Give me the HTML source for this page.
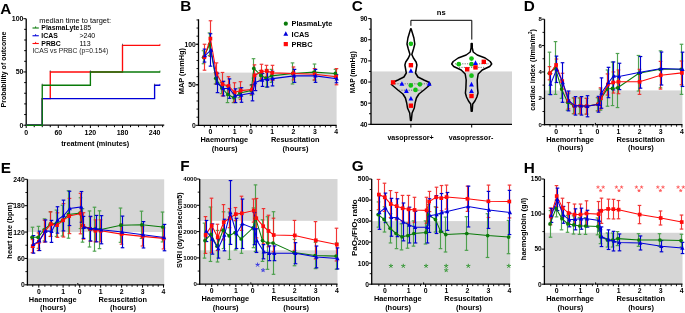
<!DOCTYPE html>
<html><head><meta charset="utf-8"><style>
html,body{margin:0;padding:0;background:#fff;width:685px;height:313px;overflow:hidden}
svg{display:block;will-change:transform}
text{font-family:"Liberation Sans", sans-serif}
</style></head><body>
<svg width="685" height="313" viewBox="0 0 685 313" font-family='"Liberation Sans", sans-serif'>
<rect x="0.00" y="0.00" width="685.00" height="313.00" fill="#fff"/>
<text x="0.20" y="13.90" font-size="15.3" font-weight="bold" text-anchor="start" fill="#000">A</text>
<line x1="26.20" y1="18.70" x2="26.20" y2="125.80" stroke="#000" stroke-width="1.3"/>
<line x1="23.40" y1="125.20" x2="26.20" y2="125.20" stroke="#000" stroke-width="1.0"/>
<text x="23.50" y="127.70" font-size="7.0" font-weight="bold" text-anchor="end" fill="#000">0</text>
<line x1="24.20" y1="114.55" x2="26.20" y2="114.55" stroke="#000" stroke-width="1.0"/>
<line x1="24.20" y1="103.90" x2="26.20" y2="103.90" stroke="#000" stroke-width="1.0"/>
<line x1="24.20" y1="93.25" x2="26.20" y2="93.25" stroke="#000" stroke-width="1.0"/>
<line x1="24.20" y1="82.60" x2="26.20" y2="82.60" stroke="#000" stroke-width="1.0"/>
<line x1="23.40" y1="71.95" x2="26.20" y2="71.95" stroke="#000" stroke-width="1.0"/>
<text x="23.50" y="74.45" font-size="7.0" font-weight="bold" text-anchor="end" fill="#000">50</text>
<line x1="24.20" y1="61.30" x2="26.20" y2="61.30" stroke="#000" stroke-width="1.0"/>
<line x1="24.20" y1="50.65" x2="26.20" y2="50.65" stroke="#000" stroke-width="1.0"/>
<line x1="24.20" y1="40.00" x2="26.20" y2="40.00" stroke="#000" stroke-width="1.0"/>
<line x1="24.20" y1="29.35" x2="26.20" y2="29.35" stroke="#000" stroke-width="1.0"/>
<line x1="23.40" y1="18.70" x2="26.20" y2="18.70" stroke="#000" stroke-width="1.0"/>
<text x="23.50" y="21.20" font-size="7.0" font-weight="bold" text-anchor="end" fill="#000">100</text>
<line x1="25.60" y1="125.20" x2="164.23" y2="125.20" stroke="#000" stroke-width="1.3"/>
<line x1="26.20" y1="125.20" x2="26.20" y2="128.00" stroke="#000" stroke-width="1.0"/>
<text x="26.20" y="134.60" font-size="7.0" font-weight="bold" text-anchor="middle" fill="#000">0</text>
<line x1="34.23" y1="125.20" x2="34.23" y2="127.20" stroke="#000" stroke-width="1.0"/>
<line x1="42.25" y1="125.20" x2="42.25" y2="127.20" stroke="#000" stroke-width="1.0"/>
<line x1="50.27" y1="125.20" x2="50.27" y2="127.20" stroke="#000" stroke-width="1.0"/>
<line x1="58.30" y1="125.20" x2="58.30" y2="128.00" stroke="#000" stroke-width="1.0"/>
<text x="58.30" y="134.60" font-size="7.0" font-weight="bold" text-anchor="middle" fill="#000">60</text>
<line x1="66.33" y1="125.20" x2="66.33" y2="127.20" stroke="#000" stroke-width="1.0"/>
<line x1="74.35" y1="125.20" x2="74.35" y2="127.20" stroke="#000" stroke-width="1.0"/>
<line x1="82.38" y1="125.20" x2="82.38" y2="127.20" stroke="#000" stroke-width="1.0"/>
<line x1="90.40" y1="125.20" x2="90.40" y2="128.00" stroke="#000" stroke-width="1.0"/>
<text x="90.40" y="134.60" font-size="7.0" font-weight="bold" text-anchor="middle" fill="#000">120</text>
<line x1="98.42" y1="125.20" x2="98.42" y2="127.20" stroke="#000" stroke-width="1.0"/>
<line x1="106.45" y1="125.20" x2="106.45" y2="127.20" stroke="#000" stroke-width="1.0"/>
<line x1="114.48" y1="125.20" x2="114.48" y2="127.20" stroke="#000" stroke-width="1.0"/>
<line x1="122.50" y1="125.20" x2="122.50" y2="128.00" stroke="#000" stroke-width="1.0"/>
<text x="122.50" y="134.60" font-size="7.0" font-weight="bold" text-anchor="middle" fill="#000">180</text>
<line x1="130.53" y1="125.20" x2="130.53" y2="127.20" stroke="#000" stroke-width="1.0"/>
<line x1="138.55" y1="125.20" x2="138.55" y2="127.20" stroke="#000" stroke-width="1.0"/>
<line x1="146.57" y1="125.20" x2="146.57" y2="127.20" stroke="#000" stroke-width="1.0"/>
<line x1="154.60" y1="125.20" x2="154.60" y2="128.00" stroke="#000" stroke-width="1.0"/>
<text x="154.60" y="134.60" font-size="7.0" font-weight="bold" text-anchor="middle" fill="#000">240</text>
<line x1="162.62" y1="125.20" x2="162.62" y2="127.20" stroke="#000" stroke-width="1.0"/>
<text x="95.20" y="145.60" font-size="7.3" font-weight="bold" text-anchor="middle" fill="#000">treatment (minutes)</text>
<text x="6.3" y="69.6" font-size="7.0" font-weight="bold" text-anchor="middle" transform="rotate(-90 6.3 69.6)">Probability of outcome</text>
<polyline points="26.20,125.20 42.25,125.20 42.25,98.58 50.27,98.58 50.27,71.95 122.50,71.95 122.50,45.33 159.95,45.33" fill="none" stroke="#ff0a0a" stroke-width="1.35"/>
<polyline points="26.20,125.20 42.25,125.20 42.25,98.58 154.60,98.58 154.60,85.26 159.95,85.26" fill="none" stroke="#0000d8" stroke-width="1.35"/>
<polyline points="26.20,125.20 42.25,125.20 42.25,85.26 90.40,85.26 90.40,71.95 159.95,71.95" fill="none" stroke="#0a7a0a" stroke-width="1.35"/>
<line x1="159.95" y1="43.93" x2="159.95" y2="45.93" stroke="#ff0a0a" stroke-width="0.8"/>
<line x1="159.95" y1="83.86" x2="159.95" y2="85.86" stroke="#0000d8" stroke-width="0.8"/>
<line x1="159.95" y1="70.55" x2="159.95" y2="72.55" stroke="#0a7a0a" stroke-width="0.8"/>
<line x1="42.25" y1="83.66" x2="42.25" y2="85.26" stroke="#333" stroke-width="0.7"/>
<line x1="50.27" y1="70.35" x2="50.27" y2="71.95" stroke="#333" stroke-width="0.7"/>
<line x1="90.40" y1="70.35" x2="90.40" y2="71.95" stroke="#333" stroke-width="0.7"/>
<line x1="122.50" y1="43.73" x2="122.50" y2="45.33" stroke="#333" stroke-width="0.7"/>
<line x1="154.60" y1="83.66" x2="154.60" y2="85.26" stroke="#333" stroke-width="0.7"/>
<text x="39.20" y="22.60" font-size="7.45" font-weight="normal" text-anchor="start" fill="#000">median time to target:</text>
<line x1="32.50" y1="28.00" x2="38.80" y2="28.00" stroke="#0a7a0a" stroke-width="1.1"/>
<line x1="35.60" y1="26.40" x2="35.60" y2="28.00" stroke="#0a7a0a" stroke-width="0.9"/>
<text x="41.30" y="30.30" font-size="6.9" font-weight="bold" text-anchor="start" fill="#000">PlasmaLyte</text>
<text x="79.50" y="30.30" font-size="7.0" font-weight="normal" text-anchor="start" fill="#000">185</text>
<line x1="32.50" y1="35.75" x2="38.80" y2="35.75" stroke="#0000d8" stroke-width="1.1"/>
<line x1="35.60" y1="34.15" x2="35.60" y2="35.75" stroke="#0000d8" stroke-width="0.9"/>
<text x="41.30" y="38.05" font-size="6.9" font-weight="bold" text-anchor="start" fill="#000">ICAS</text>
<text x="79.50" y="38.05" font-size="7.0" font-weight="normal" text-anchor="start" fill="#000">&gt;240</text>
<line x1="32.50" y1="43.50" x2="38.80" y2="43.50" stroke="#ff0a0a" stroke-width="1.1"/>
<line x1="35.60" y1="41.90" x2="35.60" y2="43.50" stroke="#ff0a0a" stroke-width="0.9"/>
<text x="41.30" y="45.80" font-size="6.9" font-weight="bold" text-anchor="start" fill="#000">PRBC</text>
<text x="79.50" y="45.80" font-size="7.0" font-weight="normal" text-anchor="start" fill="#000">113</text>
<text x="32.40" y="53.20" font-size="6.75" font-weight="normal" text-anchor="start" fill="#222">ICAS vs PRBC (p=0.154)</text>
<text x="180.30" y="11.00" font-size="15.3" font-weight="bold" text-anchor="start" fill="#000">B</text>
<rect x="198.50" y="72.62" width="138.10" height="52.68" fill="#d6d6d6"/>
<g stroke="#3f9a3f" stroke-width="1.15" opacity="0.9">
<line x1="203.50" y1="50.74" x2="203.50" y2="63.71" stroke="#3f9a3f" stroke-width="1.15"/>
<line x1="201.70" y1="50.74" x2="205.30" y2="50.74" stroke="#3f9a3f" stroke-width="1.2"/>
<line x1="201.70" y1="63.71" x2="205.30" y2="63.71" stroke="#3f9a3f" stroke-width="1.2"/>
</g>
<g stroke="#3f9a3f" stroke-width="1.15" opacity="0.9">
<line x1="209.50" y1="32.91" x2="209.50" y2="55.61" stroke="#3f9a3f" stroke-width="1.15"/>
<line x1="207.70" y1="32.91" x2="211.30" y2="32.91" stroke="#3f9a3f" stroke-width="1.2"/>
<line x1="207.70" y1="55.61" x2="211.30" y2="55.61" stroke="#3f9a3f" stroke-width="1.2"/>
</g>
<g stroke="#3f9a3f" stroke-width="1.15" opacity="0.9">
<line x1="215.50" y1="72.62" x2="215.50" y2="83.97" stroke="#3f9a3f" stroke-width="1.15"/>
<line x1="213.70" y1="72.62" x2="217.30" y2="72.62" stroke="#3f9a3f" stroke-width="1.2"/>
<line x1="213.70" y1="83.97" x2="217.30" y2="83.97" stroke="#3f9a3f" stroke-width="1.2"/>
</g>
<g stroke="#3f9a3f" stroke-width="1.15" opacity="0.9">
<line x1="221.50" y1="82.35" x2="221.50" y2="93.69" stroke="#3f9a3f" stroke-width="1.15"/>
<line x1="219.70" y1="82.35" x2="223.30" y2="82.35" stroke="#3f9a3f" stroke-width="1.2"/>
<line x1="219.70" y1="93.69" x2="223.30" y2="93.69" stroke="#3f9a3f" stroke-width="1.2"/>
</g>
<g stroke="#3f9a3f" stroke-width="1.15" opacity="0.9">
<line x1="227.50" y1="86.40" x2="227.50" y2="102.61" stroke="#3f9a3f" stroke-width="1.15"/>
<line x1="225.70" y1="86.40" x2="229.30" y2="86.40" stroke="#3f9a3f" stroke-width="1.2"/>
<line x1="225.70" y1="102.61" x2="229.30" y2="102.61" stroke="#3f9a3f" stroke-width="1.2"/>
</g>
<g stroke="#3f9a3f" stroke-width="1.15" opacity="0.9">
<line x1="233.50" y1="92.88" x2="233.50" y2="102.61" stroke="#3f9a3f" stroke-width="1.15"/>
<line x1="231.70" y1="92.88" x2="235.30" y2="92.88" stroke="#3f9a3f" stroke-width="1.2"/>
<line x1="231.70" y1="102.61" x2="235.30" y2="102.61" stroke="#3f9a3f" stroke-width="1.2"/>
</g>
<g stroke="#3f9a3f" stroke-width="1.15" opacity="0.9">
<line x1="239.50" y1="88.02" x2="239.50" y2="97.75" stroke="#3f9a3f" stroke-width="1.15"/>
<line x1="237.70" y1="88.02" x2="241.30" y2="88.02" stroke="#3f9a3f" stroke-width="1.2"/>
<line x1="237.70" y1="97.75" x2="241.30" y2="97.75" stroke="#3f9a3f" stroke-width="1.2"/>
</g>
<g stroke="#3f9a3f" stroke-width="1.15" opacity="0.9">
<line x1="251.50" y1="85.59" x2="251.50" y2="95.32" stroke="#3f9a3f" stroke-width="1.15"/>
<line x1="249.70" y1="85.59" x2="253.30" y2="85.59" stroke="#3f9a3f" stroke-width="1.2"/>
<line x1="249.70" y1="95.32" x2="253.30" y2="95.32" stroke="#3f9a3f" stroke-width="1.2"/>
</g>
<g stroke="#3f9a3f" stroke-width="1.15" opacity="0.9">
<line x1="253.50" y1="58.69" x2="253.50" y2="78.13" stroke="#3f9a3f" stroke-width="1.15"/>
<line x1="251.70" y1="58.69" x2="255.30" y2="58.69" stroke="#3f9a3f" stroke-width="1.2"/>
<line x1="251.70" y1="78.13" x2="255.30" y2="78.13" stroke="#3f9a3f" stroke-width="1.2"/>
</g>
<g stroke="#3f9a3f" stroke-width="1.15" opacity="0.9">
<line x1="260.50" y1="70.52" x2="260.50" y2="80.24" stroke="#3f9a3f" stroke-width="1.15"/>
<line x1="258.70" y1="70.52" x2="262.30" y2="70.52" stroke="#3f9a3f" stroke-width="1.2"/>
<line x1="258.70" y1="80.24" x2="262.30" y2="80.24" stroke="#3f9a3f" stroke-width="1.2"/>
</g>
<g stroke="#3f9a3f" stroke-width="1.15" opacity="0.9">
<line x1="266.50" y1="69.38" x2="266.50" y2="87.21" stroke="#3f9a3f" stroke-width="1.15"/>
<line x1="264.70" y1="69.38" x2="268.30" y2="69.38" stroke="#3f9a3f" stroke-width="1.2"/>
<line x1="264.70" y1="87.21" x2="268.30" y2="87.21" stroke="#3f9a3f" stroke-width="1.2"/>
</g>
<g stroke="#3f9a3f" stroke-width="1.15" opacity="0.9">
<line x1="271.50" y1="69.38" x2="271.50" y2="82.35" stroke="#3f9a3f" stroke-width="1.15"/>
<line x1="269.70" y1="69.38" x2="273.30" y2="69.38" stroke="#3f9a3f" stroke-width="1.2"/>
<line x1="269.70" y1="82.35" x2="273.30" y2="82.35" stroke="#3f9a3f" stroke-width="1.2"/>
</g>
<g stroke="#3f9a3f" stroke-width="1.15" opacity="0.9">
<line x1="292.50" y1="62.90" x2="292.50" y2="83.97" stroke="#3f9a3f" stroke-width="1.15"/>
<line x1="290.70" y1="62.90" x2="294.30" y2="62.90" stroke="#3f9a3f" stroke-width="1.2"/>
<line x1="290.70" y1="83.97" x2="294.30" y2="83.97" stroke="#3f9a3f" stroke-width="1.2"/>
</g>
<g stroke="#3f9a3f" stroke-width="1.15" opacity="0.9">
<line x1="314.50" y1="64.03" x2="314.50" y2="80.24" stroke="#3f9a3f" stroke-width="1.15"/>
<line x1="312.70" y1="64.03" x2="316.30" y2="64.03" stroke="#3f9a3f" stroke-width="1.2"/>
<line x1="312.70" y1="80.24" x2="316.30" y2="80.24" stroke="#3f9a3f" stroke-width="1.2"/>
</g>
<g stroke="#3f9a3f" stroke-width="1.15" opacity="0.9">
<line x1="335.50" y1="69.38" x2="335.50" y2="77.49" stroke="#3f9a3f" stroke-width="1.15"/>
<line x1="333.70" y1="69.38" x2="337.30" y2="69.38" stroke="#3f9a3f" stroke-width="1.2"/>
<line x1="333.70" y1="77.49" x2="337.30" y2="77.49" stroke="#3f9a3f" stroke-width="1.2"/>
</g>
<g stroke="#f02020" stroke-width="1.15" opacity="0.9">
<line x1="204.50" y1="44.26" x2="204.50" y2="70.19" stroke="#f02020" stroke-width="1.15"/>
<line x1="202.70" y1="44.26" x2="206.30" y2="44.26" stroke="#f02020" stroke-width="1.2"/>
<line x1="202.70" y1="70.19" x2="206.30" y2="70.19" stroke="#f02020" stroke-width="1.2"/>
</g>
<g stroke="#f02020" stroke-width="1.15" opacity="0.9">
<line x1="210.50" y1="20.76" x2="210.50" y2="56.42" stroke="#f02020" stroke-width="1.15"/>
<line x1="208.70" y1="20.76" x2="212.30" y2="20.76" stroke="#f02020" stroke-width="1.2"/>
<line x1="208.70" y1="56.42" x2="212.30" y2="56.42" stroke="#f02020" stroke-width="1.2"/>
</g>
<g stroke="#f02020" stroke-width="1.15" opacity="0.9">
<line x1="216.50" y1="62.90" x2="216.50" y2="83.97" stroke="#f02020" stroke-width="1.15"/>
<line x1="214.70" y1="62.90" x2="218.30" y2="62.90" stroke="#f02020" stroke-width="1.2"/>
<line x1="214.70" y1="83.97" x2="218.30" y2="83.97" stroke="#f02020" stroke-width="1.2"/>
</g>
<g stroke="#f02020" stroke-width="1.15" opacity="0.9">
<line x1="222.50" y1="72.46" x2="222.50" y2="95.96" stroke="#f02020" stroke-width="1.15"/>
<line x1="220.70" y1="72.46" x2="224.30" y2="72.46" stroke="#f02020" stroke-width="1.2"/>
<line x1="220.70" y1="95.96" x2="224.30" y2="95.96" stroke="#f02020" stroke-width="1.2"/>
</g>
<g stroke="#f02020" stroke-width="1.15" opacity="0.9">
<line x1="228.50" y1="76.68" x2="228.50" y2="95.32" stroke="#f02020" stroke-width="1.15"/>
<line x1="226.70" y1="76.68" x2="230.30" y2="76.68" stroke="#f02020" stroke-width="1.2"/>
<line x1="226.70" y1="95.32" x2="230.30" y2="95.32" stroke="#f02020" stroke-width="1.2"/>
</g>
<g stroke="#f02020" stroke-width="1.15" opacity="0.9">
<line x1="234.50" y1="82.75" x2="234.50" y2="102.20" stroke="#f02020" stroke-width="1.15"/>
<line x1="232.70" y1="82.75" x2="236.30" y2="82.75" stroke="#f02020" stroke-width="1.2"/>
<line x1="232.70" y1="102.20" x2="236.30" y2="102.20" stroke="#f02020" stroke-width="1.2"/>
</g>
<g stroke="#f02020" stroke-width="1.15" opacity="0.9">
<line x1="240.50" y1="81.70" x2="240.50" y2="99.53" stroke="#f02020" stroke-width="1.15"/>
<line x1="238.70" y1="81.70" x2="242.30" y2="81.70" stroke="#f02020" stroke-width="1.2"/>
<line x1="238.70" y1="99.53" x2="242.30" y2="99.53" stroke="#f02020" stroke-width="1.2"/>
</g>
<g stroke="#f02020" stroke-width="1.15" opacity="0.9">
<line x1="251.50" y1="84.62" x2="251.50" y2="94.34" stroke="#f02020" stroke-width="1.15"/>
<line x1="249.70" y1="84.62" x2="253.30" y2="84.62" stroke="#f02020" stroke-width="1.2"/>
<line x1="249.70" y1="94.34" x2="253.30" y2="94.34" stroke="#f02020" stroke-width="1.2"/>
</g>
<g stroke="#f02020" stroke-width="1.15" opacity="0.9">
<line x1="254.50" y1="64.84" x2="254.50" y2="85.91" stroke="#f02020" stroke-width="1.15"/>
<line x1="252.70" y1="64.84" x2="256.30" y2="64.84" stroke="#f02020" stroke-width="1.2"/>
<line x1="252.70" y1="85.91" x2="256.30" y2="85.91" stroke="#f02020" stroke-width="1.2"/>
</g>
<g stroke="#f02020" stroke-width="1.15" opacity="0.9">
<line x1="261.50" y1="64.28" x2="261.50" y2="78.86" stroke="#f02020" stroke-width="1.15"/>
<line x1="259.70" y1="64.28" x2="263.30" y2="64.28" stroke="#f02020" stroke-width="1.2"/>
<line x1="259.70" y1="78.86" x2="263.30" y2="78.86" stroke="#f02020" stroke-width="1.2"/>
</g>
<g stroke="#f02020" stroke-width="1.15" opacity="0.9">
<line x1="266.50" y1="65.33" x2="266.50" y2="76.68" stroke="#f02020" stroke-width="1.15"/>
<line x1="264.70" y1="65.33" x2="268.30" y2="65.33" stroke="#f02020" stroke-width="1.2"/>
<line x1="264.70" y1="76.68" x2="268.30" y2="76.68" stroke="#f02020" stroke-width="1.2"/>
</g>
<g stroke="#f02020" stroke-width="1.15" opacity="0.9">
<line x1="272.50" y1="65.33" x2="272.50" y2="80.40" stroke="#f02020" stroke-width="1.15"/>
<line x1="270.70" y1="65.33" x2="274.30" y2="65.33" stroke="#f02020" stroke-width="1.2"/>
<line x1="270.70" y1="80.40" x2="274.30" y2="80.40" stroke="#f02020" stroke-width="1.2"/>
</g>
<g stroke="#f02020" stroke-width="1.15" opacity="0.9">
<line x1="293.50" y1="66.95" x2="293.50" y2="79.92" stroke="#f02020" stroke-width="1.15"/>
<line x1="291.70" y1="66.95" x2="295.30" y2="66.95" stroke="#f02020" stroke-width="1.2"/>
<line x1="291.70" y1="79.92" x2="295.30" y2="79.92" stroke="#f02020" stroke-width="1.2"/>
</g>
<g stroke="#f02020" stroke-width="1.15" opacity="0.9">
<line x1="314.50" y1="68.57" x2="314.50" y2="79.92" stroke="#f02020" stroke-width="1.15"/>
<line x1="312.70" y1="68.57" x2="316.30" y2="68.57" stroke="#f02020" stroke-width="1.2"/>
<line x1="312.70" y1="79.92" x2="316.30" y2="79.92" stroke="#f02020" stroke-width="1.2"/>
</g>
<g stroke="#f02020" stroke-width="1.15" opacity="0.9">
<line x1="336.50" y1="68.57" x2="336.50" y2="84.78" stroke="#f02020" stroke-width="1.15"/>
<line x1="334.70" y1="68.57" x2="338.30" y2="68.57" stroke="#f02020" stroke-width="1.2"/>
<line x1="334.70" y1="84.78" x2="338.30" y2="84.78" stroke="#f02020" stroke-width="1.2"/>
</g>
<g stroke="#0000d0" stroke-width="1.15" opacity="1.0">
<line x1="204.50" y1="49.12" x2="204.50" y2="62.09" stroke="#0000d0" stroke-width="1.15"/>
<line x1="202.70" y1="49.12" x2="206.30" y2="49.12" stroke="#0000d0" stroke-width="1.2"/>
<line x1="202.70" y1="62.09" x2="206.30" y2="62.09" stroke="#0000d0" stroke-width="1.2"/>
</g>
<g stroke="#0000d0" stroke-width="1.15" opacity="1.0">
<line x1="210.50" y1="33.73" x2="210.50" y2="66.14" stroke="#0000d0" stroke-width="1.15"/>
<line x1="208.70" y1="33.73" x2="212.30" y2="33.73" stroke="#0000d0" stroke-width="1.2"/>
<line x1="208.70" y1="66.14" x2="212.30" y2="66.14" stroke="#0000d0" stroke-width="1.2"/>
</g>
<g stroke="#0000d0" stroke-width="1.15" opacity="1.0">
<line x1="217.50" y1="73.19" x2="217.50" y2="92.64" stroke="#0000d0" stroke-width="1.15"/>
<line x1="215.70" y1="73.19" x2="219.30" y2="73.19" stroke="#0000d0" stroke-width="1.2"/>
<line x1="215.70" y1="92.64" x2="219.30" y2="92.64" stroke="#0000d0" stroke-width="1.2"/>
</g>
<g stroke="#0000d0" stroke-width="1.15" opacity="1.0">
<line x1="223.50" y1="81.30" x2="223.50" y2="95.88" stroke="#0000d0" stroke-width="1.15"/>
<line x1="221.70" y1="81.30" x2="225.30" y2="81.30" stroke="#0000d0" stroke-width="1.2"/>
<line x1="221.70" y1="95.88" x2="225.30" y2="95.88" stroke="#0000d0" stroke-width="1.2"/>
</g>
<g stroke="#0000d0" stroke-width="1.15" opacity="1.0">
<line x1="229.50" y1="78.86" x2="229.50" y2="98.31" stroke="#0000d0" stroke-width="1.15"/>
<line x1="227.70" y1="78.86" x2="231.30" y2="78.86" stroke="#0000d0" stroke-width="1.2"/>
<line x1="227.70" y1="98.31" x2="231.30" y2="98.31" stroke="#0000d0" stroke-width="1.2"/>
</g>
<g stroke="#0000d0" stroke-width="1.15" opacity="1.0">
<line x1="235.50" y1="88.83" x2="235.50" y2="102.61" stroke="#0000d0" stroke-width="1.15"/>
<line x1="233.70" y1="88.83" x2="237.30" y2="88.83" stroke="#0000d0" stroke-width="1.2"/>
<line x1="233.70" y1="102.61" x2="237.30" y2="102.61" stroke="#0000d0" stroke-width="1.2"/>
</g>
<g stroke="#0000d0" stroke-width="1.15" opacity="1.0">
<line x1="241.50" y1="87.70" x2="241.50" y2="102.28" stroke="#0000d0" stroke-width="1.15"/>
<line x1="239.70" y1="87.70" x2="243.30" y2="87.70" stroke="#0000d0" stroke-width="1.2"/>
<line x1="239.70" y1="102.28" x2="243.30" y2="102.28" stroke="#0000d0" stroke-width="1.2"/>
</g>
<g stroke="#0000d0" stroke-width="1.15" opacity="1.0">
<line x1="252.50" y1="84.62" x2="252.50" y2="100.83" stroke="#0000d0" stroke-width="1.15"/>
<line x1="250.70" y1="84.62" x2="254.30" y2="84.62" stroke="#0000d0" stroke-width="1.2"/>
<line x1="250.70" y1="100.83" x2="254.30" y2="100.83" stroke="#0000d0" stroke-width="1.2"/>
</g>
<g stroke="#0000d0" stroke-width="1.15" opacity="1.0">
<line x1="255.50" y1="74.41" x2="255.50" y2="90.61" stroke="#0000d0" stroke-width="1.15"/>
<line x1="253.70" y1="74.41" x2="257.30" y2="74.41" stroke="#0000d0" stroke-width="1.2"/>
<line x1="253.70" y1="90.61" x2="257.30" y2="90.61" stroke="#0000d0" stroke-width="1.2"/>
</g>
<g stroke="#0000d0" stroke-width="1.15" opacity="1.0">
<line x1="262.50" y1="73.43" x2="262.50" y2="86.40" stroke="#0000d0" stroke-width="1.15"/>
<line x1="260.70" y1="73.43" x2="264.30" y2="73.43" stroke="#0000d0" stroke-width="1.2"/>
<line x1="260.70" y1="86.40" x2="264.30" y2="86.40" stroke="#0000d0" stroke-width="1.2"/>
</g>
<g stroke="#0000d0" stroke-width="1.15" opacity="1.0">
<line x1="267.50" y1="71.57" x2="267.50" y2="86.97" stroke="#0000d0" stroke-width="1.15"/>
<line x1="265.70" y1="71.57" x2="269.30" y2="71.57" stroke="#0000d0" stroke-width="1.2"/>
<line x1="265.70" y1="86.97" x2="269.30" y2="86.97" stroke="#0000d0" stroke-width="1.2"/>
</g>
<g stroke="#0000d0" stroke-width="1.15" opacity="1.0">
<line x1="272.50" y1="71.33" x2="272.50" y2="85.91" stroke="#0000d0" stroke-width="1.15"/>
<line x1="270.70" y1="71.33" x2="274.30" y2="71.33" stroke="#0000d0" stroke-width="1.2"/>
<line x1="270.70" y1="85.91" x2="274.30" y2="85.91" stroke="#0000d0" stroke-width="1.2"/>
</g>
<g stroke="#0000d0" stroke-width="1.15" opacity="1.0">
<line x1="294.50" y1="69.38" x2="294.50" y2="82.35" stroke="#0000d0" stroke-width="1.15"/>
<line x1="292.70" y1="69.38" x2="296.30" y2="69.38" stroke="#0000d0" stroke-width="1.2"/>
<line x1="292.70" y1="82.35" x2="296.30" y2="82.35" stroke="#0000d0" stroke-width="1.2"/>
</g>
<g stroke="#0000d0" stroke-width="1.15" opacity="1.0">
<line x1="315.50" y1="69.38" x2="315.50" y2="82.35" stroke="#0000d0" stroke-width="1.15"/>
<line x1="313.70" y1="69.38" x2="317.30" y2="69.38" stroke="#0000d0" stroke-width="1.2"/>
<line x1="313.70" y1="82.35" x2="317.30" y2="82.35" stroke="#0000d0" stroke-width="1.2"/>
</g>
<g stroke="#0000d0" stroke-width="1.15" opacity="1.0">
<line x1="336.50" y1="74.65" x2="336.50" y2="82.75" stroke="#0000d0" stroke-width="1.15"/>
<line x1="334.70" y1="74.65" x2="338.30" y2="74.65" stroke="#0000d0" stroke-width="1.2"/>
<line x1="334.70" y1="82.75" x2="338.30" y2="82.75" stroke="#0000d0" stroke-width="1.2"/>
</g>
<polyline points="203.65,57.23 209.70,44.26 215.75,78.30 221.80,88.02 227.85,94.50 233.90,97.75 239.95,92.88 251.27,90.45 253.82,68.41 260.85,75.38 266.18,78.30 271.50,75.87 292.80,73.43 314.10,72.14 335.40,73.43" fill="none" stroke="#0a7a0a" stroke-width="1.05"/>
<circle cx="203.65" cy="57.23" r="1.85" fill="#0a7a0a"/>
<circle cx="209.70" cy="44.26" r="1.85" fill="#0a7a0a"/>
<circle cx="215.75" cy="78.30" r="1.85" fill="#0a7a0a"/>
<circle cx="221.80" cy="88.02" r="1.85" fill="#0a7a0a"/>
<circle cx="227.85" cy="94.50" r="1.85" fill="#0a7a0a"/>
<circle cx="233.90" cy="97.75" r="1.85" fill="#0a7a0a"/>
<circle cx="239.95" cy="92.88" r="1.85" fill="#0a7a0a"/>
<circle cx="251.27" cy="90.45" r="1.85" fill="#0a7a0a"/>
<circle cx="253.82" cy="68.41" r="1.85" fill="#0a7a0a"/>
<circle cx="260.85" cy="75.38" r="1.85" fill="#0a7a0a"/>
<circle cx="266.18" cy="78.30" r="1.85" fill="#0a7a0a"/>
<circle cx="271.50" cy="75.87" r="1.85" fill="#0a7a0a"/>
<circle cx="292.80" cy="73.43" r="1.85" fill="#0a7a0a"/>
<circle cx="314.10" cy="72.14" r="1.85" fill="#0a7a0a"/>
<circle cx="335.40" cy="73.43" r="1.85" fill="#0a7a0a"/>
<polyline points="204.35,57.23 210.40,38.59 216.45,73.43 222.50,84.21 228.55,86.00 234.60,92.48 240.65,90.61 251.97,89.48 254.52,75.38 261.55,71.57 266.88,71.00 272.20,72.87 293.50,73.43 314.80,74.24 336.10,76.68" fill="none" stroke="#ff0a0a" stroke-width="1.05"/>
<rect x="202.50" y="55.38" width="3.70" height="3.70" fill="#ff0a0a"/>
<rect x="208.55" y="36.74" width="3.70" height="3.70" fill="#ff0a0a"/>
<rect x="214.60" y="71.58" width="3.70" height="3.70" fill="#ff0a0a"/>
<rect x="220.65" y="82.36" width="3.70" height="3.70" fill="#ff0a0a"/>
<rect x="226.70" y="84.15" width="3.70" height="3.70" fill="#ff0a0a"/>
<rect x="232.75" y="90.63" width="3.70" height="3.70" fill="#ff0a0a"/>
<rect x="238.80" y="88.76" width="3.70" height="3.70" fill="#ff0a0a"/>
<rect x="250.12" y="87.63" width="3.70" height="3.70" fill="#ff0a0a"/>
<rect x="252.67" y="73.53" width="3.70" height="3.70" fill="#ff0a0a"/>
<rect x="259.70" y="69.72" width="3.70" height="3.70" fill="#ff0a0a"/>
<rect x="265.02" y="69.15" width="3.70" height="3.70" fill="#ff0a0a"/>
<rect x="270.35" y="71.02" width="3.70" height="3.70" fill="#ff0a0a"/>
<rect x="291.65" y="71.58" width="3.70" height="3.70" fill="#ff0a0a"/>
<rect x="312.95" y="72.39" width="3.70" height="3.70" fill="#ff0a0a"/>
<rect x="334.25" y="74.83" width="3.70" height="3.70" fill="#ff0a0a"/>
<polyline points="204.95,55.61 211.00,49.93 217.05,82.92 223.10,88.59 229.15,88.59 235.20,95.72 241.25,94.99 252.56,92.72 255.12,82.51 262.15,79.92 267.48,79.27 272.80,78.62 294.10,75.87 315.40,75.87 336.70,78.70" fill="none" stroke="#0000d8" stroke-width="1.05"/>
<polygon points="204.95,53.27 202.82,57.34 207.08,57.34" fill="#0000d8"/>
<polygon points="211.00,47.59 208.87,51.66 213.13,51.66" fill="#0000d8"/>
<polygon points="217.05,80.58 214.92,84.65 219.18,84.65" fill="#0000d8"/>
<polygon points="223.10,86.25 220.97,90.32 225.23,90.32" fill="#0000d8"/>
<polygon points="229.15,86.25 227.02,90.32 231.28,90.32" fill="#0000d8"/>
<polygon points="235.20,93.38 233.07,97.45 237.33,97.45" fill="#0000d8"/>
<polygon points="241.25,92.65 239.12,96.72 243.38,96.72" fill="#0000d8"/>
<polygon points="252.56,90.38 250.44,94.45 254.69,94.45" fill="#0000d8"/>
<polygon points="255.12,80.17 252.99,84.24 257.25,84.24" fill="#0000d8"/>
<polygon points="262.15,77.58 260.02,81.65 264.28,81.65" fill="#0000d8"/>
<polygon points="267.48,76.93 265.35,81.00 269.60,81.00" fill="#0000d8"/>
<polygon points="272.80,76.28 270.67,80.35 274.93,80.35" fill="#0000d8"/>
<polygon points="294.10,73.53 291.97,77.60 296.23,77.60" fill="#0000d8"/>
<polygon points="315.40,73.53 313.27,77.60 317.53,77.60" fill="#0000d8"/>
<polygon points="336.70,76.36 334.57,80.43 338.83,80.43" fill="#0000d8"/>
<line x1="198.50" y1="19.30" x2="198.50" y2="125.90" stroke="#000" stroke-width="1.3"/>
<line x1="196.50" y1="117.20" x2="198.50" y2="117.20" stroke="#000" stroke-width="0.9"/>
<line x1="196.50" y1="109.09" x2="198.50" y2="109.09" stroke="#000" stroke-width="0.9"/>
<line x1="196.50" y1="100.99" x2="198.50" y2="100.99" stroke="#000" stroke-width="0.9"/>
<line x1="196.50" y1="92.88" x2="198.50" y2="92.88" stroke="#000" stroke-width="0.9"/>
<line x1="196.50" y1="84.78" x2="198.50" y2="84.78" stroke="#000" stroke-width="0.9"/>
<line x1="196.50" y1="76.68" x2="198.50" y2="76.68" stroke="#000" stroke-width="0.9"/>
<line x1="196.50" y1="68.57" x2="198.50" y2="68.57" stroke="#000" stroke-width="0.9"/>
<line x1="196.50" y1="60.47" x2="198.50" y2="60.47" stroke="#000" stroke-width="0.9"/>
<line x1="196.50" y1="52.36" x2="198.50" y2="52.36" stroke="#000" stroke-width="0.9"/>
<line x1="196.50" y1="44.26" x2="198.50" y2="44.26" stroke="#000" stroke-width="0.9"/>
<line x1="196.50" y1="36.16" x2="198.50" y2="36.16" stroke="#000" stroke-width="0.9"/>
<line x1="196.50" y1="28.05" x2="198.50" y2="28.05" stroke="#000" stroke-width="0.9"/>
<line x1="196.50" y1="19.95" x2="198.50" y2="19.95" stroke="#000" stroke-width="0.9"/>
<line x1="195.70" y1="125.30" x2="198.50" y2="125.30" stroke="#000" stroke-width="1.0"/>
<text x="195.80" y="127.75" font-size="6.8" font-weight="bold" text-anchor="end" fill="#000">0</text>
<line x1="195.70" y1="84.78" x2="198.50" y2="84.78" stroke="#000" stroke-width="1.0"/>
<text x="195.80" y="87.23" font-size="6.8" font-weight="bold" text-anchor="end" fill="#000">50</text>
<line x1="195.70" y1="44.26" x2="198.50" y2="44.26" stroke="#000" stroke-width="1.0"/>
<text x="195.80" y="46.71" font-size="6.8" font-weight="bold" text-anchor="end" fill="#000">100</text>
<line x1="197.90" y1="125.30" x2="249.00" y2="125.30" stroke="#000" stroke-width="1.3"/>
<line x1="250.40" y1="125.30" x2="336.60" y2="125.30" stroke="#000" stroke-width="1.3"/>
<line x1="250.40" y1="123.50" x2="250.40" y2="125.90" stroke="#000" stroke-width="1.0"/>
<line x1="204.35" y1="125.30" x2="204.35" y2="127.30" stroke="#000" stroke-width="0.9"/>
<line x1="210.40" y1="125.30" x2="210.40" y2="128.10" stroke="#000" stroke-width="1.0"/>
<text x="210.40" y="134.10" font-size="6.9" font-weight="bold" text-anchor="middle" fill="#000">0</text>
<line x1="216.45" y1="125.30" x2="216.45" y2="127.30" stroke="#000" stroke-width="0.9"/>
<line x1="222.50" y1="125.30" x2="222.50" y2="127.30" stroke="#000" stroke-width="0.9"/>
<line x1="228.55" y1="125.30" x2="228.55" y2="127.30" stroke="#000" stroke-width="0.9"/>
<line x1="234.60" y1="125.30" x2="234.60" y2="128.10" stroke="#000" stroke-width="1.0"/>
<text x="234.60" y="134.10" font-size="6.9" font-weight="bold" text-anchor="middle" fill="#000">1</text>
<line x1="240.65" y1="125.30" x2="240.65" y2="127.30" stroke="#000" stroke-width="0.9"/>
<line x1="246.70" y1="125.30" x2="246.70" y2="127.30" stroke="#000" stroke-width="0.9"/>
<line x1="250.90" y1="125.30" x2="250.90" y2="128.10" stroke="#000" stroke-width="1.0"/>
<text x="250.90" y="134.10" font-size="6.9" font-weight="bold" text-anchor="middle" fill="#000">0</text>
<line x1="256.23" y1="125.30" x2="256.23" y2="127.30" stroke="#000" stroke-width="0.9"/>
<line x1="261.55" y1="125.30" x2="261.55" y2="127.30" stroke="#000" stroke-width="0.9"/>
<line x1="266.88" y1="125.30" x2="266.88" y2="127.30" stroke="#000" stroke-width="0.9"/>
<line x1="272.20" y1="125.30" x2="272.20" y2="128.10" stroke="#000" stroke-width="1.0"/>
<text x="272.20" y="134.10" font-size="6.9" font-weight="bold" text-anchor="middle" fill="#000">1</text>
<line x1="277.52" y1="125.30" x2="277.52" y2="127.30" stroke="#000" stroke-width="0.9"/>
<line x1="282.85" y1="125.30" x2="282.85" y2="127.30" stroke="#000" stroke-width="0.9"/>
<line x1="288.18" y1="125.30" x2="288.18" y2="127.30" stroke="#000" stroke-width="0.9"/>
<line x1="293.50" y1="125.30" x2="293.50" y2="128.10" stroke="#000" stroke-width="1.0"/>
<text x="293.50" y="134.10" font-size="6.9" font-weight="bold" text-anchor="middle" fill="#000">2</text>
<line x1="298.82" y1="125.30" x2="298.82" y2="127.30" stroke="#000" stroke-width="0.9"/>
<line x1="304.15" y1="125.30" x2="304.15" y2="127.30" stroke="#000" stroke-width="0.9"/>
<line x1="309.48" y1="125.30" x2="309.48" y2="127.30" stroke="#000" stroke-width="0.9"/>
<line x1="314.80" y1="125.30" x2="314.80" y2="128.10" stroke="#000" stroke-width="1.0"/>
<text x="314.80" y="134.10" font-size="6.9" font-weight="bold" text-anchor="middle" fill="#000">3</text>
<line x1="320.12" y1="125.30" x2="320.12" y2="127.30" stroke="#000" stroke-width="0.9"/>
<line x1="325.45" y1="125.30" x2="325.45" y2="127.30" stroke="#000" stroke-width="0.9"/>
<line x1="330.77" y1="125.30" x2="330.77" y2="127.30" stroke="#000" stroke-width="0.9"/>
<line x1="336.10" y1="125.30" x2="336.10" y2="128.10" stroke="#000" stroke-width="1.0"/>
<text x="336.10" y="134.10" font-size="6.9" font-weight="bold" text-anchor="middle" fill="#000">4</text>
<text x="224.35" y="142.20" font-size="7.4" font-weight="bold" text-anchor="middle" fill="#000">Haemorrhage</text>
<text x="224.65" y="150.70" font-size="7.5" font-weight="bold" text-anchor="middle" fill="#000">(hours)</text>
<text x="295.20" y="142.20" font-size="7.4" font-weight="bold" text-anchor="middle" fill="#000">Resuscitation</text>
<text x="295.50" y="150.70" font-size="7.5" font-weight="bold" text-anchor="middle" fill="#000">(hours)</text>
<text x="184.30" y="71.10" font-size="7.4" font-weight="bold" text-anchor="middle" transform="rotate(-90 184.30 71.10)">MAP (mmHg)</text>
<circle cx="285.80" cy="23.70" r="2.10" fill="#0a7a0a"/>
<text x="291.60" y="26.40" font-size="7.4" font-weight="bold" text-anchor="start" fill="#000">PlasmaLyte</text>
<polygon points="285.80,31.24 283.38,35.86 288.22,35.86" fill="#0000d8"/>
<text x="291.60" y="36.60" font-size="7.4" font-weight="bold" text-anchor="start" fill="#000">ICAS</text>
<rect x="283.70" y="42.00" width="4.20" height="4.20" fill="#ff0a0a"/>
<text x="291.60" y="46.80" font-size="7.4" font-weight="bold" text-anchor="start" fill="#000">PRBC</text>
<text x="351.80" y="11.00" font-size="15.3" font-weight="bold" text-anchor="start" fill="#000">C</text>
<rect x="371.00" y="71.45" width="141.00" height="52.85" fill="#d6d6d6"/>
<path d="M 410.70,28.70 L 409.40,33.00 L 407.90,38.00 L 407.00,44.00 L 408.30,49.00 L 410.00,54.40 L 408.40,58.00 L 405.70,62.00 L 404.90,65.00 L 405.60,69.00 L 406.30,73.00 L 403.90,77.00 L 397.90,80.00 L 392.40,82.50 L 391.40,84.50 L 394.40,87.00 L 397.90,90.00 L 402.90,94.00 L 405.40,98.00 L 406.70,103.00 L 407.50,108.00 L 409.70,113.00 L 410.50,120.50 L 411.30,120.50 L 412.10,113.00 L 414.30,108.00 L 415.10,103.00 L 416.40,98.00 L 418.90,94.00 L 423.90,90.00 L 427.40,87.00 L 430.40,84.50 L 429.40,82.50 L 423.90,80.00 L 417.90,77.00 L 415.50,73.00 L 416.20,69.00 L 416.90,65.00 L 416.10,62.00 L 413.40,58.00 L 411.80,54.40 L 413.50,49.00 L 414.80,44.00 L 413.90,38.00 L 412.40,33.00 L 411.10,28.70 Z" fill="none" stroke="#000" stroke-width="1.5" stroke-linejoin="round"/>
<path d="M 471.20,43.50 L 471.10,48.00 L 470.20,52.00 L 466.20,55.00 L 458.20,58.00 L 453.20,61.50 L 451.70,64.00 L 453.70,66.50 L 461.20,70.00 L 465.20,74.00 L 466.20,80.00 L 465.90,88.00 L 465.40,93.00 L 466.50,97.00 L 468.50,101.00 L 470.70,104.00 L 471.20,111.20 L 472.20,111.20 L 472.70,104.00 L 474.90,101.00 L 476.90,97.00 L 478.00,93.00 L 477.50,88.00 L 477.20,80.00 L 478.20,74.00 L 482.20,70.00 L 489.70,66.50 L 491.70,64.00 L 490.20,61.50 L 485.20,58.00 L 477.20,55.00 L 473.20,52.00 L 472.30,48.00 L 472.20,43.50 Z" fill="none" stroke="#000" stroke-width="1.5" stroke-linejoin="round"/>
<line x1="395.00" y1="83.80" x2="428.00" y2="83.80" stroke="#555" stroke-width="0.8" stroke-dasharray="1.2,1.2"/>
<line x1="399.00" y1="90.20" x2="423.00" y2="90.20" stroke="#555" stroke-width="0.8" stroke-dasharray="1.2,1.2"/>
<line x1="455.00" y1="63.80" x2="489.00" y2="63.80" stroke="#555" stroke-width="0.8" stroke-dasharray="1.2,1.2"/>
<line x1="459.00" y1="67.40" x2="485.00" y2="67.40" stroke="#555" stroke-width="0.8" stroke-dasharray="1.2,1.2"/>
<circle cx="410.90" cy="43.80" r="2.35" fill="#16c016"/>
<rect x="408.70" y="63.00" width="4.40" height="4.40" fill="#ff0000"/>
<polygon points="410.90,68.14 408.48,72.76 413.31,72.76" fill="#0000ff"/>
<rect x="390.90" y="80.20" width="4.40" height="4.40" fill="#ff0000"/>
<polygon points="401.90,81.14 399.48,85.76 404.31,85.76" fill="#0000ff"/>
<circle cx="410.80" cy="85.40" r="2.35" fill="#16c016"/>
<circle cx="419.90" cy="84.30" r="2.35" fill="#16c016"/>
<polygon points="429.20,81.14 426.78,85.76 431.62,85.76" fill="#0000ff"/>
<polygon points="406.40,88.34 403.98,92.96 408.81,92.96" fill="#0000ff"/>
<circle cx="415.50" cy="89.90" r="2.35" fill="#16c016"/>
<polygon points="410.90,95.94 408.48,100.56 413.31,100.56" fill="#0000ff"/>
<rect x="408.70" y="103.50" width="4.40" height="4.40" fill="#ff0000"/>
<circle cx="471.50" cy="58.60" r="2.35" fill="#16c016"/>
<circle cx="458.80" cy="64.20" r="2.35" fill="#16c016"/>
<circle cx="471.50" cy="64.20" r="2.35" fill="#16c016"/>
<polygon points="475.50,60.34 473.08,64.96 477.92,64.96" fill="#0000ff"/>
<rect x="481.60" y="59.60" width="4.40" height="4.40" fill="#ff0000"/>
<rect x="473.30" y="65.20" width="4.40" height="4.40" fill="#ff0000"/>
<rect x="465.00" y="67.10" width="4.40" height="4.40" fill="#ff0000"/>
<circle cx="471.50" cy="75.70" r="2.35" fill="#16c016"/>
<polygon points="471.50,81.84 469.08,86.46 473.92,86.46" fill="#0000ff"/>
<polygon points="471.50,88.44 469.08,93.06 473.92,93.06" fill="#0000ff"/>
<rect x="469.30" y="93.80" width="4.40" height="4.40" fill="#ff0000"/>
<line x1="371.00" y1="18.60" x2="371.00" y2="124.90" stroke="#000" stroke-width="1.3"/>
<line x1="368.20" y1="124.30" x2="371.00" y2="124.30" stroke="#000" stroke-width="1.0"/>
<text x="367.50" y="126.65" font-size="6.6" font-weight="bold" text-anchor="end" fill="#000">40</text>
<line x1="369.00" y1="113.73" x2="371.00" y2="113.73" stroke="#000" stroke-width="1.0"/>
<line x1="368.20" y1="103.16" x2="371.00" y2="103.16" stroke="#000" stroke-width="1.0"/>
<text x="367.50" y="105.51" font-size="6.6" font-weight="bold" text-anchor="end" fill="#000">50</text>
<line x1="369.00" y1="92.59" x2="371.00" y2="92.59" stroke="#000" stroke-width="1.0"/>
<line x1="368.20" y1="82.02" x2="371.00" y2="82.02" stroke="#000" stroke-width="1.0"/>
<text x="367.50" y="84.37" font-size="6.6" font-weight="bold" text-anchor="end" fill="#000">60</text>
<line x1="369.00" y1="71.45" x2="371.00" y2="71.45" stroke="#000" stroke-width="1.0"/>
<line x1="368.20" y1="60.88" x2="371.00" y2="60.88" stroke="#000" stroke-width="1.0"/>
<text x="367.50" y="63.23" font-size="6.6" font-weight="bold" text-anchor="end" fill="#000">70</text>
<line x1="369.00" y1="50.31" x2="371.00" y2="50.31" stroke="#000" stroke-width="1.0"/>
<line x1="368.20" y1="39.74" x2="371.00" y2="39.74" stroke="#000" stroke-width="1.0"/>
<text x="367.50" y="42.09" font-size="6.6" font-weight="bold" text-anchor="end" fill="#000">80</text>
<line x1="369.00" y1="29.17" x2="371.00" y2="29.17" stroke="#000" stroke-width="1.0"/>
<line x1="368.20" y1="18.60" x2="371.00" y2="18.60" stroke="#000" stroke-width="1.0"/>
<text x="367.50" y="20.95" font-size="6.6" font-weight="bold" text-anchor="end" fill="#000">90</text>
<line x1="370.40" y1="124.30" x2="512.00" y2="124.30" stroke="#000" stroke-width="1.3"/>
<line x1="410.90" y1="124.30" x2="410.90" y2="127.50" stroke="#000" stroke-width="1.0"/>
<line x1="471.70" y1="124.30" x2="471.70" y2="127.50" stroke="#000" stroke-width="1.0"/>
<text x="410.60" y="140.00" font-size="7.1" font-weight="bold" text-anchor="middle" fill="#000">vasopressor+</text>
<text x="471.00" y="140.00" font-size="7.1" font-weight="bold" text-anchor="middle" fill="#000">vasopressor-</text>
<text x="355.2" y="72.3" font-size="6.7" font-weight="bold" text-anchor="middle" transform="rotate(-90 355.2 72.3)">MAP (mmHg)</text>
<polyline points="410.90,25.80 410.90,20.30 471.80,20.30 471.80,39.60" fill="none" stroke="#000" stroke-width="1.0"/>
<text x="441.30" y="14.90" font-size="7.6" font-weight="bold" text-anchor="middle" fill="#000">ns</text>
<text x="523.80" y="11.00" font-size="15.3" font-weight="bold" text-anchor="start" fill="#000">D</text>
<rect x="544.50" y="90.41" width="137.90" height="34.29" fill="#d6d6d6"/>
<g stroke="#3f9a3f" stroke-width="1.15" opacity="0.9">
<line x1="549.50" y1="52.17" x2="549.50" y2="94.37" stroke="#3f9a3f" stroke-width="1.15"/>
<line x1="547.70" y1="52.17" x2="551.30" y2="52.17" stroke="#3f9a3f" stroke-width="1.2"/>
<line x1="547.70" y1="94.37" x2="551.30" y2="94.37" stroke="#3f9a3f" stroke-width="1.2"/>
</g>
<g stroke="#3f9a3f" stroke-width="1.15" opacity="0.9">
<line x1="555.50" y1="41.62" x2="555.50" y2="94.37" stroke="#3f9a3f" stroke-width="1.15"/>
<line x1="553.70" y1="41.62" x2="557.30" y2="41.62" stroke="#3f9a3f" stroke-width="1.2"/>
<line x1="553.70" y1="94.37" x2="557.30" y2="94.37" stroke="#3f9a3f" stroke-width="1.2"/>
</g>
<g stroke="#3f9a3f" stroke-width="1.15" opacity="0.9">
<line x1="561.50" y1="79.86" x2="561.50" y2="98.33" stroke="#3f9a3f" stroke-width="1.15"/>
<line x1="559.70" y1="79.86" x2="563.30" y2="79.86" stroke="#3f9a3f" stroke-width="1.2"/>
<line x1="559.70" y1="98.33" x2="563.30" y2="98.33" stroke="#3f9a3f" stroke-width="1.2"/>
</g>
<g stroke="#3f9a3f" stroke-width="1.15" opacity="0.9">
<line x1="567.50" y1="94.37" x2="567.50" y2="110.19" stroke="#3f9a3f" stroke-width="1.15"/>
<line x1="565.70" y1="94.37" x2="569.30" y2="94.37" stroke="#3f9a3f" stroke-width="1.2"/>
<line x1="565.70" y1="110.19" x2="569.30" y2="110.19" stroke="#3f9a3f" stroke-width="1.2"/>
</g>
<g stroke="#3f9a3f" stroke-width="1.15" opacity="0.9">
<line x1="573.50" y1="97.93" x2="573.50" y2="113.75" stroke="#3f9a3f" stroke-width="1.15"/>
<line x1="571.70" y1="97.93" x2="575.30" y2="97.93" stroke="#3f9a3f" stroke-width="1.2"/>
<line x1="571.70" y1="113.75" x2="575.30" y2="113.75" stroke="#3f9a3f" stroke-width="1.2"/>
</g>
<g stroke="#3f9a3f" stroke-width="1.15" opacity="0.9">
<line x1="579.50" y1="97.93" x2="579.50" y2="113.75" stroke="#3f9a3f" stroke-width="1.15"/>
<line x1="577.70" y1="97.93" x2="581.30" y2="97.93" stroke="#3f9a3f" stroke-width="1.2"/>
<line x1="577.70" y1="113.75" x2="581.30" y2="113.75" stroke="#3f9a3f" stroke-width="1.2"/>
</g>
<g stroke="#3f9a3f" stroke-width="1.15" opacity="0.9">
<line x1="586.50" y1="98.33" x2="586.50" y2="114.15" stroke="#3f9a3f" stroke-width="1.15"/>
<line x1="584.70" y1="98.33" x2="588.30" y2="98.33" stroke="#3f9a3f" stroke-width="1.2"/>
<line x1="584.70" y1="114.15" x2="588.30" y2="114.15" stroke="#3f9a3f" stroke-width="1.2"/>
</g>
<g stroke="#3f9a3f" stroke-width="1.15" opacity="0.9">
<line x1="597.50" y1="97.67" x2="597.50" y2="110.85" stroke="#3f9a3f" stroke-width="1.15"/>
<line x1="595.70" y1="97.67" x2="599.30" y2="97.67" stroke="#3f9a3f" stroke-width="1.2"/>
<line x1="595.70" y1="110.85" x2="599.30" y2="110.85" stroke="#3f9a3f" stroke-width="1.2"/>
</g>
<g stroke="#3f9a3f" stroke-width="1.15" opacity="0.9">
<line x1="600.50" y1="89.09" x2="600.50" y2="110.19" stroke="#3f9a3f" stroke-width="1.15"/>
<line x1="598.70" y1="89.09" x2="602.30" y2="89.09" stroke="#3f9a3f" stroke-width="1.2"/>
<line x1="598.70" y1="110.19" x2="602.30" y2="110.19" stroke="#3f9a3f" stroke-width="1.2"/>
</g>
<g stroke="#3f9a3f" stroke-width="1.15" opacity="0.9">
<line x1="607.50" y1="69.97" x2="607.50" y2="106.24" stroke="#3f9a3f" stroke-width="1.15"/>
<line x1="605.70" y1="69.97" x2="609.30" y2="69.97" stroke="#3f9a3f" stroke-width="1.2"/>
<line x1="605.70" y1="106.24" x2="609.30" y2="106.24" stroke="#3f9a3f" stroke-width="1.2"/>
</g>
<g stroke="#3f9a3f" stroke-width="1.15" opacity="0.9">
<line x1="612.50" y1="62.06" x2="612.50" y2="105.58" stroke="#3f9a3f" stroke-width="1.15"/>
<line x1="610.70" y1="62.06" x2="614.30" y2="62.06" stroke="#3f9a3f" stroke-width="1.2"/>
<line x1="610.70" y1="105.58" x2="614.30" y2="105.58" stroke="#3f9a3f" stroke-width="1.2"/>
</g>
<g stroke="#3f9a3f" stroke-width="1.15" opacity="0.9">
<line x1="617.50" y1="53.49" x2="617.50" y2="107.56" stroke="#3f9a3f" stroke-width="1.15"/>
<line x1="615.70" y1="53.49" x2="619.30" y2="53.49" stroke="#3f9a3f" stroke-width="1.2"/>
<line x1="615.70" y1="107.56" x2="619.30" y2="107.56" stroke="#3f9a3f" stroke-width="1.2"/>
</g>
<g stroke="#3f9a3f" stroke-width="1.15" opacity="0.9">
<line x1="638.50" y1="55.47" x2="638.50" y2="91.07" stroke="#3f9a3f" stroke-width="1.15"/>
<line x1="636.70" y1="55.47" x2="640.30" y2="55.47" stroke="#3f9a3f" stroke-width="1.2"/>
<line x1="636.70" y1="91.07" x2="640.30" y2="91.07" stroke="#3f9a3f" stroke-width="1.2"/>
</g>
<g stroke="#3f9a3f" stroke-width="1.15" opacity="0.9">
<line x1="660.50" y1="50.85" x2="660.50" y2="87.78" stroke="#3f9a3f" stroke-width="1.15"/>
<line x1="658.70" y1="50.85" x2="662.30" y2="50.85" stroke="#3f9a3f" stroke-width="1.2"/>
<line x1="658.70" y1="87.78" x2="662.30" y2="87.78" stroke="#3f9a3f" stroke-width="1.2"/>
</g>
<g stroke="#3f9a3f" stroke-width="1.15" opacity="0.9">
<line x1="681.50" y1="44.26" x2="681.50" y2="94.37" stroke="#3f9a3f" stroke-width="1.15"/>
<line x1="679.70" y1="44.26" x2="683.30" y2="44.26" stroke="#3f9a3f" stroke-width="1.2"/>
<line x1="679.70" y1="94.37" x2="683.30" y2="94.37" stroke="#3f9a3f" stroke-width="1.2"/>
</g>
<g stroke="#f02020" stroke-width="1.15" opacity="0.9">
<line x1="549.50" y1="66.67" x2="549.50" y2="79.86" stroke="#f02020" stroke-width="1.15"/>
<line x1="547.70" y1="66.67" x2="551.30" y2="66.67" stroke="#f02020" stroke-width="1.2"/>
<line x1="547.70" y1="79.86" x2="551.30" y2="79.86" stroke="#f02020" stroke-width="1.2"/>
</g>
<g stroke="#f02020" stroke-width="1.15" opacity="0.9">
<line x1="556.50" y1="59.03" x2="556.50" y2="70.90" stroke="#f02020" stroke-width="1.15"/>
<line x1="554.70" y1="59.03" x2="558.30" y2="59.03" stroke="#f02020" stroke-width="1.2"/>
<line x1="554.70" y1="70.90" x2="558.30" y2="70.90" stroke="#f02020" stroke-width="1.2"/>
</g>
<g stroke="#f02020" stroke-width="1.15" opacity="0.9">
<line x1="562.50" y1="73.27" x2="562.50" y2="89.09" stroke="#f02020" stroke-width="1.15"/>
<line x1="560.70" y1="73.27" x2="564.30" y2="73.27" stroke="#f02020" stroke-width="1.2"/>
<line x1="560.70" y1="89.09" x2="564.30" y2="89.09" stroke="#f02020" stroke-width="1.2"/>
</g>
<g stroke="#f02020" stroke-width="1.15" opacity="0.9">
<line x1="568.50" y1="93.05" x2="568.50" y2="108.88" stroke="#f02020" stroke-width="1.15"/>
<line x1="566.70" y1="93.05" x2="570.30" y2="93.05" stroke="#f02020" stroke-width="1.2"/>
<line x1="566.70" y1="108.88" x2="570.30" y2="108.88" stroke="#f02020" stroke-width="1.2"/>
</g>
<g stroke="#f02020" stroke-width="1.15" opacity="0.9">
<line x1="574.50" y1="97.93" x2="574.50" y2="113.75" stroke="#f02020" stroke-width="1.15"/>
<line x1="572.70" y1="97.93" x2="576.30" y2="97.93" stroke="#f02020" stroke-width="1.2"/>
<line x1="572.70" y1="113.75" x2="576.30" y2="113.75" stroke="#f02020" stroke-width="1.2"/>
</g>
<g stroke="#f02020" stroke-width="1.15" opacity="0.9">
<line x1="580.50" y1="97.93" x2="580.50" y2="113.75" stroke="#f02020" stroke-width="1.15"/>
<line x1="578.70" y1="97.93" x2="582.30" y2="97.93" stroke="#f02020" stroke-width="1.2"/>
<line x1="578.70" y1="113.75" x2="582.30" y2="113.75" stroke="#f02020" stroke-width="1.2"/>
</g>
<g stroke="#f02020" stroke-width="1.15" opacity="0.9">
<line x1="586.50" y1="98.33" x2="586.50" y2="114.15" stroke="#f02020" stroke-width="1.15"/>
<line x1="584.70" y1="98.33" x2="588.30" y2="98.33" stroke="#f02020" stroke-width="1.2"/>
<line x1="584.70" y1="114.15" x2="588.30" y2="114.15" stroke="#f02020" stroke-width="1.2"/>
</g>
<g stroke="#f02020" stroke-width="1.15" opacity="0.9">
<line x1="598.50" y1="97.67" x2="598.50" y2="110.85" stroke="#f02020" stroke-width="1.15"/>
<line x1="596.70" y1="97.67" x2="600.30" y2="97.67" stroke="#f02020" stroke-width="1.2"/>
<line x1="596.70" y1="110.85" x2="600.30" y2="110.85" stroke="#f02020" stroke-width="1.2"/>
</g>
<g stroke="#f02020" stroke-width="1.15" opacity="0.9">
<line x1="600.50" y1="87.78" x2="600.50" y2="108.88" stroke="#f02020" stroke-width="1.15"/>
<line x1="598.70" y1="87.78" x2="602.30" y2="87.78" stroke="#f02020" stroke-width="1.2"/>
<line x1="598.70" y1="108.88" x2="602.30" y2="108.88" stroke="#f02020" stroke-width="1.2"/>
</g>
<g stroke="#f02020" stroke-width="1.15" opacity="0.9">
<line x1="607.50" y1="73.93" x2="607.50" y2="95.03" stroke="#f02020" stroke-width="1.15"/>
<line x1="605.70" y1="73.93" x2="609.30" y2="73.93" stroke="#f02020" stroke-width="1.2"/>
<line x1="605.70" y1="95.03" x2="609.30" y2="95.03" stroke="#f02020" stroke-width="1.2"/>
</g>
<g stroke="#f02020" stroke-width="1.15" opacity="0.9">
<line x1="613.50" y1="71.95" x2="613.50" y2="93.05" stroke="#f02020" stroke-width="1.15"/>
<line x1="611.70" y1="71.95" x2="615.30" y2="71.95" stroke="#f02020" stroke-width="1.2"/>
<line x1="611.70" y1="93.05" x2="615.30" y2="93.05" stroke="#f02020" stroke-width="1.2"/>
</g>
<g stroke="#f02020" stroke-width="1.15" opacity="0.9">
<line x1="618.50" y1="69.97" x2="618.50" y2="93.71" stroke="#f02020" stroke-width="1.15"/>
<line x1="616.70" y1="69.97" x2="620.30" y2="69.97" stroke="#f02020" stroke-width="1.2"/>
<line x1="616.70" y1="93.71" x2="620.30" y2="93.71" stroke="#f02020" stroke-width="1.2"/>
</g>
<g stroke="#f02020" stroke-width="1.15" opacity="0.9">
<line x1="639.50" y1="69.31" x2="639.50" y2="94.37" stroke="#f02020" stroke-width="1.15"/>
<line x1="637.70" y1="69.31" x2="641.30" y2="69.31" stroke="#f02020" stroke-width="1.2"/>
<line x1="637.70" y1="94.37" x2="641.30" y2="94.37" stroke="#f02020" stroke-width="1.2"/>
</g>
<g stroke="#f02020" stroke-width="1.15" opacity="0.9">
<line x1="660.50" y1="61.40" x2="660.50" y2="89.09" stroke="#f02020" stroke-width="1.15"/>
<line x1="658.70" y1="61.40" x2="662.30" y2="61.40" stroke="#f02020" stroke-width="1.2"/>
<line x1="658.70" y1="89.09" x2="662.30" y2="89.09" stroke="#f02020" stroke-width="1.2"/>
</g>
<g stroke="#f02020" stroke-width="1.15" opacity="0.9">
<line x1="681.50" y1="61.00" x2="681.50" y2="84.74" stroke="#f02020" stroke-width="1.15"/>
<line x1="679.70" y1="61.00" x2="683.30" y2="61.00" stroke="#f02020" stroke-width="1.2"/>
<line x1="679.70" y1="84.74" x2="683.30" y2="84.74" stroke="#f02020" stroke-width="1.2"/>
</g>
<g stroke="#0000d0" stroke-width="1.15" opacity="1.0">
<line x1="550.50" y1="73.53" x2="550.50" y2="94.63" stroke="#0000d0" stroke-width="1.15"/>
<line x1="548.70" y1="73.53" x2="552.30" y2="73.53" stroke="#0000d0" stroke-width="1.2"/>
<line x1="548.70" y1="94.63" x2="552.30" y2="94.63" stroke="#0000d0" stroke-width="1.2"/>
</g>
<g stroke="#0000d0" stroke-width="1.15" opacity="1.0">
<line x1="556.50" y1="56.12" x2="556.50" y2="82.50" stroke="#0000d0" stroke-width="1.15"/>
<line x1="554.70" y1="56.12" x2="558.30" y2="56.12" stroke="#0000d0" stroke-width="1.2"/>
<line x1="554.70" y1="82.50" x2="558.30" y2="82.50" stroke="#0000d0" stroke-width="1.2"/>
</g>
<g stroke="#0000d0" stroke-width="1.15" opacity="1.0">
<line x1="562.50" y1="62.72" x2="562.50" y2="102.28" stroke="#0000d0" stroke-width="1.15"/>
<line x1="560.70" y1="62.72" x2="564.30" y2="62.72" stroke="#0000d0" stroke-width="1.2"/>
<line x1="560.70" y1="102.28" x2="564.30" y2="102.28" stroke="#0000d0" stroke-width="1.2"/>
</g>
<g stroke="#0000d0" stroke-width="1.15" opacity="1.0">
<line x1="568.50" y1="91.07" x2="568.50" y2="110.85" stroke="#0000d0" stroke-width="1.15"/>
<line x1="566.70" y1="91.07" x2="570.30" y2="91.07" stroke="#0000d0" stroke-width="1.2"/>
<line x1="566.70" y1="110.85" x2="570.30" y2="110.85" stroke="#0000d0" stroke-width="1.2"/>
</g>
<g stroke="#0000d0" stroke-width="1.15" opacity="1.0">
<line x1="575.50" y1="96.61" x2="575.50" y2="115.07" stroke="#0000d0" stroke-width="1.15"/>
<line x1="573.70" y1="96.61" x2="577.30" y2="96.61" stroke="#0000d0" stroke-width="1.2"/>
<line x1="573.70" y1="115.07" x2="577.30" y2="115.07" stroke="#0000d0" stroke-width="1.2"/>
</g>
<g stroke="#0000d0" stroke-width="1.15" opacity="1.0">
<line x1="581.50" y1="96.61" x2="581.50" y2="115.07" stroke="#0000d0" stroke-width="1.15"/>
<line x1="579.70" y1="96.61" x2="583.30" y2="96.61" stroke="#0000d0" stroke-width="1.2"/>
<line x1="579.70" y1="115.07" x2="583.30" y2="115.07" stroke="#0000d0" stroke-width="1.2"/>
</g>
<g stroke="#0000d0" stroke-width="1.15" opacity="1.0">
<line x1="587.50" y1="95.69" x2="587.50" y2="116.79" stroke="#0000d0" stroke-width="1.15"/>
<line x1="585.70" y1="95.69" x2="589.30" y2="95.69" stroke="#0000d0" stroke-width="1.2"/>
<line x1="585.70" y1="116.79" x2="589.30" y2="116.79" stroke="#0000d0" stroke-width="1.2"/>
</g>
<g stroke="#0000d0" stroke-width="1.15" opacity="1.0">
<line x1="598.50" y1="96.35" x2="598.50" y2="112.17" stroke="#0000d0" stroke-width="1.15"/>
<line x1="596.70" y1="96.35" x2="600.30" y2="96.35" stroke="#0000d0" stroke-width="1.2"/>
<line x1="596.70" y1="112.17" x2="600.30" y2="112.17" stroke="#0000d0" stroke-width="1.2"/>
</g>
<g stroke="#0000d0" stroke-width="1.15" opacity="1.0">
<line x1="601.50" y1="77.88" x2="601.50" y2="108.22" stroke="#0000d0" stroke-width="1.15"/>
<line x1="599.70" y1="77.88" x2="603.30" y2="77.88" stroke="#0000d0" stroke-width="1.2"/>
<line x1="599.70" y1="108.22" x2="603.30" y2="108.22" stroke="#0000d0" stroke-width="1.2"/>
</g>
<g stroke="#0000d0" stroke-width="1.15" opacity="1.0">
<line x1="608.50" y1="67.33" x2="608.50" y2="97.67" stroke="#0000d0" stroke-width="1.15"/>
<line x1="606.70" y1="67.33" x2="610.30" y2="67.33" stroke="#0000d0" stroke-width="1.2"/>
<line x1="606.70" y1="97.67" x2="610.30" y2="97.67" stroke="#0000d0" stroke-width="1.2"/>
</g>
<g stroke="#0000d0" stroke-width="1.15" opacity="1.0">
<line x1="613.50" y1="61.93" x2="613.50" y2="89.88" stroke="#0000d0" stroke-width="1.15"/>
<line x1="611.70" y1="61.93" x2="615.30" y2="61.93" stroke="#0000d0" stroke-width="1.2"/>
<line x1="611.70" y1="89.88" x2="615.30" y2="89.88" stroke="#0000d0" stroke-width="1.2"/>
</g>
<g stroke="#0000d0" stroke-width="1.15" opacity="1.0">
<line x1="619.50" y1="63.25" x2="619.50" y2="89.62" stroke="#0000d0" stroke-width="1.15"/>
<line x1="617.70" y1="63.25" x2="621.30" y2="63.25" stroke="#0000d0" stroke-width="1.2"/>
<line x1="617.70" y1="89.62" x2="621.30" y2="89.62" stroke="#0000d0" stroke-width="1.2"/>
</g>
<g stroke="#0000d0" stroke-width="1.15" opacity="1.0">
<line x1="640.50" y1="56.52" x2="640.50" y2="88.17" stroke="#0000d0" stroke-width="1.15"/>
<line x1="638.70" y1="56.52" x2="642.30" y2="56.52" stroke="#0000d0" stroke-width="1.2"/>
<line x1="638.70" y1="88.17" x2="642.30" y2="88.17" stroke="#0000d0" stroke-width="1.2"/>
</g>
<g stroke="#0000d0" stroke-width="1.15" opacity="1.0">
<line x1="661.50" y1="52.04" x2="661.50" y2="85.01" stroke="#0000d0" stroke-width="1.15"/>
<line x1="659.70" y1="52.04" x2="663.30" y2="52.04" stroke="#0000d0" stroke-width="1.2"/>
<line x1="659.70" y1="85.01" x2="663.30" y2="85.01" stroke="#0000d0" stroke-width="1.2"/>
</g>
<g stroke="#0000d0" stroke-width="1.15" opacity="1.0">
<line x1="682.50" y1="52.17" x2="682.50" y2="86.46" stroke="#0000d0" stroke-width="1.15"/>
<line x1="680.70" y1="52.17" x2="684.30" y2="52.17" stroke="#0000d0" stroke-width="1.2"/>
<line x1="680.70" y1="86.46" x2="684.30" y2="86.46" stroke="#0000d0" stroke-width="1.2"/>
</g>
<polyline points="549.27,73.27 555.40,67.99 561.52,89.09 567.65,102.28 573.77,105.84 579.90,105.84 586.02,106.24 597.66,104.26 600.20,99.64 607.17,89.09 612.46,88.43 617.75,87.78 638.90,73.27 660.05,69.31 681.20,69.31" fill="none" stroke="#0a7a0a" stroke-width="1.05"/>
<circle cx="549.27" cy="73.27" r="1.85" fill="#0a7a0a"/>
<circle cx="555.40" cy="67.99" r="1.85" fill="#0a7a0a"/>
<circle cx="561.52" cy="89.09" r="1.85" fill="#0a7a0a"/>
<circle cx="567.65" cy="102.28" r="1.85" fill="#0a7a0a"/>
<circle cx="573.77" cy="105.84" r="1.85" fill="#0a7a0a"/>
<circle cx="579.90" cy="105.84" r="1.85" fill="#0a7a0a"/>
<circle cx="586.02" cy="106.24" r="1.85" fill="#0a7a0a"/>
<circle cx="597.66" cy="104.26" r="1.85" fill="#0a7a0a"/>
<circle cx="600.20" cy="99.64" r="1.85" fill="#0a7a0a"/>
<circle cx="607.17" cy="89.09" r="1.85" fill="#0a7a0a"/>
<circle cx="612.46" cy="88.43" r="1.85" fill="#0a7a0a"/>
<circle cx="617.75" cy="87.78" r="1.85" fill="#0a7a0a"/>
<circle cx="638.90" cy="73.27" r="1.85" fill="#0a7a0a"/>
<circle cx="660.05" cy="69.31" r="1.85" fill="#0a7a0a"/>
<circle cx="681.20" cy="69.31" r="1.85" fill="#0a7a0a"/>
<polyline points="549.98,73.27 556.10,64.96 562.23,81.18 568.35,100.96 574.48,105.84 580.60,105.84 586.73,106.24 598.36,104.26 600.90,98.33 607.88,84.48 613.16,82.50 618.45,81.84 639.60,81.84 660.75,75.25 681.90,72.87" fill="none" stroke="#ff0a0a" stroke-width="1.05"/>
<rect x="548.12" y="71.42" width="3.70" height="3.70" fill="#ff0a0a"/>
<rect x="554.25" y="63.11" width="3.70" height="3.70" fill="#ff0a0a"/>
<rect x="560.38" y="79.33" width="3.70" height="3.70" fill="#ff0a0a"/>
<rect x="566.50" y="99.11" width="3.70" height="3.70" fill="#ff0a0a"/>
<rect x="572.62" y="103.99" width="3.70" height="3.70" fill="#ff0a0a"/>
<rect x="578.75" y="103.99" width="3.70" height="3.70" fill="#ff0a0a"/>
<rect x="584.88" y="104.39" width="3.70" height="3.70" fill="#ff0a0a"/>
<rect x="596.51" y="102.41" width="3.70" height="3.70" fill="#ff0a0a"/>
<rect x="599.05" y="96.48" width="3.70" height="3.70" fill="#ff0a0a"/>
<rect x="606.02" y="82.63" width="3.70" height="3.70" fill="#ff0a0a"/>
<rect x="611.31" y="80.65" width="3.70" height="3.70" fill="#ff0a0a"/>
<rect x="616.60" y="79.99" width="3.70" height="3.70" fill="#ff0a0a"/>
<rect x="637.75" y="79.99" width="3.70" height="3.70" fill="#ff0a0a"/>
<rect x="658.90" y="73.40" width="3.70" height="3.70" fill="#ff0a0a"/>
<rect x="680.05" y="71.02" width="3.70" height="3.70" fill="#ff0a0a"/>
<polyline points="550.58,84.08 556.70,69.31 562.83,82.50 568.95,100.96 575.08,105.84 581.20,105.84 587.33,106.24 598.96,104.26 601.50,93.05 608.48,82.50 613.76,75.91 619.05,76.43 640.20,72.35 661.35,68.52 682.50,69.31" fill="none" stroke="#0000d8" stroke-width="1.05"/>
<polygon points="550.58,81.74 548.45,85.81 552.70,85.81" fill="#0000d8"/>
<polygon points="556.70,66.97 554.57,71.04 558.83,71.04" fill="#0000d8"/>
<polygon points="562.83,80.16 560.70,84.23 564.95,84.23" fill="#0000d8"/>
<polygon points="568.95,98.62 566.82,102.69 571.08,102.69" fill="#0000d8"/>
<polygon points="575.08,103.50 572.95,107.57 577.20,107.57" fill="#0000d8"/>
<polygon points="581.20,103.50 579.07,107.57 583.33,107.57" fill="#0000d8"/>
<polygon points="587.33,103.90 585.20,107.97 589.45,107.97" fill="#0000d8"/>
<polygon points="598.96,101.92 596.83,105.99 601.09,105.99" fill="#0000d8"/>
<polygon points="601.50,90.71 599.37,94.78 603.62,94.78" fill="#0000d8"/>
<polygon points="608.48,80.16 606.35,84.23 610.60,84.23" fill="#0000d8"/>
<polygon points="613.76,73.57 611.63,77.64 615.89,77.64" fill="#0000d8"/>
<polygon points="619.05,74.09 616.92,78.16 621.18,78.16" fill="#0000d8"/>
<polygon points="640.20,70.01 638.07,74.08 642.33,74.08" fill="#0000d8"/>
<polygon points="661.35,66.18 659.22,70.25 663.48,70.25" fill="#0000d8"/>
<polygon points="682.50,66.97 680.37,71.04 684.63,71.04" fill="#0000d8"/>
<line x1="544.50" y1="19.20" x2="544.50" y2="125.30" stroke="#000" stroke-width="1.3"/>
<line x1="542.50" y1="111.51" x2="544.50" y2="111.51" stroke="#000" stroke-width="0.9"/>
<line x1="542.50" y1="85.14" x2="544.50" y2="85.14" stroke="#000" stroke-width="0.9"/>
<line x1="542.50" y1="58.76" x2="544.50" y2="58.76" stroke="#000" stroke-width="0.9"/>
<line x1="542.50" y1="32.39" x2="544.50" y2="32.39" stroke="#000" stroke-width="0.9"/>
<line x1="541.70" y1="124.70" x2="544.50" y2="124.70" stroke="#000" stroke-width="1.0"/>
<text x="541.80" y="126.86" font-size="6.0" font-weight="bold" text-anchor="end" fill="#000">0</text>
<line x1="541.70" y1="98.33" x2="544.50" y2="98.33" stroke="#000" stroke-width="1.0"/>
<text x="541.80" y="100.48" font-size="6.0" font-weight="bold" text-anchor="end" fill="#000">2</text>
<line x1="541.70" y1="71.95" x2="544.50" y2="71.95" stroke="#000" stroke-width="1.0"/>
<text x="541.80" y="74.11" font-size="6.0" font-weight="bold" text-anchor="end" fill="#000">4</text>
<line x1="541.70" y1="45.58" x2="544.50" y2="45.58" stroke="#000" stroke-width="1.0"/>
<text x="541.80" y="47.73" font-size="6.0" font-weight="bold" text-anchor="end" fill="#000">6</text>
<line x1="541.70" y1="19.20" x2="544.50" y2="19.20" stroke="#000" stroke-width="1.0"/>
<text x="541.80" y="21.36" font-size="6.0" font-weight="bold" text-anchor="end" fill="#000">8</text>
<line x1="543.90" y1="124.70" x2="594.40" y2="124.70" stroke="#000" stroke-width="1.3"/>
<line x1="595.40" y1="124.70" x2="682.50" y2="124.70" stroke="#000" stroke-width="1.3"/>
<line x1="595.40" y1="122.90" x2="595.40" y2="125.30" stroke="#000" stroke-width="1.0"/>
<line x1="549.98" y1="124.70" x2="549.98" y2="126.70" stroke="#000" stroke-width="0.9"/>
<line x1="556.10" y1="124.70" x2="556.10" y2="127.50" stroke="#000" stroke-width="1.0"/>
<text x="556.10" y="133.50" font-size="6.9" font-weight="bold" text-anchor="middle" fill="#000">0</text>
<line x1="562.23" y1="124.70" x2="562.23" y2="126.70" stroke="#000" stroke-width="0.9"/>
<line x1="568.35" y1="124.70" x2="568.35" y2="126.70" stroke="#000" stroke-width="0.9"/>
<line x1="574.48" y1="124.70" x2="574.48" y2="126.70" stroke="#000" stroke-width="0.9"/>
<line x1="580.60" y1="124.70" x2="580.60" y2="127.50" stroke="#000" stroke-width="1.0"/>
<text x="580.60" y="133.50" font-size="6.9" font-weight="bold" text-anchor="middle" fill="#000">1</text>
<line x1="586.73" y1="124.70" x2="586.73" y2="126.70" stroke="#000" stroke-width="0.9"/>
<line x1="592.85" y1="124.70" x2="592.85" y2="126.70" stroke="#000" stroke-width="0.9"/>
<line x1="597.30" y1="124.70" x2="597.30" y2="127.50" stroke="#000" stroke-width="1.0"/>
<text x="597.30" y="133.50" font-size="6.9" font-weight="bold" text-anchor="middle" fill="#000">0</text>
<line x1="602.59" y1="124.70" x2="602.59" y2="126.70" stroke="#000" stroke-width="0.9"/>
<line x1="607.88" y1="124.70" x2="607.88" y2="126.70" stroke="#000" stroke-width="0.9"/>
<line x1="613.16" y1="124.70" x2="613.16" y2="126.70" stroke="#000" stroke-width="0.9"/>
<line x1="618.45" y1="124.70" x2="618.45" y2="127.50" stroke="#000" stroke-width="1.0"/>
<text x="618.45" y="133.50" font-size="6.9" font-weight="bold" text-anchor="middle" fill="#000">1</text>
<line x1="623.74" y1="124.70" x2="623.74" y2="126.70" stroke="#000" stroke-width="0.9"/>
<line x1="629.02" y1="124.70" x2="629.02" y2="126.70" stroke="#000" stroke-width="0.9"/>
<line x1="634.31" y1="124.70" x2="634.31" y2="126.70" stroke="#000" stroke-width="0.9"/>
<line x1="639.60" y1="124.70" x2="639.60" y2="127.50" stroke="#000" stroke-width="1.0"/>
<text x="639.60" y="133.50" font-size="6.9" font-weight="bold" text-anchor="middle" fill="#000">2</text>
<line x1="644.89" y1="124.70" x2="644.89" y2="126.70" stroke="#000" stroke-width="0.9"/>
<line x1="650.17" y1="124.70" x2="650.17" y2="126.70" stroke="#000" stroke-width="0.9"/>
<line x1="655.46" y1="124.70" x2="655.46" y2="126.70" stroke="#000" stroke-width="0.9"/>
<line x1="660.75" y1="124.70" x2="660.75" y2="127.50" stroke="#000" stroke-width="1.0"/>
<text x="660.75" y="133.50" font-size="6.9" font-weight="bold" text-anchor="middle" fill="#000">3</text>
<line x1="666.04" y1="124.70" x2="666.04" y2="126.70" stroke="#000" stroke-width="0.9"/>
<line x1="671.32" y1="124.70" x2="671.32" y2="126.70" stroke="#000" stroke-width="0.9"/>
<line x1="676.61" y1="124.70" x2="676.61" y2="126.70" stroke="#000" stroke-width="0.9"/>
<line x1="681.90" y1="124.70" x2="681.90" y2="127.50" stroke="#000" stroke-width="1.0"/>
<text x="681.90" y="133.50" font-size="6.9" font-weight="bold" text-anchor="middle" fill="#000">4</text>
<text x="570.05" y="141.60" font-size="7.4" font-weight="bold" text-anchor="middle" fill="#000">Haemorrhage</text>
<text x="570.35" y="150.10" font-size="7.5" font-weight="bold" text-anchor="middle" fill="#000">(hours)</text>
<text x="640.65" y="141.60" font-size="7.4" font-weight="bold" text-anchor="middle" fill="#000">Resuscitation</text>
<text x="640.95" y="150.10" font-size="7.5" font-weight="bold" text-anchor="middle" fill="#000">(hours)</text>
<text x="534.60" y="69.90" font-size="7.3" font-weight="bold" text-anchor="middle" transform="rotate(-90 534.60 69.90)">cardiac index (l/min/m<tspan font-size="4.5" dy="-2.5">2</tspan><tspan dy="2.5">)</tspan></text>
<text x="0.80" y="173.10" font-size="15.3" font-weight="bold" text-anchor="start" fill="#000">E</text>
<rect x="27.40" y="258.43" width="136.80" height="26.38" fill="#d6d6d6"/>
<rect x="27.40" y="179.30" width="136.80" height="52.75" fill="#d6d6d6"/>
<g stroke="#3f9a3f" stroke-width="1.15" opacity="0.9">
<line x1="32.50" y1="227.21" x2="32.50" y2="247.44" stroke="#3f9a3f" stroke-width="1.15"/>
<line x1="30.70" y1="227.21" x2="34.30" y2="227.21" stroke="#3f9a3f" stroke-width="1.2"/>
<line x1="30.70" y1="247.44" x2="34.30" y2="247.44" stroke="#3f9a3f" stroke-width="1.2"/>
</g>
<g stroke="#3f9a3f" stroke-width="1.15" opacity="0.9">
<line x1="38.50" y1="226.34" x2="38.50" y2="248.31" stroke="#3f9a3f" stroke-width="1.15"/>
<line x1="36.70" y1="226.34" x2="40.30" y2="226.34" stroke="#3f9a3f" stroke-width="1.2"/>
<line x1="36.70" y1="248.31" x2="40.30" y2="248.31" stroke="#3f9a3f" stroke-width="1.2"/>
</g>
<g stroke="#3f9a3f" stroke-width="1.15" opacity="0.9">
<line x1="44.50" y1="218.86" x2="44.50" y2="240.84" stroke="#3f9a3f" stroke-width="1.15"/>
<line x1="42.70" y1="218.86" x2="46.30" y2="218.86" stroke="#3f9a3f" stroke-width="1.2"/>
<line x1="42.70" y1="240.84" x2="46.30" y2="240.84" stroke="#3f9a3f" stroke-width="1.2"/>
</g>
<g stroke="#3f9a3f" stroke-width="1.15" opacity="0.9">
<line x1="50.50" y1="211.83" x2="50.50" y2="236.45" stroke="#3f9a3f" stroke-width="1.15"/>
<line x1="48.70" y1="211.83" x2="52.30" y2="211.83" stroke="#3f9a3f" stroke-width="1.2"/>
<line x1="48.70" y1="236.45" x2="52.30" y2="236.45" stroke="#3f9a3f" stroke-width="1.2"/>
</g>
<g stroke="#3f9a3f" stroke-width="1.15" opacity="0.9">
<line x1="56.50" y1="210.07" x2="56.50" y2="236.45" stroke="#3f9a3f" stroke-width="1.15"/>
<line x1="54.70" y1="210.07" x2="58.30" y2="210.07" stroke="#3f9a3f" stroke-width="1.2"/>
<line x1="54.70" y1="236.45" x2="58.30" y2="236.45" stroke="#3f9a3f" stroke-width="1.2"/>
</g>
<g stroke="#3f9a3f" stroke-width="1.15" opacity="0.9">
<line x1="62.50" y1="205.24" x2="62.50" y2="236.01" stroke="#3f9a3f" stroke-width="1.15"/>
<line x1="60.70" y1="205.24" x2="64.30" y2="205.24" stroke="#3f9a3f" stroke-width="1.2"/>
<line x1="60.70" y1="236.01" x2="64.30" y2="236.01" stroke="#3f9a3f" stroke-width="1.2"/>
</g>
<g stroke="#3f9a3f" stroke-width="1.15" opacity="0.9">
<line x1="68.50" y1="190.73" x2="68.50" y2="238.20" stroke="#3f9a3f" stroke-width="1.15"/>
<line x1="66.70" y1="190.73" x2="70.30" y2="190.73" stroke="#3f9a3f" stroke-width="1.2"/>
<line x1="66.70" y1="238.20" x2="70.30" y2="238.20" stroke="#3f9a3f" stroke-width="1.2"/>
</g>
<g stroke="#3f9a3f" stroke-width="1.15" opacity="0.9">
<line x1="80.50" y1="197.76" x2="80.50" y2="228.53" stroke="#3f9a3f" stroke-width="1.15"/>
<line x1="78.70" y1="197.76" x2="82.30" y2="197.76" stroke="#3f9a3f" stroke-width="1.2"/>
<line x1="78.70" y1="228.53" x2="82.30" y2="228.53" stroke="#3f9a3f" stroke-width="1.2"/>
</g>
<g stroke="#3f9a3f" stroke-width="1.15" opacity="0.9">
<line x1="82.50" y1="208.75" x2="82.50" y2="242.16" stroke="#3f9a3f" stroke-width="1.15"/>
<line x1="80.70" y1="208.75" x2="84.30" y2="208.75" stroke="#3f9a3f" stroke-width="1.2"/>
<line x1="80.70" y1="242.16" x2="84.30" y2="242.16" stroke="#3f9a3f" stroke-width="1.2"/>
</g>
<g stroke="#3f9a3f" stroke-width="1.15" opacity="0.9">
<line x1="89.50" y1="210.95" x2="89.50" y2="247.00" stroke="#3f9a3f" stroke-width="1.15"/>
<line x1="87.70" y1="210.95" x2="91.30" y2="210.95" stroke="#3f9a3f" stroke-width="1.2"/>
<line x1="87.70" y1="247.00" x2="91.30" y2="247.00" stroke="#3f9a3f" stroke-width="1.2"/>
</g>
<g stroke="#3f9a3f" stroke-width="1.15" opacity="0.9">
<line x1="94.50" y1="207.21" x2="94.50" y2="251.17" stroke="#3f9a3f" stroke-width="1.15"/>
<line x1="92.70" y1="207.21" x2="96.30" y2="207.21" stroke="#3f9a3f" stroke-width="1.2"/>
<line x1="92.70" y1="251.17" x2="96.30" y2="251.17" stroke="#3f9a3f" stroke-width="1.2"/>
</g>
<g stroke="#3f9a3f" stroke-width="1.15" opacity="0.9">
<line x1="99.50" y1="210.82" x2="99.50" y2="248.62" stroke="#3f9a3f" stroke-width="1.15"/>
<line x1="97.70" y1="210.82" x2="101.30" y2="210.82" stroke="#3f9a3f" stroke-width="1.2"/>
<line x1="97.70" y1="248.62" x2="101.30" y2="248.62" stroke="#3f9a3f" stroke-width="1.2"/>
</g>
<g stroke="#3f9a3f" stroke-width="1.15" opacity="0.9">
<line x1="120.50" y1="208.05" x2="120.50" y2="242.34" stroke="#3f9a3f" stroke-width="1.15"/>
<line x1="118.70" y1="208.05" x2="122.30" y2="208.05" stroke="#3f9a3f" stroke-width="1.2"/>
<line x1="118.70" y1="242.34" x2="122.30" y2="242.34" stroke="#3f9a3f" stroke-width="1.2"/>
</g>
<g stroke="#3f9a3f" stroke-width="1.15" opacity="0.9">
<line x1="141.50" y1="211.17" x2="141.50" y2="238.42" stroke="#3f9a3f" stroke-width="1.15"/>
<line x1="139.70" y1="211.17" x2="143.30" y2="211.17" stroke="#3f9a3f" stroke-width="1.2"/>
<line x1="139.70" y1="238.42" x2="143.30" y2="238.42" stroke="#3f9a3f" stroke-width="1.2"/>
</g>
<g stroke="#3f9a3f" stroke-width="1.15" opacity="0.9">
<line x1="162.50" y1="212.05" x2="162.50" y2="241.94" stroke="#3f9a3f" stroke-width="1.15"/>
<line x1="160.70" y1="212.05" x2="164.30" y2="212.05" stroke="#3f9a3f" stroke-width="1.2"/>
<line x1="160.70" y1="241.94" x2="164.30" y2="241.94" stroke="#3f9a3f" stroke-width="1.2"/>
</g>
<g stroke="#f02020" stroke-width="1.15" opacity="0.9">
<line x1="32.50" y1="239.52" x2="32.50" y2="252.71" stroke="#f02020" stroke-width="1.15"/>
<line x1="30.70" y1="239.52" x2="34.30" y2="239.52" stroke="#f02020" stroke-width="1.2"/>
<line x1="30.70" y1="252.71" x2="34.30" y2="252.71" stroke="#f02020" stroke-width="1.2"/>
</g>
<g stroke="#f02020" stroke-width="1.15" opacity="0.9">
<line x1="38.50" y1="232.93" x2="38.50" y2="250.51" stroke="#f02020" stroke-width="1.15"/>
<line x1="36.70" y1="232.93" x2="40.30" y2="232.93" stroke="#f02020" stroke-width="1.2"/>
<line x1="36.70" y1="250.51" x2="40.30" y2="250.51" stroke="#f02020" stroke-width="1.2"/>
</g>
<g stroke="#f02020" stroke-width="1.15" opacity="0.9">
<line x1="44.50" y1="220.18" x2="44.50" y2="242.16" stroke="#f02020" stroke-width="1.15"/>
<line x1="42.70" y1="220.18" x2="46.30" y2="220.18" stroke="#f02020" stroke-width="1.2"/>
<line x1="42.70" y1="242.16" x2="46.30" y2="242.16" stroke="#f02020" stroke-width="1.2"/>
</g>
<g stroke="#f02020" stroke-width="1.15" opacity="0.9">
<line x1="50.50" y1="211.83" x2="50.50" y2="236.45" stroke="#f02020" stroke-width="1.15"/>
<line x1="48.70" y1="211.83" x2="52.30" y2="211.83" stroke="#f02020" stroke-width="1.2"/>
<line x1="48.70" y1="236.45" x2="52.30" y2="236.45" stroke="#f02020" stroke-width="1.2"/>
</g>
<g stroke="#f02020" stroke-width="1.15" opacity="0.9">
<line x1="57.50" y1="212.80" x2="57.50" y2="237.41" stroke="#f02020" stroke-width="1.15"/>
<line x1="55.70" y1="212.80" x2="59.30" y2="212.80" stroke="#f02020" stroke-width="1.2"/>
<line x1="55.70" y1="237.41" x2="59.30" y2="237.41" stroke="#f02020" stroke-width="1.2"/>
</g>
<g stroke="#f02020" stroke-width="1.15" opacity="0.9">
<line x1="63.50" y1="203.61" x2="63.50" y2="237.02" stroke="#f02020" stroke-width="1.15"/>
<line x1="61.70" y1="203.61" x2="65.30" y2="203.61" stroke="#f02020" stroke-width="1.2"/>
<line x1="61.70" y1="237.02" x2="65.30" y2="237.02" stroke="#f02020" stroke-width="1.2"/>
</g>
<g stroke="#f02020" stroke-width="1.15" opacity="0.9">
<line x1="69.50" y1="198.42" x2="69.50" y2="233.59" stroke="#f02020" stroke-width="1.15"/>
<line x1="67.70" y1="198.42" x2="71.30" y2="198.42" stroke="#f02020" stroke-width="1.2"/>
<line x1="67.70" y1="233.59" x2="71.30" y2="233.59" stroke="#f02020" stroke-width="1.2"/>
</g>
<g stroke="#f02020" stroke-width="1.15" opacity="0.9">
<line x1="80.50" y1="193.37" x2="80.50" y2="233.81" stroke="#f02020" stroke-width="1.15"/>
<line x1="78.70" y1="193.37" x2="82.30" y2="193.37" stroke="#f02020" stroke-width="1.2"/>
<line x1="78.70" y1="233.81" x2="82.30" y2="233.81" stroke="#f02020" stroke-width="1.2"/>
</g>
<g stroke="#f02020" stroke-width="1.15" opacity="0.9">
<line x1="83.50" y1="212.71" x2="83.50" y2="239.08" stroke="#f02020" stroke-width="1.15"/>
<line x1="81.70" y1="212.71" x2="85.30" y2="212.71" stroke="#f02020" stroke-width="1.2"/>
<line x1="81.70" y1="239.08" x2="85.30" y2="239.08" stroke="#f02020" stroke-width="1.2"/>
</g>
<g stroke="#f02020" stroke-width="1.15" opacity="0.9">
<line x1="90.50" y1="216.66" x2="90.50" y2="241.28" stroke="#f02020" stroke-width="1.15"/>
<line x1="88.70" y1="216.66" x2="92.30" y2="216.66" stroke="#f02020" stroke-width="1.2"/>
<line x1="88.70" y1="241.28" x2="92.30" y2="241.28" stroke="#f02020" stroke-width="1.2"/>
</g>
<g stroke="#f02020" stroke-width="1.15" opacity="0.9">
<line x1="95.50" y1="219.83" x2="95.50" y2="241.81" stroke="#f02020" stroke-width="1.15"/>
<line x1="93.70" y1="219.83" x2="97.30" y2="219.83" stroke="#f02020" stroke-width="1.2"/>
<line x1="93.70" y1="241.81" x2="97.30" y2="241.81" stroke="#f02020" stroke-width="1.2"/>
</g>
<g stroke="#f02020" stroke-width="1.15" opacity="0.9">
<line x1="100.50" y1="219.83" x2="100.50" y2="241.81" stroke="#f02020" stroke-width="1.15"/>
<line x1="98.70" y1="219.83" x2="102.30" y2="219.83" stroke="#f02020" stroke-width="1.2"/>
<line x1="98.70" y1="241.81" x2="102.30" y2="241.81" stroke="#f02020" stroke-width="1.2"/>
</g>
<g stroke="#f02020" stroke-width="1.15" opacity="0.9">
<line x1="121.50" y1="224.01" x2="121.50" y2="244.23" stroke="#f02020" stroke-width="1.15"/>
<line x1="119.70" y1="224.01" x2="123.30" y2="224.01" stroke="#f02020" stroke-width="1.2"/>
<line x1="119.70" y1="244.23" x2="123.30" y2="244.23" stroke="#f02020" stroke-width="1.2"/>
</g>
<g stroke="#f02020" stroke-width="1.15" opacity="0.9">
<line x1="142.50" y1="226.69" x2="142.50" y2="246.03" stroke="#f02020" stroke-width="1.15"/>
<line x1="140.70" y1="226.69" x2="144.30" y2="226.69" stroke="#f02020" stroke-width="1.2"/>
<line x1="140.70" y1="246.03" x2="144.30" y2="246.03" stroke="#f02020" stroke-width="1.2"/>
</g>
<g stroke="#f02020" stroke-width="1.15" opacity="0.9">
<line x1="163.50" y1="227.83" x2="163.50" y2="248.93" stroke="#f02020" stroke-width="1.15"/>
<line x1="161.70" y1="227.83" x2="165.30" y2="227.83" stroke="#f02020" stroke-width="1.2"/>
<line x1="161.70" y1="248.93" x2="165.30" y2="248.93" stroke="#f02020" stroke-width="1.2"/>
</g>
<g stroke="#0000d0" stroke-width="1.15" opacity="1.0">
<line x1="33.50" y1="235.57" x2="33.50" y2="253.15" stroke="#0000d0" stroke-width="1.15"/>
<line x1="31.70" y1="235.57" x2="35.30" y2="235.57" stroke="#0000d0" stroke-width="1.2"/>
<line x1="31.70" y1="253.15" x2="35.30" y2="253.15" stroke="#0000d0" stroke-width="1.2"/>
</g>
<g stroke="#0000d0" stroke-width="1.15" opacity="1.0">
<line x1="39.50" y1="231.17" x2="39.50" y2="250.51" stroke="#0000d0" stroke-width="1.15"/>
<line x1="37.70" y1="231.17" x2="41.30" y2="231.17" stroke="#0000d0" stroke-width="1.2"/>
<line x1="37.70" y1="250.51" x2="41.30" y2="250.51" stroke="#0000d0" stroke-width="1.2"/>
</g>
<g stroke="#0000d0" stroke-width="1.15" opacity="1.0">
<line x1="45.50" y1="219.92" x2="45.50" y2="241.90" stroke="#0000d0" stroke-width="1.15"/>
<line x1="43.70" y1="219.92" x2="47.30" y2="219.92" stroke="#0000d0" stroke-width="1.2"/>
<line x1="43.70" y1="241.90" x2="47.30" y2="241.90" stroke="#0000d0" stroke-width="1.2"/>
</g>
<g stroke="#0000d0" stroke-width="1.15" opacity="1.0">
<line x1="51.50" y1="220.40" x2="51.50" y2="242.38" stroke="#0000d0" stroke-width="1.15"/>
<line x1="49.70" y1="220.40" x2="53.30" y2="220.40" stroke="#0000d0" stroke-width="1.2"/>
<line x1="49.70" y1="242.38" x2="53.30" y2="242.38" stroke="#0000d0" stroke-width="1.2"/>
</g>
<g stroke="#0000d0" stroke-width="1.15" opacity="1.0">
<line x1="57.50" y1="206.73" x2="57.50" y2="233.11" stroke="#0000d0" stroke-width="1.15"/>
<line x1="55.70" y1="206.73" x2="59.30" y2="206.73" stroke="#0000d0" stroke-width="1.2"/>
<line x1="55.70" y1="233.11" x2="59.30" y2="233.11" stroke="#0000d0" stroke-width="1.2"/>
</g>
<g stroke="#0000d0" stroke-width="1.15" opacity="1.0">
<line x1="63.50" y1="200.14" x2="63.50" y2="230.91" stroke="#0000d0" stroke-width="1.15"/>
<line x1="61.70" y1="200.14" x2="65.30" y2="200.14" stroke="#0000d0" stroke-width="1.2"/>
<line x1="61.70" y1="230.91" x2="65.30" y2="230.91" stroke="#0000d0" stroke-width="1.2"/>
</g>
<g stroke="#0000d0" stroke-width="1.15" opacity="1.0">
<line x1="69.50" y1="191.26" x2="69.50" y2="225.54" stroke="#0000d0" stroke-width="1.15"/>
<line x1="67.70" y1="191.26" x2="71.30" y2="191.26" stroke="#0000d0" stroke-width="1.2"/>
<line x1="67.70" y1="225.54" x2="71.30" y2="225.54" stroke="#0000d0" stroke-width="1.2"/>
</g>
<g stroke="#0000d0" stroke-width="1.15" opacity="1.0">
<line x1="81.50" y1="191.52" x2="81.50" y2="222.29" stroke="#0000d0" stroke-width="1.15"/>
<line x1="79.70" y1="191.52" x2="83.30" y2="191.52" stroke="#0000d0" stroke-width="1.2"/>
<line x1="79.70" y1="222.29" x2="83.30" y2="222.29" stroke="#0000d0" stroke-width="1.2"/>
</g>
<g stroke="#0000d0" stroke-width="1.15" opacity="1.0">
<line x1="83.50" y1="216.40" x2="83.50" y2="238.38" stroke="#0000d0" stroke-width="1.15"/>
<line x1="81.70" y1="216.40" x2="85.30" y2="216.40" stroke="#0000d0" stroke-width="1.2"/>
<line x1="81.70" y1="238.38" x2="85.30" y2="238.38" stroke="#0000d0" stroke-width="1.2"/>
</g>
<g stroke="#0000d0" stroke-width="1.15" opacity="1.0">
<line x1="90.50" y1="216.31" x2="90.50" y2="240.93" stroke="#0000d0" stroke-width="1.15"/>
<line x1="88.70" y1="216.31" x2="92.30" y2="216.31" stroke="#0000d0" stroke-width="1.2"/>
<line x1="88.70" y1="240.93" x2="92.30" y2="240.93" stroke="#0000d0" stroke-width="1.2"/>
</g>
<g stroke="#0000d0" stroke-width="1.15" opacity="1.0">
<line x1="96.50" y1="215.43" x2="96.50" y2="241.81" stroke="#0000d0" stroke-width="1.15"/>
<line x1="94.70" y1="215.43" x2="98.30" y2="215.43" stroke="#0000d0" stroke-width="1.2"/>
<line x1="94.70" y1="241.81" x2="98.30" y2="241.81" stroke="#0000d0" stroke-width="1.2"/>
</g>
<g stroke="#0000d0" stroke-width="1.15" opacity="1.0">
<line x1="101.50" y1="215.65" x2="101.50" y2="243.79" stroke="#0000d0" stroke-width="1.15"/>
<line x1="99.70" y1="215.65" x2="103.30" y2="215.65" stroke="#0000d0" stroke-width="1.2"/>
<line x1="99.70" y1="243.79" x2="103.30" y2="243.79" stroke="#0000d0" stroke-width="1.2"/>
</g>
<g stroke="#0000d0" stroke-width="1.15" opacity="1.0">
<line x1="122.50" y1="216.09" x2="122.50" y2="247.74" stroke="#0000d0" stroke-width="1.15"/>
<line x1="120.70" y1="216.09" x2="124.30" y2="216.09" stroke="#0000d0" stroke-width="1.2"/>
<line x1="120.70" y1="247.74" x2="124.30" y2="247.74" stroke="#0000d0" stroke-width="1.2"/>
</g>
<g stroke="#0000d0" stroke-width="1.15" opacity="1.0">
<line x1="143.50" y1="221.59" x2="143.50" y2="247.96" stroke="#0000d0" stroke-width="1.15"/>
<line x1="141.70" y1="221.59" x2="145.30" y2="221.59" stroke="#0000d0" stroke-width="1.2"/>
<line x1="141.70" y1="247.96" x2="145.30" y2="247.96" stroke="#0000d0" stroke-width="1.2"/>
</g>
<g stroke="#0000d0" stroke-width="1.15" opacity="1.0">
<line x1="164.50" y1="224.40" x2="164.50" y2="250.78" stroke="#0000d0" stroke-width="1.15"/>
<line x1="162.70" y1="224.40" x2="166.30" y2="224.40" stroke="#0000d0" stroke-width="1.2"/>
<line x1="162.70" y1="250.78" x2="166.30" y2="250.78" stroke="#0000d0" stroke-width="1.2"/>
</g>
<polyline points="32.02,237.33 38.10,237.33 44.17,229.85 50.25,224.14 56.32,223.26 62.40,220.62 68.47,214.47 80.05,213.15 82.56,225.46 89.47,228.97 94.71,229.19 99.95,229.72 120.90,225.19 141.85,224.80 162.80,226.99" fill="none" stroke="#0a7a0a" stroke-width="1.05"/>
<circle cx="32.02" cy="237.33" r="1.85" fill="#0a7a0a"/>
<circle cx="38.10" cy="237.33" r="1.85" fill="#0a7a0a"/>
<circle cx="44.17" cy="229.85" r="1.85" fill="#0a7a0a"/>
<circle cx="50.25" cy="224.14" r="1.85" fill="#0a7a0a"/>
<circle cx="56.32" cy="223.26" r="1.85" fill="#0a7a0a"/>
<circle cx="62.40" cy="220.62" r="1.85" fill="#0a7a0a"/>
<circle cx="68.47" cy="214.47" r="1.85" fill="#0a7a0a"/>
<circle cx="80.05" cy="213.15" r="1.85" fill="#0a7a0a"/>
<circle cx="82.56" cy="225.46" r="1.85" fill="#0a7a0a"/>
<circle cx="89.47" cy="228.97" r="1.85" fill="#0a7a0a"/>
<circle cx="94.71" cy="229.19" r="1.85" fill="#0a7a0a"/>
<circle cx="99.95" cy="229.72" r="1.85" fill="#0a7a0a"/>
<circle cx="120.90" cy="225.19" r="1.85" fill="#0a7a0a"/>
<circle cx="141.85" cy="224.80" r="1.85" fill="#0a7a0a"/>
<circle cx="162.80" cy="226.99" r="1.85" fill="#0a7a0a"/>
<polyline points="32.72,246.12 38.80,241.72 44.88,231.17 50.95,224.14 57.02,225.10 63.10,220.31 69.17,216.01 80.75,213.59 83.26,225.90 90.17,228.97 95.41,230.82 100.65,230.82 121.60,234.12 142.55,236.36 163.50,238.38" fill="none" stroke="#ff0a0a" stroke-width="1.05"/>
<rect x="30.87" y="244.27" width="3.70" height="3.70" fill="#ff0a0a"/>
<rect x="36.95" y="239.87" width="3.70" height="3.70" fill="#ff0a0a"/>
<rect x="43.02" y="229.32" width="3.70" height="3.70" fill="#ff0a0a"/>
<rect x="49.10" y="222.29" width="3.70" height="3.70" fill="#ff0a0a"/>
<rect x="55.17" y="223.25" width="3.70" height="3.70" fill="#ff0a0a"/>
<rect x="61.25" y="218.46" width="3.70" height="3.70" fill="#ff0a0a"/>
<rect x="67.33" y="214.16" width="3.70" height="3.70" fill="#ff0a0a"/>
<rect x="78.90" y="211.74" width="3.70" height="3.70" fill="#ff0a0a"/>
<rect x="81.41" y="224.05" width="3.70" height="3.70" fill="#ff0a0a"/>
<rect x="88.33" y="227.12" width="3.70" height="3.70" fill="#ff0a0a"/>
<rect x="93.56" y="228.97" width="3.70" height="3.70" fill="#ff0a0a"/>
<rect x="98.80" y="228.97" width="3.70" height="3.70" fill="#ff0a0a"/>
<rect x="119.75" y="232.27" width="3.70" height="3.70" fill="#ff0a0a"/>
<rect x="140.70" y="234.51" width="3.70" height="3.70" fill="#ff0a0a"/>
<rect x="161.65" y="236.53" width="3.70" height="3.70" fill="#ff0a0a"/>
<polyline points="33.32,244.36 39.40,240.84 45.48,230.91 51.55,231.39 57.62,219.92 63.70,215.52 69.77,208.40 81.35,206.91 83.86,227.39 90.77,228.62 96.01,228.62 101.25,229.72 122.20,231.92 143.15,234.78 164.10,237.59" fill="none" stroke="#0000d8" stroke-width="1.05"/>
<polygon points="33.32,242.02 31.20,246.09 35.45,246.09" fill="#0000d8"/>
<polygon points="39.40,238.50 37.27,242.57 41.53,242.57" fill="#0000d8"/>
<polygon points="45.48,228.57 43.35,232.64 47.60,232.64" fill="#0000d8"/>
<polygon points="51.55,229.05 49.42,233.12 53.68,233.12" fill="#0000d8"/>
<polygon points="57.62,217.58 55.50,221.65 59.75,221.65" fill="#0000d8"/>
<polygon points="63.70,213.18 61.57,217.25 65.83,217.25" fill="#0000d8"/>
<polygon points="69.77,206.06 67.65,210.13 71.90,210.13" fill="#0000d8"/>
<polygon points="81.35,204.57 79.22,208.64 83.47,208.64" fill="#0000d8"/>
<polygon points="83.86,225.05 81.73,229.12 85.99,229.12" fill="#0000d8"/>
<polygon points="90.77,226.28 88.65,230.35 92.90,230.35" fill="#0000d8"/>
<polygon points="96.01,226.28 93.88,230.35 98.14,230.35" fill="#0000d8"/>
<polygon points="101.25,227.38 99.12,231.45 103.38,231.45" fill="#0000d8"/>
<polygon points="122.20,229.58 120.07,233.65 124.33,233.65" fill="#0000d8"/>
<polygon points="143.15,232.44 141.02,236.51 145.28,236.51" fill="#0000d8"/>
<polygon points="164.10,235.25 161.97,239.32 166.23,239.32" fill="#0000d8"/>
<line x1="27.40" y1="179.30" x2="27.40" y2="285.40" stroke="#000" stroke-width="1.3"/>
<line x1="25.40" y1="271.61" x2="27.40" y2="271.61" stroke="#000" stroke-width="0.9"/>
<line x1="25.40" y1="245.24" x2="27.40" y2="245.24" stroke="#000" stroke-width="0.9"/>
<line x1="25.40" y1="218.86" x2="27.40" y2="218.86" stroke="#000" stroke-width="0.9"/>
<line x1="25.40" y1="192.49" x2="27.40" y2="192.49" stroke="#000" stroke-width="0.9"/>
<line x1="24.60" y1="284.80" x2="27.40" y2="284.80" stroke="#000" stroke-width="1.0"/>
<text x="24.70" y="287.25" font-size="6.8" font-weight="bold" text-anchor="end" fill="#000">0</text>
<line x1="24.60" y1="258.43" x2="27.40" y2="258.43" stroke="#000" stroke-width="1.0"/>
<text x="24.70" y="260.87" font-size="6.8" font-weight="bold" text-anchor="end" fill="#000">60</text>
<line x1="24.60" y1="232.05" x2="27.40" y2="232.05" stroke="#000" stroke-width="1.0"/>
<text x="24.70" y="234.50" font-size="6.8" font-weight="bold" text-anchor="end" fill="#000">120</text>
<line x1="24.60" y1="205.68" x2="27.40" y2="205.68" stroke="#000" stroke-width="1.0"/>
<text x="24.70" y="208.12" font-size="6.8" font-weight="bold" text-anchor="end" fill="#000">180</text>
<line x1="24.60" y1="179.30" x2="27.40" y2="179.30" stroke="#000" stroke-width="1.0"/>
<text x="24.70" y="181.75" font-size="6.8" font-weight="bold" text-anchor="end" fill="#000">240</text>
<line x1="26.80" y1="284.80" x2="76.80" y2="284.80" stroke="#000" stroke-width="1.3"/>
<line x1="77.80" y1="284.80" x2="164.20" y2="284.80" stroke="#000" stroke-width="1.3"/>
<line x1="77.80" y1="283.00" x2="77.80" y2="285.40" stroke="#000" stroke-width="1.0"/>
<line x1="32.72" y1="284.80" x2="32.72" y2="286.80" stroke="#000" stroke-width="0.9"/>
<line x1="38.80" y1="284.80" x2="38.80" y2="287.60" stroke="#000" stroke-width="1.0"/>
<text x="38.80" y="293.60" font-size="6.9" font-weight="bold" text-anchor="middle" fill="#000">0</text>
<line x1="44.88" y1="284.80" x2="44.88" y2="286.80" stroke="#000" stroke-width="0.9"/>
<line x1="50.95" y1="284.80" x2="50.95" y2="286.80" stroke="#000" stroke-width="0.9"/>
<line x1="57.02" y1="284.80" x2="57.02" y2="286.80" stroke="#000" stroke-width="0.9"/>
<line x1="63.10" y1="284.80" x2="63.10" y2="287.60" stroke="#000" stroke-width="1.0"/>
<text x="63.10" y="293.60" font-size="6.9" font-weight="bold" text-anchor="middle" fill="#000">1</text>
<line x1="69.17" y1="284.80" x2="69.17" y2="286.80" stroke="#000" stroke-width="0.9"/>
<line x1="75.25" y1="284.80" x2="75.25" y2="286.80" stroke="#000" stroke-width="0.9"/>
<line x1="79.70" y1="284.80" x2="79.70" y2="287.60" stroke="#000" stroke-width="1.0"/>
<text x="79.70" y="293.60" font-size="6.9" font-weight="bold" text-anchor="middle" fill="#000">0</text>
<line x1="84.94" y1="284.80" x2="84.94" y2="286.80" stroke="#000" stroke-width="0.9"/>
<line x1="90.17" y1="284.80" x2="90.17" y2="286.80" stroke="#000" stroke-width="0.9"/>
<line x1="95.41" y1="284.80" x2="95.41" y2="286.80" stroke="#000" stroke-width="0.9"/>
<line x1="100.65" y1="284.80" x2="100.65" y2="287.60" stroke="#000" stroke-width="1.0"/>
<text x="100.65" y="293.60" font-size="6.9" font-weight="bold" text-anchor="middle" fill="#000">1</text>
<line x1="105.89" y1="284.80" x2="105.89" y2="286.80" stroke="#000" stroke-width="0.9"/>
<line x1="111.12" y1="284.80" x2="111.12" y2="286.80" stroke="#000" stroke-width="0.9"/>
<line x1="116.36" y1="284.80" x2="116.36" y2="286.80" stroke="#000" stroke-width="0.9"/>
<line x1="121.60" y1="284.80" x2="121.60" y2="287.60" stroke="#000" stroke-width="1.0"/>
<text x="121.60" y="293.60" font-size="6.9" font-weight="bold" text-anchor="middle" fill="#000">2</text>
<line x1="126.84" y1="284.80" x2="126.84" y2="286.80" stroke="#000" stroke-width="0.9"/>
<line x1="132.07" y1="284.80" x2="132.07" y2="286.80" stroke="#000" stroke-width="0.9"/>
<line x1="137.31" y1="284.80" x2="137.31" y2="286.80" stroke="#000" stroke-width="0.9"/>
<line x1="142.55" y1="284.80" x2="142.55" y2="287.60" stroke="#000" stroke-width="1.0"/>
<text x="142.55" y="293.60" font-size="6.9" font-weight="bold" text-anchor="middle" fill="#000">3</text>
<line x1="147.79" y1="284.80" x2="147.79" y2="286.80" stroke="#000" stroke-width="0.9"/>
<line x1="153.03" y1="284.80" x2="153.03" y2="286.80" stroke="#000" stroke-width="0.9"/>
<line x1="158.26" y1="284.80" x2="158.26" y2="286.80" stroke="#000" stroke-width="0.9"/>
<line x1="163.50" y1="284.80" x2="163.50" y2="287.60" stroke="#000" stroke-width="1.0"/>
<text x="163.50" y="293.60" font-size="6.9" font-weight="bold" text-anchor="middle" fill="#000">4</text>
<text x="52.70" y="301.70" font-size="7.4" font-weight="bold" text-anchor="middle" fill="#000">Haemorrhage</text>
<text x="53.00" y="310.20" font-size="7.5" font-weight="bold" text-anchor="middle" fill="#000">(hours)</text>
<text x="122.70" y="301.70" font-size="7.4" font-weight="bold" text-anchor="middle" fill="#000">Resuscitation</text>
<text x="123.00" y="310.20" font-size="7.5" font-weight="bold" text-anchor="middle" fill="#000">(hours)</text>
<text x="11.80" y="230.50" font-size="7.4" font-weight="bold" text-anchor="middle" transform="rotate(-90 11.80 230.50)">heart rate (bpm)</text>
<text x="180.20" y="171.20" font-size="15.3" font-weight="bold" text-anchor="start" fill="#000">F</text>
<rect x="199.70" y="250.27" width="137.80" height="33.93" fill="#d6d6d6"/>
<rect x="199.70" y="179.00" width="137.80" height="41.82" fill="#d6d6d6"/>
<g stroke="#3f9a3f" stroke-width="1.15" opacity="0.9">
<line x1="204.50" y1="223.13" x2="204.50" y2="258.11" stroke="#3f9a3f" stroke-width="1.15"/>
<line x1="202.70" y1="223.13" x2="206.30" y2="223.13" stroke="#3f9a3f" stroke-width="1.2"/>
<line x1="202.70" y1="258.11" x2="206.30" y2="258.11" stroke="#3f9a3f" stroke-width="1.2"/>
</g>
<g stroke="#3f9a3f" stroke-width="1.15" opacity="0.9">
<line x1="210.50" y1="207.01" x2="210.50" y2="261.45" stroke="#3f9a3f" stroke-width="1.15"/>
<line x1="208.70" y1="207.01" x2="212.30" y2="207.01" stroke="#3f9a3f" stroke-width="1.2"/>
<line x1="208.70" y1="261.45" x2="212.30" y2="261.45" stroke="#3f9a3f" stroke-width="1.2"/>
</g>
<g stroke="#3f9a3f" stroke-width="1.15" opacity="0.9">
<line x1="217.50" y1="230.42" x2="217.50" y2="261.98" stroke="#3f9a3f" stroke-width="1.15"/>
<line x1="215.70" y1="230.42" x2="219.30" y2="230.42" stroke="#3f9a3f" stroke-width="1.2"/>
<line x1="215.70" y1="261.98" x2="219.30" y2="261.98" stroke="#3f9a3f" stroke-width="1.2"/>
</g>
<g stroke="#3f9a3f" stroke-width="1.15" opacity="0.9">
<line x1="223.50" y1="211.80" x2="223.50" y2="248.62" stroke="#3f9a3f" stroke-width="1.15"/>
<line x1="221.70" y1="211.80" x2="225.30" y2="211.80" stroke="#3f9a3f" stroke-width="1.2"/>
<line x1="221.70" y1="248.62" x2="225.30" y2="248.62" stroke="#3f9a3f" stroke-width="1.2"/>
</g>
<g stroke="#3f9a3f" stroke-width="1.15" opacity="0.9">
<line x1="229.50" y1="212.14" x2="229.50" y2="259.48" stroke="#3f9a3f" stroke-width="1.15"/>
<line x1="227.70" y1="212.14" x2="231.30" y2="212.14" stroke="#3f9a3f" stroke-width="1.2"/>
<line x1="227.70" y1="259.48" x2="231.30" y2="259.48" stroke="#3f9a3f" stroke-width="1.2"/>
</g>
<g stroke="#3f9a3f" stroke-width="1.15" opacity="0.9">
<line x1="235.50" y1="215.24" x2="235.50" y2="249.96" stroke="#3f9a3f" stroke-width="1.15"/>
<line x1="233.70" y1="215.24" x2="237.30" y2="215.24" stroke="#3f9a3f" stroke-width="1.2"/>
<line x1="233.70" y1="249.96" x2="237.30" y2="249.96" stroke="#3f9a3f" stroke-width="1.2"/>
</g>
<g stroke="#3f9a3f" stroke-width="1.15" opacity="0.9">
<line x1="241.50" y1="224.74" x2="241.50" y2="253.30" stroke="#3f9a3f" stroke-width="1.15"/>
<line x1="239.70" y1="224.74" x2="243.30" y2="224.74" stroke="#3f9a3f" stroke-width="1.2"/>
<line x1="239.70" y1="253.30" x2="243.30" y2="253.30" stroke="#3f9a3f" stroke-width="1.2"/>
</g>
<g stroke="#3f9a3f" stroke-width="1.15" opacity="0.9">
<line x1="253.50" y1="207.93" x2="253.50" y2="247.70" stroke="#3f9a3f" stroke-width="1.15"/>
<line x1="251.70" y1="207.93" x2="255.30" y2="207.93" stroke="#3f9a3f" stroke-width="1.2"/>
<line x1="251.70" y1="247.70" x2="255.30" y2="247.70" stroke="#3f9a3f" stroke-width="1.2"/>
</g>
<g stroke="#3f9a3f" stroke-width="1.15" opacity="0.9">
<line x1="255.50" y1="184.89" x2="255.50" y2="251.48" stroke="#3f9a3f" stroke-width="1.15"/>
<line x1="253.70" y1="184.89" x2="257.30" y2="184.89" stroke="#3f9a3f" stroke-width="1.2"/>
<line x1="253.70" y1="251.48" x2="257.30" y2="251.48" stroke="#3f9a3f" stroke-width="1.2"/>
</g>
<g stroke="#3f9a3f" stroke-width="1.15" opacity="0.9">
<line x1="262.50" y1="219.84" x2="262.50" y2="261.40" stroke="#3f9a3f" stroke-width="1.15"/>
<line x1="260.70" y1="219.84" x2="264.30" y2="219.84" stroke="#3f9a3f" stroke-width="1.2"/>
<line x1="260.70" y1="261.40" x2="264.30" y2="261.40" stroke="#3f9a3f" stroke-width="1.2"/>
</g>
<g stroke="#3f9a3f" stroke-width="1.15" opacity="0.9">
<line x1="267.50" y1="216.71" x2="267.50" y2="269.31" stroke="#3f9a3f" stroke-width="1.15"/>
<line x1="265.70" y1="216.71" x2="269.30" y2="216.71" stroke="#3f9a3f" stroke-width="1.2"/>
<line x1="265.70" y1="269.31" x2="269.30" y2="269.31" stroke="#3f9a3f" stroke-width="1.2"/>
</g>
<g stroke="#3f9a3f" stroke-width="1.15" opacity="0.9">
<line x1="273.50" y1="211.72" x2="273.50" y2="274.31" stroke="#3f9a3f" stroke-width="1.15"/>
<line x1="271.70" y1="211.72" x2="275.30" y2="211.72" stroke="#3f9a3f" stroke-width="1.2"/>
<line x1="271.70" y1="274.31" x2="275.30" y2="274.31" stroke="#3f9a3f" stroke-width="1.2"/>
</g>
<g stroke="#3f9a3f" stroke-width="1.15" opacity="0.9">
<line x1="294.50" y1="239.46" x2="294.50" y2="265.76" stroke="#3f9a3f" stroke-width="1.15"/>
<line x1="292.70" y1="239.46" x2="296.30" y2="239.46" stroke="#3f9a3f" stroke-width="1.2"/>
<line x1="292.70" y1="265.76" x2="296.30" y2="265.76" stroke="#3f9a3f" stroke-width="1.2"/>
</g>
<g stroke="#3f9a3f" stroke-width="1.15" opacity="0.9">
<line x1="315.50" y1="242.36" x2="315.50" y2="268.66" stroke="#3f9a3f" stroke-width="1.15"/>
<line x1="313.70" y1="242.36" x2="317.30" y2="242.36" stroke="#3f9a3f" stroke-width="1.2"/>
<line x1="313.70" y1="268.66" x2="317.30" y2="268.66" stroke="#3f9a3f" stroke-width="1.2"/>
</g>
<g stroke="#3f9a3f" stroke-width="1.15" opacity="0.9">
<line x1="336.50" y1="242.96" x2="336.50" y2="269.26" stroke="#3f9a3f" stroke-width="1.15"/>
<line x1="334.70" y1="242.96" x2="338.30" y2="242.96" stroke="#3f9a3f" stroke-width="1.2"/>
<line x1="334.70" y1="269.26" x2="338.30" y2="269.26" stroke="#3f9a3f" stroke-width="1.2"/>
</g>
<g stroke="#f02020" stroke-width="1.15" opacity="0.9">
<line x1="205.50" y1="216.61" x2="205.50" y2="253.43" stroke="#f02020" stroke-width="1.15"/>
<line x1="203.70" y1="216.61" x2="207.30" y2="216.61" stroke="#f02020" stroke-width="1.2"/>
<line x1="203.70" y1="253.43" x2="207.30" y2="253.43" stroke="#f02020" stroke-width="1.2"/>
</g>
<g stroke="#f02020" stroke-width="1.15" opacity="0.9">
<line x1="211.50" y1="198.20" x2="211.50" y2="252.64" stroke="#f02020" stroke-width="1.15"/>
<line x1="209.70" y1="198.20" x2="213.30" y2="198.20" stroke="#f02020" stroke-width="1.2"/>
<line x1="209.70" y1="252.64" x2="213.30" y2="252.64" stroke="#f02020" stroke-width="1.2"/>
</g>
<g stroke="#f02020" stroke-width="1.15" opacity="0.9">
<line x1="217.50" y1="224.24" x2="217.50" y2="250.54" stroke="#f02020" stroke-width="1.15"/>
<line x1="215.70" y1="224.24" x2="219.30" y2="224.24" stroke="#f02020" stroke-width="1.2"/>
<line x1="215.70" y1="250.54" x2="219.30" y2="250.54" stroke="#f02020" stroke-width="1.2"/>
</g>
<g stroke="#f02020" stroke-width="1.15" opacity="0.9">
<line x1="223.50" y1="204.59" x2="223.50" y2="239.83" stroke="#f02020" stroke-width="1.15"/>
<line x1="221.70" y1="204.59" x2="225.30" y2="204.59" stroke="#f02020" stroke-width="1.2"/>
<line x1="221.70" y1="239.83" x2="225.30" y2="239.83" stroke="#f02020" stroke-width="1.2"/>
</g>
<g stroke="#f02020" stroke-width="1.15" opacity="0.9">
<line x1="229.50" y1="208.51" x2="229.50" y2="227.71" stroke="#f02020" stroke-width="1.15"/>
<line x1="227.70" y1="208.51" x2="231.30" y2="208.51" stroke="#f02020" stroke-width="1.2"/>
<line x1="227.70" y1="227.71" x2="231.30" y2="227.71" stroke="#f02020" stroke-width="1.2"/>
</g>
<g stroke="#f02020" stroke-width="1.15" opacity="0.9">
<line x1="235.50" y1="207.54" x2="235.50" y2="220.69" stroke="#f02020" stroke-width="1.15"/>
<line x1="233.70" y1="207.54" x2="237.30" y2="207.54" stroke="#f02020" stroke-width="1.2"/>
<line x1="233.70" y1="220.69" x2="237.30" y2="220.69" stroke="#f02020" stroke-width="1.2"/>
</g>
<g stroke="#f02020" stroke-width="1.15" opacity="0.9">
<line x1="241.50" y1="196.23" x2="241.50" y2="230.42" stroke="#f02020" stroke-width="1.15"/>
<line x1="239.70" y1="196.23" x2="243.30" y2="196.23" stroke="#f02020" stroke-width="1.2"/>
<line x1="239.70" y1="230.42" x2="243.30" y2="230.42" stroke="#f02020" stroke-width="1.2"/>
</g>
<g stroke="#f02020" stroke-width="1.15" opacity="0.9">
<line x1="253.50" y1="198.99" x2="253.50" y2="222.13" stroke="#f02020" stroke-width="1.15"/>
<line x1="251.70" y1="198.99" x2="255.30" y2="198.99" stroke="#f02020" stroke-width="1.2"/>
<line x1="251.70" y1="222.13" x2="255.30" y2="222.13" stroke="#f02020" stroke-width="1.2"/>
</g>
<g stroke="#f02020" stroke-width="1.15" opacity="0.9">
<line x1="256.50" y1="198.46" x2="256.50" y2="237.91" stroke="#f02020" stroke-width="1.15"/>
<line x1="254.70" y1="198.46" x2="258.30" y2="198.46" stroke="#f02020" stroke-width="1.2"/>
<line x1="254.70" y1="237.91" x2="258.30" y2="237.91" stroke="#f02020" stroke-width="1.2"/>
</g>
<g stroke="#f02020" stroke-width="1.15" opacity="0.9">
<line x1="263.50" y1="208.59" x2="263.50" y2="243.83" stroke="#f02020" stroke-width="1.15"/>
<line x1="261.70" y1="208.59" x2="265.30" y2="208.59" stroke="#f02020" stroke-width="1.2"/>
<line x1="261.70" y1="243.83" x2="265.30" y2="243.83" stroke="#f02020" stroke-width="1.2"/>
</g>
<g stroke="#f02020" stroke-width="1.15" opacity="0.9">
<line x1="268.50" y1="215.22" x2="268.50" y2="246.78" stroke="#f02020" stroke-width="1.15"/>
<line x1="266.70" y1="215.22" x2="270.30" y2="215.22" stroke="#f02020" stroke-width="1.2"/>
<line x1="266.70" y1="246.78" x2="270.30" y2="246.78" stroke="#f02020" stroke-width="1.2"/>
</g>
<g stroke="#f02020" stroke-width="1.15" opacity="0.9">
<line x1="273.50" y1="218.19" x2="273.50" y2="251.85" stroke="#f02020" stroke-width="1.15"/>
<line x1="271.70" y1="218.19" x2="275.30" y2="218.19" stroke="#f02020" stroke-width="1.2"/>
<line x1="271.70" y1="251.85" x2="275.30" y2="251.85" stroke="#f02020" stroke-width="1.2"/>
</g>
<g stroke="#f02020" stroke-width="1.15" opacity="0.9">
<line x1="294.50" y1="220.42" x2="294.50" y2="250.40" stroke="#f02020" stroke-width="1.15"/>
<line x1="292.70" y1="220.42" x2="296.30" y2="220.42" stroke="#f02020" stroke-width="1.2"/>
<line x1="292.70" y1="250.40" x2="296.30" y2="250.40" stroke="#f02020" stroke-width="1.2"/>
</g>
<g stroke="#f02020" stroke-width="1.15" opacity="0.9">
<line x1="315.50" y1="221.61" x2="315.50" y2="258.95" stroke="#f02020" stroke-width="1.15"/>
<line x1="313.70" y1="221.61" x2="317.30" y2="221.61" stroke="#f02020" stroke-width="1.2"/>
<line x1="313.70" y1="258.95" x2="317.30" y2="258.95" stroke="#f02020" stroke-width="1.2"/>
</g>
<g stroke="#f02020" stroke-width="1.15" opacity="0.9">
<line x1="336.50" y1="228.21" x2="336.50" y2="260.98" stroke="#f02020" stroke-width="1.15"/>
<line x1="334.70" y1="228.21" x2="338.30" y2="228.21" stroke="#f02020" stroke-width="1.2"/>
<line x1="334.70" y1="260.98" x2="338.30" y2="260.98" stroke="#f02020" stroke-width="1.2"/>
</g>
<g stroke="#0000d0" stroke-width="1.15" opacity="1.0">
<line x1="206.50" y1="220.48" x2="206.50" y2="241.52" stroke="#0000d0" stroke-width="1.15"/>
<line x1="204.70" y1="220.48" x2="208.30" y2="220.48" stroke="#0000d0" stroke-width="1.2"/>
<line x1="204.70" y1="241.52" x2="208.30" y2="241.52" stroke="#0000d0" stroke-width="1.2"/>
</g>
<g stroke="#0000d0" stroke-width="1.15" opacity="1.0">
<line x1="212.50" y1="223.92" x2="212.50" y2="254.11" stroke="#0000d0" stroke-width="1.15"/>
<line x1="210.70" y1="223.92" x2="214.30" y2="223.92" stroke="#0000d0" stroke-width="1.2"/>
<line x1="210.70" y1="254.11" x2="214.30" y2="254.11" stroke="#0000d0" stroke-width="1.2"/>
</g>
<g stroke="#0000d0" stroke-width="1.15" opacity="1.0">
<line x1="218.50" y1="238.91" x2="218.50" y2="258.11" stroke="#0000d0" stroke-width="1.15"/>
<line x1="216.70" y1="238.91" x2="220.30" y2="238.91" stroke="#0000d0" stroke-width="1.2"/>
<line x1="216.70" y1="258.11" x2="220.30" y2="258.11" stroke="#0000d0" stroke-width="1.2"/>
</g>
<g stroke="#0000d0" stroke-width="1.15" opacity="1.0">
<line x1="224.50" y1="219.24" x2="224.50" y2="250.80" stroke="#0000d0" stroke-width="1.15"/>
<line x1="222.70" y1="219.24" x2="226.30" y2="219.24" stroke="#0000d0" stroke-width="1.2"/>
<line x1="222.70" y1="250.80" x2="226.30" y2="250.80" stroke="#0000d0" stroke-width="1.2"/>
</g>
<g stroke="#0000d0" stroke-width="1.15" opacity="1.0">
<line x1="230.50" y1="180.58" x2="230.50" y2="244.43" stroke="#0000d0" stroke-width="1.15"/>
<line x1="228.70" y1="180.58" x2="232.30" y2="180.58" stroke="#0000d0" stroke-width="1.2"/>
<line x1="228.70" y1="244.43" x2="232.30" y2="244.43" stroke="#0000d0" stroke-width="1.2"/>
</g>
<g stroke="#0000d0" stroke-width="1.15" opacity="1.0">
<line x1="236.50" y1="218.32" x2="236.50" y2="248.51" stroke="#0000d0" stroke-width="1.15"/>
<line x1="234.70" y1="218.32" x2="238.30" y2="218.32" stroke="#0000d0" stroke-width="1.2"/>
<line x1="234.70" y1="248.51" x2="238.30" y2="248.51" stroke="#0000d0" stroke-width="1.2"/>
</g>
<g stroke="#0000d0" stroke-width="1.15" opacity="1.0">
<line x1="242.50" y1="199.07" x2="242.50" y2="248.51" stroke="#0000d0" stroke-width="1.15"/>
<line x1="240.70" y1="199.07" x2="244.30" y2="199.07" stroke="#0000d0" stroke-width="1.2"/>
<line x1="240.70" y1="248.51" x2="244.30" y2="248.51" stroke="#0000d0" stroke-width="1.2"/>
</g>
<g stroke="#0000d0" stroke-width="1.15" opacity="1.0">
<line x1="254.50" y1="212.56" x2="254.50" y2="244.64" stroke="#0000d0" stroke-width="1.15"/>
<line x1="252.70" y1="212.56" x2="256.30" y2="212.56" stroke="#0000d0" stroke-width="1.2"/>
<line x1="252.70" y1="244.64" x2="256.30" y2="244.64" stroke="#0000d0" stroke-width="1.2"/>
</g>
<g stroke="#0000d0" stroke-width="1.15" opacity="1.0">
<line x1="256.50" y1="228.79" x2="256.50" y2="252.46" stroke="#0000d0" stroke-width="1.15"/>
<line x1="254.70" y1="228.79" x2="258.30" y2="228.79" stroke="#0000d0" stroke-width="1.2"/>
<line x1="254.70" y1="252.46" x2="258.30" y2="252.46" stroke="#0000d0" stroke-width="1.2"/>
</g>
<g stroke="#0000d0" stroke-width="1.15" opacity="1.0">
<line x1="263.50" y1="244.59" x2="263.50" y2="258.79" stroke="#0000d0" stroke-width="1.15"/>
<line x1="261.70" y1="244.59" x2="265.30" y2="244.59" stroke="#0000d0" stroke-width="1.2"/>
<line x1="261.70" y1="258.79" x2="265.30" y2="258.79" stroke="#0000d0" stroke-width="1.2"/>
</g>
<g stroke="#0000d0" stroke-width="1.15" opacity="1.0">
<line x1="269.50" y1="245.93" x2="269.50" y2="260.66" stroke="#0000d0" stroke-width="1.15"/>
<line x1="267.70" y1="245.93" x2="271.30" y2="245.93" stroke="#0000d0" stroke-width="1.2"/>
<line x1="267.70" y1="260.66" x2="271.30" y2="260.66" stroke="#0000d0" stroke-width="1.2"/>
</g>
<g stroke="#0000d0" stroke-width="1.15" opacity="1.0">
<line x1="274.50" y1="245.93" x2="274.50" y2="260.66" stroke="#0000d0" stroke-width="1.15"/>
<line x1="272.70" y1="245.93" x2="276.30" y2="245.93" stroke="#0000d0" stroke-width="1.2"/>
<line x1="272.70" y1="260.66" x2="276.30" y2="260.66" stroke="#0000d0" stroke-width="1.2"/>
</g>
<g stroke="#0000d0" stroke-width="1.15" opacity="1.0">
<line x1="295.50" y1="242.67" x2="295.50" y2="263.71" stroke="#0000d0" stroke-width="1.15"/>
<line x1="293.70" y1="242.67" x2="297.30" y2="242.67" stroke="#0000d0" stroke-width="1.2"/>
<line x1="293.70" y1="263.71" x2="297.30" y2="263.71" stroke="#0000d0" stroke-width="1.2"/>
</g>
<g stroke="#0000d0" stroke-width="1.15" opacity="1.0">
<line x1="316.50" y1="246.01" x2="316.50" y2="267.79" stroke="#0000d0" stroke-width="1.15"/>
<line x1="314.70" y1="246.01" x2="318.30" y2="246.01" stroke="#0000d0" stroke-width="1.2"/>
<line x1="314.70" y1="267.79" x2="318.30" y2="267.79" stroke="#0000d0" stroke-width="1.2"/>
</g>
<g stroke="#0000d0" stroke-width="1.15" opacity="1.0">
<line x1="337.50" y1="247.88" x2="337.50" y2="268.92" stroke="#0000d0" stroke-width="1.15"/>
<line x1="335.70" y1="247.88" x2="339.30" y2="247.88" stroke="#0000d0" stroke-width="1.2"/>
<line x1="335.70" y1="268.92" x2="339.30" y2="268.92" stroke="#0000d0" stroke-width="1.2"/>
</g>
<polyline points="204.97,240.62 211.00,234.23 217.03,246.20 223.05,230.21 229.07,235.81 235.10,232.60 241.12,239.02 253.05,227.81 255.58,218.19 262.51,240.62 267.77,243.01 273.03,243.01 294.06,252.61 315.09,255.51 336.12,256.11" fill="none" stroke="#0a7a0a" stroke-width="1.05"/>
<circle cx="204.97" cy="240.62" r="1.85" fill="#0a7a0a"/>
<circle cx="211.00" cy="234.23" r="1.85" fill="#0a7a0a"/>
<circle cx="217.03" cy="246.20" r="1.85" fill="#0a7a0a"/>
<circle cx="223.05" cy="230.21" r="1.85" fill="#0a7a0a"/>
<circle cx="229.07" cy="235.81" r="1.85" fill="#0a7a0a"/>
<circle cx="235.10" cy="232.60" r="1.85" fill="#0a7a0a"/>
<circle cx="241.12" cy="239.02" r="1.85" fill="#0a7a0a"/>
<circle cx="253.05" cy="227.81" r="1.85" fill="#0a7a0a"/>
<circle cx="255.58" cy="218.19" r="1.85" fill="#0a7a0a"/>
<circle cx="262.51" cy="240.62" r="1.85" fill="#0a7a0a"/>
<circle cx="267.77" cy="243.01" r="1.85" fill="#0a7a0a"/>
<circle cx="273.03" cy="243.01" r="1.85" fill="#0a7a0a"/>
<circle cx="294.06" cy="252.61" r="1.85" fill="#0a7a0a"/>
<circle cx="315.09" cy="255.51" r="1.85" fill="#0a7a0a"/>
<circle cx="336.12" cy="256.11" r="1.85" fill="#0a7a0a"/>
<polyline points="205.67,235.02 211.70,225.42 217.72,237.39 223.75,222.21 229.77,218.11 235.80,214.11 241.82,213.32 253.75,210.56 256.28,218.19 263.21,226.21 268.47,231.00 273.73,235.02 294.76,235.41 315.79,240.28 336.82,244.59" fill="none" stroke="#ff0a0a" stroke-width="1.05"/>
<rect x="203.82" y="233.17" width="3.70" height="3.70" fill="#ff0a0a"/>
<rect x="209.85" y="223.57" width="3.70" height="3.70" fill="#ff0a0a"/>
<rect x="215.88" y="235.54" width="3.70" height="3.70" fill="#ff0a0a"/>
<rect x="221.90" y="220.36" width="3.70" height="3.70" fill="#ff0a0a"/>
<rect x="227.92" y="216.26" width="3.70" height="3.70" fill="#ff0a0a"/>
<rect x="233.95" y="212.26" width="3.70" height="3.70" fill="#ff0a0a"/>
<rect x="239.97" y="211.47" width="3.70" height="3.70" fill="#ff0a0a"/>
<rect x="251.90" y="208.71" width="3.70" height="3.70" fill="#ff0a0a"/>
<rect x="254.43" y="216.34" width="3.70" height="3.70" fill="#ff0a0a"/>
<rect x="261.36" y="224.36" width="3.70" height="3.70" fill="#ff0a0a"/>
<rect x="266.62" y="229.15" width="3.70" height="3.70" fill="#ff0a0a"/>
<rect x="271.88" y="233.17" width="3.70" height="3.70" fill="#ff0a0a"/>
<rect x="292.91" y="233.56" width="3.70" height="3.70" fill="#ff0a0a"/>
<rect x="313.94" y="238.43" width="3.70" height="3.70" fill="#ff0a0a"/>
<rect x="334.97" y="242.74" width="3.70" height="3.70" fill="#ff0a0a"/>
<polyline points="206.27,231.00 212.30,239.02 218.32,248.51 224.35,235.02 230.37,212.51 236.40,233.41 242.42,223.79 254.35,228.60 256.88,240.62 263.81,251.69 269.07,253.30 274.33,253.30 295.36,253.19 316.39,256.90 337.42,258.40" fill="none" stroke="#0000d8" stroke-width="1.05"/>
<polygon points="206.27,228.65 204.15,232.72 208.40,232.72" fill="#0000d8"/>
<polygon points="212.30,236.68 210.17,240.75 214.43,240.75" fill="#0000d8"/>
<polygon points="218.32,246.17 216.20,250.24 220.45,250.24" fill="#0000d8"/>
<polygon points="224.35,232.68 222.22,236.75 226.48,236.75" fill="#0000d8"/>
<polygon points="230.37,210.17 228.25,214.24 232.50,214.24" fill="#0000d8"/>
<polygon points="236.40,231.07 234.27,235.14 238.53,235.14" fill="#0000d8"/>
<polygon points="242.42,221.45 240.30,225.52 244.55,225.52" fill="#0000d8"/>
<polygon points="254.35,226.26 252.22,230.33 256.48,230.33" fill="#0000d8"/>
<polygon points="256.88,238.28 254.75,242.35 259.00,242.35" fill="#0000d8"/>
<polygon points="263.81,249.35 261.69,253.42 265.94,253.42" fill="#0000d8"/>
<polygon points="269.07,250.96 266.94,255.03 271.20,255.03" fill="#0000d8"/>
<polygon points="274.33,250.96 272.20,255.03 276.46,255.03" fill="#0000d8"/>
<polygon points="295.36,250.85 293.23,254.92 297.49,254.92" fill="#0000d8"/>
<polygon points="316.39,254.56 314.26,258.63 318.52,258.63" fill="#0000d8"/>
<polygon points="337.42,256.06 335.29,260.13 339.55,260.13" fill="#0000d8"/>
<line x1="199.70" y1="179.00" x2="199.70" y2="284.80" stroke="#000" stroke-width="1.3"/>
<line x1="197.70" y1="271.05" x2="199.70" y2="271.05" stroke="#000" stroke-width="0.9"/>
<line x1="197.70" y1="244.75" x2="199.70" y2="244.75" stroke="#000" stroke-width="0.9"/>
<line x1="197.70" y1="218.45" x2="199.70" y2="218.45" stroke="#000" stroke-width="0.9"/>
<line x1="197.70" y1="192.15" x2="199.70" y2="192.15" stroke="#000" stroke-width="0.9"/>
<line x1="196.90" y1="284.20" x2="199.70" y2="284.20" stroke="#000" stroke-width="1.0"/>
<text x="197.00" y="286.43" font-size="6.2" font-weight="bold" text-anchor="end" fill="#000">0</text>
<line x1="196.90" y1="257.90" x2="199.70" y2="257.90" stroke="#000" stroke-width="1.0"/>
<text x="197.00" y="260.13" font-size="6.2" font-weight="bold" text-anchor="end" fill="#000">1000</text>
<line x1="196.90" y1="231.60" x2="199.70" y2="231.60" stroke="#000" stroke-width="1.0"/>
<text x="197.00" y="233.83" font-size="6.2" font-weight="bold" text-anchor="end" fill="#000">2000</text>
<line x1="196.90" y1="205.30" x2="199.70" y2="205.30" stroke="#000" stroke-width="1.0"/>
<text x="197.00" y="207.53" font-size="6.2" font-weight="bold" text-anchor="end" fill="#000">3000</text>
<line x1="196.90" y1="179.00" x2="199.70" y2="179.00" stroke="#000" stroke-width="1.0"/>
<text x="197.00" y="181.23" font-size="6.2" font-weight="bold" text-anchor="end" fill="#000">4000</text>
<line x1="199.10" y1="284.20" x2="249.80" y2="284.20" stroke="#000" stroke-width="1.3"/>
<line x1="250.80" y1="284.20" x2="337.50" y2="284.20" stroke="#000" stroke-width="1.3"/>
<line x1="250.80" y1="282.40" x2="250.80" y2="284.80" stroke="#000" stroke-width="1.0"/>
<line x1="205.67" y1="284.20" x2="205.67" y2="286.20" stroke="#000" stroke-width="0.9"/>
<line x1="211.70" y1="284.20" x2="211.70" y2="287.00" stroke="#000" stroke-width="1.0"/>
<text x="211.70" y="293.00" font-size="6.9" font-weight="bold" text-anchor="middle" fill="#000">0</text>
<line x1="217.72" y1="284.20" x2="217.72" y2="286.20" stroke="#000" stroke-width="0.9"/>
<line x1="223.75" y1="284.20" x2="223.75" y2="286.20" stroke="#000" stroke-width="0.9"/>
<line x1="229.77" y1="284.20" x2="229.77" y2="286.20" stroke="#000" stroke-width="0.9"/>
<line x1="235.80" y1="284.20" x2="235.80" y2="287.00" stroke="#000" stroke-width="1.0"/>
<text x="235.80" y="293.00" font-size="6.9" font-weight="bold" text-anchor="middle" fill="#000">1</text>
<line x1="241.82" y1="284.20" x2="241.82" y2="286.20" stroke="#000" stroke-width="0.9"/>
<line x1="247.85" y1="284.20" x2="247.85" y2="286.20" stroke="#000" stroke-width="0.9"/>
<line x1="252.70" y1="284.20" x2="252.70" y2="287.00" stroke="#000" stroke-width="1.0"/>
<text x="252.70" y="293.00" font-size="6.9" font-weight="bold" text-anchor="middle" fill="#000">0</text>
<line x1="257.96" y1="284.20" x2="257.96" y2="286.20" stroke="#000" stroke-width="0.9"/>
<line x1="263.21" y1="284.20" x2="263.21" y2="286.20" stroke="#000" stroke-width="0.9"/>
<line x1="268.47" y1="284.20" x2="268.47" y2="286.20" stroke="#000" stroke-width="0.9"/>
<line x1="273.73" y1="284.20" x2="273.73" y2="287.00" stroke="#000" stroke-width="1.0"/>
<text x="273.73" y="293.00" font-size="6.9" font-weight="bold" text-anchor="middle" fill="#000">1</text>
<line x1="278.99" y1="284.20" x2="278.99" y2="286.20" stroke="#000" stroke-width="0.9"/>
<line x1="284.25" y1="284.20" x2="284.25" y2="286.20" stroke="#000" stroke-width="0.9"/>
<line x1="289.50" y1="284.20" x2="289.50" y2="286.20" stroke="#000" stroke-width="0.9"/>
<line x1="294.76" y1="284.20" x2="294.76" y2="287.00" stroke="#000" stroke-width="1.0"/>
<text x="294.76" y="293.00" font-size="6.9" font-weight="bold" text-anchor="middle" fill="#000">2</text>
<line x1="300.02" y1="284.20" x2="300.02" y2="286.20" stroke="#000" stroke-width="0.9"/>
<line x1="305.27" y1="284.20" x2="305.27" y2="286.20" stroke="#000" stroke-width="0.9"/>
<line x1="310.53" y1="284.20" x2="310.53" y2="286.20" stroke="#000" stroke-width="0.9"/>
<line x1="315.79" y1="284.20" x2="315.79" y2="287.00" stroke="#000" stroke-width="1.0"/>
<text x="315.79" y="293.00" font-size="6.9" font-weight="bold" text-anchor="middle" fill="#000">3</text>
<line x1="321.05" y1="284.20" x2="321.05" y2="286.20" stroke="#000" stroke-width="0.9"/>
<line x1="326.31" y1="284.20" x2="326.31" y2="286.20" stroke="#000" stroke-width="0.9"/>
<line x1="331.56" y1="284.20" x2="331.56" y2="286.20" stroke="#000" stroke-width="0.9"/>
<line x1="336.82" y1="284.20" x2="336.82" y2="287.00" stroke="#000" stroke-width="1.0"/>
<text x="336.82" y="293.00" font-size="6.9" font-weight="bold" text-anchor="middle" fill="#000">4</text>
<text x="225.35" y="301.10" font-size="7.4" font-weight="bold" text-anchor="middle" fill="#000">Haemorrhage</text>
<text x="225.65" y="309.60" font-size="7.5" font-weight="bold" text-anchor="middle" fill="#000">(hours)</text>
<text x="295.85" y="301.10" font-size="7.4" font-weight="bold" text-anchor="middle" fill="#000">Resuscitation</text>
<text x="296.15" y="309.60" font-size="7.5" font-weight="bold" text-anchor="middle" fill="#000">(hours)</text>
<text x="182.00" y="230.20" font-size="7.3" font-weight="bold" text-anchor="middle" transform="rotate(-90 182.00 230.20)">SVRI (dynes/sec/cm5)</text>
<line x1="257.60" y1="264.80" x2="257.60" y2="262.60" stroke="#3a3ae0" stroke-width="1.0"/>
<line x1="257.60" y1="264.80" x2="259.69" y2="264.12" stroke="#3a3ae0" stroke-width="1.0"/>
<line x1="257.60" y1="264.80" x2="258.89" y2="266.58" stroke="#3a3ae0" stroke-width="1.0"/>
<line x1="257.60" y1="264.80" x2="256.31" y2="266.58" stroke="#3a3ae0" stroke-width="1.0"/>
<line x1="257.60" y1="264.80" x2="255.51" y2="264.12" stroke="#3a3ae0" stroke-width="1.0"/>
<line x1="263.10" y1="270.30" x2="263.10" y2="268.10" stroke="#3a3ae0" stroke-width="1.0"/>
<line x1="263.10" y1="270.30" x2="265.19" y2="269.62" stroke="#3a3ae0" stroke-width="1.0"/>
<line x1="263.10" y1="270.30" x2="264.39" y2="272.08" stroke="#3a3ae0" stroke-width="1.0"/>
<line x1="263.10" y1="270.30" x2="261.81" y2="272.08" stroke="#3a3ae0" stroke-width="1.0"/>
<line x1="263.10" y1="270.30" x2="261.01" y2="269.62" stroke="#3a3ae0" stroke-width="1.0"/>
<text x="351.80" y="171.20" font-size="15.3" font-weight="bold" text-anchor="start" fill="#000">G</text>
<rect x="371.70" y="221.08" width="138.50" height="63.12" fill="#d6d6d6"/>
<g stroke="#3f9a3f" stroke-width="1.15" opacity="0.9">
<line x1="378.50" y1="201.93" x2="378.50" y2="227.18" stroke="#3f9a3f" stroke-width="1.15"/>
<line x1="376.70" y1="201.93" x2="380.30" y2="201.93" stroke="#3f9a3f" stroke-width="1.2"/>
<line x1="376.70" y1="227.18" x2="380.30" y2="227.18" stroke="#3f9a3f" stroke-width="1.2"/>
</g>
<g stroke="#3f9a3f" stroke-width="1.15" opacity="0.9">
<line x1="384.50" y1="206.77" x2="384.50" y2="232.02" stroke="#3f9a3f" stroke-width="1.15"/>
<line x1="382.70" y1="206.77" x2="386.30" y2="206.77" stroke="#3f9a3f" stroke-width="1.2"/>
<line x1="382.70" y1="232.02" x2="386.30" y2="232.02" stroke="#3f9a3f" stroke-width="1.2"/>
</g>
<g stroke="#3f9a3f" stroke-width="1.15" opacity="0.9">
<line x1="390.50" y1="213.51" x2="390.50" y2="242.96" stroke="#3f9a3f" stroke-width="1.15"/>
<line x1="388.70" y1="213.51" x2="392.30" y2="213.51" stroke="#3f9a3f" stroke-width="1.2"/>
<line x1="388.70" y1="242.96" x2="392.30" y2="242.96" stroke="#3f9a3f" stroke-width="1.2"/>
</g>
<g stroke="#3f9a3f" stroke-width="1.15" opacity="0.9">
<line x1="396.50" y1="218.34" x2="396.50" y2="248.64" stroke="#3f9a3f" stroke-width="1.15"/>
<line x1="394.70" y1="218.34" x2="398.30" y2="218.34" stroke="#3f9a3f" stroke-width="1.2"/>
<line x1="394.70" y1="248.64" x2="398.30" y2="248.64" stroke="#3f9a3f" stroke-width="1.2"/>
</g>
<g stroke="#3f9a3f" stroke-width="1.15" opacity="0.9">
<line x1="401.50" y1="223.82" x2="401.50" y2="249.90" stroke="#3f9a3f" stroke-width="1.15"/>
<line x1="399.70" y1="223.82" x2="403.30" y2="223.82" stroke="#3f9a3f" stroke-width="1.2"/>
<line x1="399.70" y1="249.90" x2="403.30" y2="249.90" stroke="#3f9a3f" stroke-width="1.2"/>
</g>
<g stroke="#3f9a3f" stroke-width="1.15" opacity="0.9">
<line x1="407.50" y1="222.97" x2="407.50" y2="248.22" stroke="#3f9a3f" stroke-width="1.15"/>
<line x1="405.70" y1="222.97" x2="409.30" y2="222.97" stroke="#3f9a3f" stroke-width="1.2"/>
<line x1="405.70" y1="248.22" x2="409.30" y2="248.22" stroke="#3f9a3f" stroke-width="1.2"/>
</g>
<g stroke="#3f9a3f" stroke-width="1.15" opacity="0.9">
<line x1="413.50" y1="220.87" x2="413.50" y2="246.12" stroke="#3f9a3f" stroke-width="1.15"/>
<line x1="411.70" y1="220.87" x2="415.30" y2="220.87" stroke="#3f9a3f" stroke-width="1.2"/>
<line x1="411.70" y1="246.12" x2="415.30" y2="246.12" stroke="#3f9a3f" stroke-width="1.2"/>
</g>
<g stroke="#3f9a3f" stroke-width="1.15" opacity="0.9">
<line x1="425.50" y1="220.87" x2="425.50" y2="244.01" stroke="#3f9a3f" stroke-width="1.15"/>
<line x1="423.70" y1="220.87" x2="427.30" y2="220.87" stroke="#3f9a3f" stroke-width="1.2"/>
<line x1="423.70" y1="244.01" x2="427.30" y2="244.01" stroke="#3f9a3f" stroke-width="1.2"/>
</g>
<g stroke="#3f9a3f" stroke-width="1.15" opacity="0.9">
<line x1="428.50" y1="204.46" x2="428.50" y2="225.50" stroke="#3f9a3f" stroke-width="1.15"/>
<line x1="426.70" y1="204.46" x2="430.30" y2="204.46" stroke="#3f9a3f" stroke-width="1.2"/>
<line x1="426.70" y1="225.50" x2="430.30" y2="225.50" stroke="#3f9a3f" stroke-width="1.2"/>
</g>
<g stroke="#3f9a3f" stroke-width="1.15" opacity="0.9">
<line x1="435.50" y1="206.77" x2="435.50" y2="232.02" stroke="#3f9a3f" stroke-width="1.15"/>
<line x1="433.70" y1="206.77" x2="437.30" y2="206.77" stroke="#3f9a3f" stroke-width="1.2"/>
<line x1="433.70" y1="232.02" x2="437.30" y2="232.02" stroke="#3f9a3f" stroke-width="1.2"/>
</g>
<g stroke="#3f9a3f" stroke-width="1.15" opacity="0.9">
<line x1="440.50" y1="214.14" x2="440.50" y2="248.64" stroke="#3f9a3f" stroke-width="1.15"/>
<line x1="438.70" y1="214.14" x2="442.30" y2="214.14" stroke="#3f9a3f" stroke-width="1.2"/>
<line x1="438.70" y1="248.64" x2="442.30" y2="248.64" stroke="#3f9a3f" stroke-width="1.2"/>
</g>
<g stroke="#3f9a3f" stroke-width="1.15" opacity="0.9">
<line x1="445.50" y1="217.08" x2="445.50" y2="252.01" stroke="#3f9a3f" stroke-width="1.15"/>
<line x1="443.70" y1="217.08" x2="447.30" y2="217.08" stroke="#3f9a3f" stroke-width="1.2"/>
<line x1="443.70" y1="252.01" x2="447.30" y2="252.01" stroke="#3f9a3f" stroke-width="1.2"/>
</g>
<g stroke="#3f9a3f" stroke-width="1.15" opacity="0.9">
<line x1="466.50" y1="216.66" x2="466.50" y2="250.33" stroke="#3f9a3f" stroke-width="1.15"/>
<line x1="464.70" y1="216.66" x2="468.30" y2="216.66" stroke="#3f9a3f" stroke-width="1.2"/>
<line x1="464.70" y1="250.33" x2="468.30" y2="250.33" stroke="#3f9a3f" stroke-width="1.2"/>
</g>
<g stroke="#3f9a3f" stroke-width="1.15" opacity="0.9">
<line x1="487.50" y1="213.72" x2="487.50" y2="257.48" stroke="#3f9a3f" stroke-width="1.15"/>
<line x1="485.70" y1="213.72" x2="489.30" y2="213.72" stroke="#3f9a3f" stroke-width="1.2"/>
<line x1="485.70" y1="257.48" x2="489.30" y2="257.48" stroke="#3f9a3f" stroke-width="1.2"/>
</g>
<g stroke="#3f9a3f" stroke-width="1.15" opacity="0.9">
<line x1="508.50" y1="220.45" x2="508.50" y2="253.69" stroke="#3f9a3f" stroke-width="1.15"/>
<line x1="506.70" y1="220.45" x2="510.30" y2="220.45" stroke="#3f9a3f" stroke-width="1.2"/>
<line x1="506.70" y1="253.69" x2="510.30" y2="253.69" stroke="#3f9a3f" stroke-width="1.2"/>
</g>
<g stroke="#f02020" stroke-width="1.15" opacity="0.9">
<line x1="378.50" y1="179.42" x2="378.50" y2="209.72" stroke="#f02020" stroke-width="1.15"/>
<line x1="376.70" y1="179.42" x2="380.30" y2="179.42" stroke="#f02020" stroke-width="1.2"/>
<line x1="376.70" y1="209.72" x2="380.30" y2="209.72" stroke="#f02020" stroke-width="1.2"/>
</g>
<g stroke="#f02020" stroke-width="1.15" opacity="0.9">
<line x1="384.50" y1="183.21" x2="384.50" y2="211.40" stroke="#f02020" stroke-width="1.15"/>
<line x1="382.70" y1="183.21" x2="386.30" y2="183.21" stroke="#f02020" stroke-width="1.2"/>
<line x1="382.70" y1="211.40" x2="386.30" y2="211.40" stroke="#f02020" stroke-width="1.2"/>
</g>
<g stroke="#f02020" stroke-width="1.15" opacity="0.9">
<line x1="390.50" y1="190.57" x2="390.50" y2="217.50" stroke="#f02020" stroke-width="1.15"/>
<line x1="388.70" y1="190.57" x2="392.30" y2="190.57" stroke="#f02020" stroke-width="1.2"/>
<line x1="388.70" y1="217.50" x2="392.30" y2="217.50" stroke="#f02020" stroke-width="1.2"/>
</g>
<g stroke="#f02020" stroke-width="1.15" opacity="0.9">
<line x1="396.50" y1="192.47" x2="396.50" y2="219.82" stroke="#f02020" stroke-width="1.15"/>
<line x1="394.70" y1="192.47" x2="398.30" y2="192.47" stroke="#f02020" stroke-width="1.2"/>
<line x1="394.70" y1="219.82" x2="398.30" y2="219.82" stroke="#f02020" stroke-width="1.2"/>
</g>
<g stroke="#f02020" stroke-width="1.15" opacity="0.9">
<line x1="402.50" y1="195.41" x2="402.50" y2="221.08" stroke="#f02020" stroke-width="1.15"/>
<line x1="400.70" y1="195.41" x2="404.30" y2="195.41" stroke="#f02020" stroke-width="1.2"/>
<line x1="400.70" y1="221.08" x2="404.30" y2="221.08" stroke="#f02020" stroke-width="1.2"/>
</g>
<g stroke="#f02020" stroke-width="1.15" opacity="0.9">
<line x1="408.50" y1="195.41" x2="408.50" y2="223.18" stroke="#f02020" stroke-width="1.15"/>
<line x1="406.70" y1="195.41" x2="410.30" y2="195.41" stroke="#f02020" stroke-width="1.2"/>
<line x1="406.70" y1="223.18" x2="410.30" y2="223.18" stroke="#f02020" stroke-width="1.2"/>
</g>
<g stroke="#f02020" stroke-width="1.15" opacity="0.9">
<line x1="414.50" y1="197.30" x2="414.50" y2="222.55" stroke="#f02020" stroke-width="1.15"/>
<line x1="412.70" y1="197.30" x2="416.30" y2="197.30" stroke="#f02020" stroke-width="1.2"/>
<line x1="412.70" y1="222.55" x2="416.30" y2="222.55" stroke="#f02020" stroke-width="1.2"/>
</g>
<g stroke="#f02020" stroke-width="1.15" opacity="0.9">
<line x1="426.50" y1="197.30" x2="426.50" y2="223.39" stroke="#f02020" stroke-width="1.15"/>
<line x1="424.70" y1="197.30" x2="428.30" y2="197.30" stroke="#f02020" stroke-width="1.2"/>
<line x1="424.70" y1="223.39" x2="428.30" y2="223.39" stroke="#f02020" stroke-width="1.2"/>
</g>
<g stroke="#f02020" stroke-width="1.15" opacity="0.9">
<line x1="429.50" y1="191.41" x2="429.50" y2="211.61" stroke="#f02020" stroke-width="1.15"/>
<line x1="427.70" y1="191.41" x2="431.30" y2="191.41" stroke="#f02020" stroke-width="1.2"/>
<line x1="427.70" y1="211.61" x2="431.30" y2="211.61" stroke="#f02020" stroke-width="1.2"/>
</g>
<g stroke="#f02020" stroke-width="1.15" opacity="0.9">
<line x1="436.50" y1="187.21" x2="436.50" y2="207.40" stroke="#f02020" stroke-width="1.15"/>
<line x1="434.70" y1="187.21" x2="438.30" y2="187.21" stroke="#f02020" stroke-width="1.2"/>
<line x1="434.70" y1="207.40" x2="438.30" y2="207.40" stroke="#f02020" stroke-width="1.2"/>
</g>
<g stroke="#f02020" stroke-width="1.15" opacity="0.9">
<line x1="441.50" y1="185.52" x2="441.50" y2="210.77" stroke="#f02020" stroke-width="1.15"/>
<line x1="439.70" y1="185.52" x2="443.30" y2="185.52" stroke="#f02020" stroke-width="1.2"/>
<line x1="439.70" y1="210.77" x2="443.30" y2="210.77" stroke="#f02020" stroke-width="1.2"/>
</g>
<g stroke="#f02020" stroke-width="1.15" opacity="0.9">
<line x1="446.50" y1="185.10" x2="446.50" y2="209.09" stroke="#f02020" stroke-width="1.15"/>
<line x1="444.70" y1="185.10" x2="448.30" y2="185.10" stroke="#f02020" stroke-width="1.2"/>
<line x1="444.70" y1="209.09" x2="448.30" y2="209.09" stroke="#f02020" stroke-width="1.2"/>
</g>
<g stroke="#f02020" stroke-width="1.15" opacity="0.9">
<line x1="467.50" y1="186.15" x2="467.50" y2="211.40" stroke="#f02020" stroke-width="1.15"/>
<line x1="465.70" y1="186.15" x2="469.30" y2="186.15" stroke="#f02020" stroke-width="1.2"/>
<line x1="465.70" y1="211.40" x2="469.30" y2="211.40" stroke="#f02020" stroke-width="1.2"/>
</g>
<g stroke="#f02020" stroke-width="1.15" opacity="0.9">
<line x1="488.50" y1="185.10" x2="488.50" y2="217.50" stroke="#f02020" stroke-width="1.15"/>
<line x1="486.70" y1="185.10" x2="490.30" y2="185.10" stroke="#f02020" stroke-width="1.2"/>
<line x1="486.70" y1="217.50" x2="490.30" y2="217.50" stroke="#f02020" stroke-width="1.2"/>
</g>
<g stroke="#f02020" stroke-width="1.15" opacity="0.9">
<line x1="509.50" y1="185.10" x2="509.50" y2="217.92" stroke="#f02020" stroke-width="1.15"/>
<line x1="507.70" y1="185.10" x2="511.30" y2="185.10" stroke="#f02020" stroke-width="1.2"/>
<line x1="507.70" y1="217.92" x2="511.30" y2="217.92" stroke="#f02020" stroke-width="1.2"/>
</g>
<g stroke="#0000d0" stroke-width="1.15" opacity="1.0">
<line x1="379.50" y1="195.62" x2="379.50" y2="229.29" stroke="#0000d0" stroke-width="1.15"/>
<line x1="377.70" y1="195.62" x2="381.30" y2="195.62" stroke="#0000d0" stroke-width="1.2"/>
<line x1="377.70" y1="229.29" x2="381.30" y2="229.29" stroke="#0000d0" stroke-width="1.2"/>
</g>
<g stroke="#0000d0" stroke-width="1.15" opacity="1.0">
<line x1="385.50" y1="193.10" x2="385.50" y2="222.55" stroke="#0000d0" stroke-width="1.15"/>
<line x1="383.70" y1="193.10" x2="387.30" y2="193.10" stroke="#0000d0" stroke-width="1.2"/>
<line x1="383.70" y1="222.55" x2="387.30" y2="222.55" stroke="#0000d0" stroke-width="1.2"/>
</g>
<g stroke="#0000d0" stroke-width="1.15" opacity="1.0">
<line x1="391.50" y1="198.36" x2="391.50" y2="236.23" stroke="#0000d0" stroke-width="1.15"/>
<line x1="389.70" y1="198.36" x2="393.30" y2="198.36" stroke="#0000d0" stroke-width="1.2"/>
<line x1="389.70" y1="236.23" x2="393.30" y2="236.23" stroke="#0000d0" stroke-width="1.2"/>
</g>
<g stroke="#0000d0" stroke-width="1.15" opacity="1.0">
<line x1="397.50" y1="198.78" x2="397.50" y2="236.65" stroke="#0000d0" stroke-width="1.15"/>
<line x1="395.70" y1="198.78" x2="399.30" y2="198.78" stroke="#0000d0" stroke-width="1.2"/>
<line x1="395.70" y1="236.65" x2="399.30" y2="236.65" stroke="#0000d0" stroke-width="1.2"/>
</g>
<g stroke="#0000d0" stroke-width="1.15" opacity="1.0">
<line x1="403.50" y1="202.99" x2="403.50" y2="240.86" stroke="#0000d0" stroke-width="1.15"/>
<line x1="401.70" y1="202.99" x2="405.30" y2="202.99" stroke="#0000d0" stroke-width="1.2"/>
<line x1="401.70" y1="240.86" x2="405.30" y2="240.86" stroke="#0000d0" stroke-width="1.2"/>
</g>
<g stroke="#0000d0" stroke-width="1.15" opacity="1.0">
<line x1="409.50" y1="207.19" x2="409.50" y2="242.96" stroke="#0000d0" stroke-width="1.15"/>
<line x1="407.70" y1="207.19" x2="411.30" y2="207.19" stroke="#0000d0" stroke-width="1.2"/>
<line x1="407.70" y1="242.96" x2="411.30" y2="242.96" stroke="#0000d0" stroke-width="1.2"/>
</g>
<g stroke="#0000d0" stroke-width="1.15" opacity="1.0">
<line x1="415.50" y1="211.40" x2="415.50" y2="242.96" stroke="#0000d0" stroke-width="1.15"/>
<line x1="413.70" y1="211.40" x2="417.30" y2="211.40" stroke="#0000d0" stroke-width="1.2"/>
<line x1="413.70" y1="242.96" x2="417.30" y2="242.96" stroke="#0000d0" stroke-width="1.2"/>
</g>
<g stroke="#0000d0" stroke-width="1.15" opacity="1.0">
<line x1="427.50" y1="211.40" x2="427.50" y2="242.96" stroke="#0000d0" stroke-width="1.15"/>
<line x1="425.70" y1="211.40" x2="429.30" y2="211.40" stroke="#0000d0" stroke-width="1.2"/>
<line x1="425.70" y1="242.96" x2="429.30" y2="242.96" stroke="#0000d0" stroke-width="1.2"/>
</g>
<g stroke="#0000d0" stroke-width="1.15" opacity="1.0">
<line x1="429.50" y1="198.78" x2="429.50" y2="232.44" stroke="#0000d0" stroke-width="1.15"/>
<line x1="427.70" y1="198.78" x2="431.30" y2="198.78" stroke="#0000d0" stroke-width="1.2"/>
<line x1="427.70" y1="232.44" x2="431.30" y2="232.44" stroke="#0000d0" stroke-width="1.2"/>
</g>
<g stroke="#0000d0" stroke-width="1.15" opacity="1.0">
<line x1="436.50" y1="195.62" x2="436.50" y2="233.49" stroke="#0000d0" stroke-width="1.15"/>
<line x1="434.70" y1="195.62" x2="438.30" y2="195.62" stroke="#0000d0" stroke-width="1.2"/>
<line x1="434.70" y1="233.49" x2="438.30" y2="233.49" stroke="#0000d0" stroke-width="1.2"/>
</g>
<g stroke="#0000d0" stroke-width="1.15" opacity="1.0">
<line x1="441.50" y1="193.52" x2="441.50" y2="231.39" stroke="#0000d0" stroke-width="1.15"/>
<line x1="439.70" y1="193.52" x2="443.30" y2="193.52" stroke="#0000d0" stroke-width="1.2"/>
<line x1="439.70" y1="231.39" x2="443.30" y2="231.39" stroke="#0000d0" stroke-width="1.2"/>
</g>
<g stroke="#0000d0" stroke-width="1.15" opacity="1.0">
<line x1="447.50" y1="192.47" x2="447.50" y2="230.34" stroke="#0000d0" stroke-width="1.15"/>
<line x1="445.70" y1="192.47" x2="449.30" y2="192.47" stroke="#0000d0" stroke-width="1.2"/>
<line x1="445.70" y1="230.34" x2="449.30" y2="230.34" stroke="#0000d0" stroke-width="1.2"/>
</g>
<g stroke="#0000d0" stroke-width="1.15" opacity="1.0">
<line x1="468.50" y1="186.15" x2="468.50" y2="226.97" stroke="#0000d0" stroke-width="1.15"/>
<line x1="466.70" y1="186.15" x2="470.30" y2="186.15" stroke="#0000d0" stroke-width="1.2"/>
<line x1="466.70" y1="226.97" x2="470.30" y2="226.97" stroke="#0000d0" stroke-width="1.2"/>
</g>
<g stroke="#0000d0" stroke-width="1.15" opacity="1.0">
<line x1="488.50" y1="191.41" x2="488.50" y2="228.44" stroke="#0000d0" stroke-width="1.15"/>
<line x1="486.70" y1="191.41" x2="490.30" y2="191.41" stroke="#0000d0" stroke-width="1.2"/>
<line x1="486.70" y1="228.44" x2="490.30" y2="228.44" stroke="#0000d0" stroke-width="1.2"/>
</g>
<g stroke="#0000d0" stroke-width="1.15" opacity="1.0">
<line x1="509.50" y1="190.36" x2="509.50" y2="234.55" stroke="#0000d0" stroke-width="1.15"/>
<line x1="507.70" y1="190.36" x2="511.30" y2="190.36" stroke="#0000d0" stroke-width="1.2"/>
<line x1="507.70" y1="234.55" x2="511.30" y2="234.55" stroke="#0000d0" stroke-width="1.2"/>
</g>
<polyline points="378.15,214.56 384.10,219.40 390.05,228.23 396.00,233.49 401.95,236.86 407.90,235.60 413.85,233.49 425.95,232.44 428.46,214.98 435.37,219.40 440.60,231.39 445.83,234.55 466.76,233.49 487.69,235.60 508.62,237.07" fill="none" stroke="#0a7a0a" stroke-width="1.05"/>
<circle cx="378.15" cy="214.56" r="1.85" fill="#0a7a0a"/>
<circle cx="384.10" cy="219.40" r="1.85" fill="#0a7a0a"/>
<circle cx="390.05" cy="228.23" r="1.85" fill="#0a7a0a"/>
<circle cx="396.00" cy="233.49" r="1.85" fill="#0a7a0a"/>
<circle cx="401.95" cy="236.86" r="1.85" fill="#0a7a0a"/>
<circle cx="407.90" cy="235.60" r="1.85" fill="#0a7a0a"/>
<circle cx="413.85" cy="233.49" r="1.85" fill="#0a7a0a"/>
<circle cx="425.95" cy="232.44" r="1.85" fill="#0a7a0a"/>
<circle cx="428.46" cy="214.98" r="1.85" fill="#0a7a0a"/>
<circle cx="435.37" cy="219.40" r="1.85" fill="#0a7a0a"/>
<circle cx="440.60" cy="231.39" r="1.85" fill="#0a7a0a"/>
<circle cx="445.83" cy="234.55" r="1.85" fill="#0a7a0a"/>
<circle cx="466.76" cy="233.49" r="1.85" fill="#0a7a0a"/>
<circle cx="487.69" cy="235.60" r="1.85" fill="#0a7a0a"/>
<circle cx="508.62" cy="237.07" r="1.85" fill="#0a7a0a"/>
<polyline points="378.85,194.57 384.80,197.30 390.75,204.04 396.70,206.14 402.65,208.25 408.60,209.30 414.55,209.93 426.65,210.35 429.16,201.51 436.06,197.30 441.30,198.15 446.53,197.09 467.46,198.78 488.39,201.30 509.32,201.51" fill="none" stroke="#ff0a0a" stroke-width="1.05"/>
<rect x="377.00" y="192.72" width="3.70" height="3.70" fill="#ff0a0a"/>
<rect x="382.95" y="195.45" width="3.70" height="3.70" fill="#ff0a0a"/>
<rect x="388.90" y="202.19" width="3.70" height="3.70" fill="#ff0a0a"/>
<rect x="394.85" y="204.29" width="3.70" height="3.70" fill="#ff0a0a"/>
<rect x="400.80" y="206.40" width="3.70" height="3.70" fill="#ff0a0a"/>
<rect x="406.75" y="207.45" width="3.70" height="3.70" fill="#ff0a0a"/>
<rect x="412.70" y="208.08" width="3.70" height="3.70" fill="#ff0a0a"/>
<rect x="424.80" y="208.50" width="3.70" height="3.70" fill="#ff0a0a"/>
<rect x="427.31" y="199.66" width="3.70" height="3.70" fill="#ff0a0a"/>
<rect x="434.21" y="195.45" width="3.70" height="3.70" fill="#ff0a0a"/>
<rect x="439.45" y="196.30" width="3.70" height="3.70" fill="#ff0a0a"/>
<rect x="444.68" y="195.24" width="3.70" height="3.70" fill="#ff0a0a"/>
<rect x="465.61" y="196.93" width="3.70" height="3.70" fill="#ff0a0a"/>
<rect x="486.54" y="199.45" width="3.70" height="3.70" fill="#ff0a0a"/>
<rect x="507.47" y="199.66" width="3.70" height="3.70" fill="#ff0a0a"/>
<polyline points="379.45,212.45 385.40,207.82 391.35,217.29 397.30,217.71 403.25,221.92 409.20,225.08 415.15,227.18 427.25,227.18 429.76,215.61 436.67,214.56 441.90,212.45 447.13,211.40 468.06,206.56 488.99,209.93 509.92,212.45" fill="none" stroke="#0000d8" stroke-width="1.05"/>
<polygon points="379.45,210.11 377.32,214.18 381.58,214.18" fill="#0000d8"/>
<polygon points="385.40,205.48 383.27,209.55 387.53,209.55" fill="#0000d8"/>
<polygon points="391.35,214.95 389.22,219.02 393.48,219.02" fill="#0000d8"/>
<polygon points="397.30,215.37 395.17,219.44 399.43,219.44" fill="#0000d8"/>
<polygon points="403.25,219.58 401.12,223.65 405.38,223.65" fill="#0000d8"/>
<polygon points="409.20,222.74 407.07,226.81 411.33,226.81" fill="#0000d8"/>
<polygon points="415.15,224.84 413.02,228.91 417.28,228.91" fill="#0000d8"/>
<polygon points="427.25,224.84 425.12,228.91 429.37,228.91" fill="#0000d8"/>
<polygon points="429.76,213.27 427.63,217.34 431.89,217.34" fill="#0000d8"/>
<polygon points="436.67,212.22 434.54,216.29 438.79,216.29" fill="#0000d8"/>
<polygon points="441.90,210.11 439.77,214.18 444.03,214.18" fill="#0000d8"/>
<polygon points="447.13,209.06 445.00,213.13 449.26,213.13" fill="#0000d8"/>
<polygon points="468.06,204.22 465.93,208.29 470.19,208.29" fill="#0000d8"/>
<polygon points="488.99,207.59 486.86,211.66 491.12,211.66" fill="#0000d8"/>
<polygon points="509.92,210.11 507.79,214.18 512.05,214.18" fill="#0000d8"/>
<line x1="371.70" y1="179.00" x2="371.70" y2="284.80" stroke="#000" stroke-width="1.3"/>
<line x1="369.70" y1="273.68" x2="371.70" y2="273.68" stroke="#000" stroke-width="0.9"/>
<line x1="369.70" y1="252.64" x2="371.70" y2="252.64" stroke="#000" stroke-width="0.9"/>
<line x1="369.70" y1="231.60" x2="371.70" y2="231.60" stroke="#000" stroke-width="0.9"/>
<line x1="369.70" y1="210.56" x2="371.70" y2="210.56" stroke="#000" stroke-width="0.9"/>
<line x1="369.70" y1="189.52" x2="371.70" y2="189.52" stroke="#000" stroke-width="0.9"/>
<line x1="368.90" y1="284.20" x2="371.70" y2="284.20" stroke="#000" stroke-width="1.0"/>
<text x="369.00" y="286.61" font-size="6.7" font-weight="bold" text-anchor="end" fill="#000">0</text>
<line x1="368.90" y1="263.16" x2="371.70" y2="263.16" stroke="#000" stroke-width="1.0"/>
<text x="369.00" y="265.57" font-size="6.7" font-weight="bold" text-anchor="end" fill="#000">100</text>
<line x1="368.90" y1="242.12" x2="371.70" y2="242.12" stroke="#000" stroke-width="1.0"/>
<text x="369.00" y="244.53" font-size="6.7" font-weight="bold" text-anchor="end" fill="#000">200</text>
<line x1="368.90" y1="221.08" x2="371.70" y2="221.08" stroke="#000" stroke-width="1.0"/>
<text x="369.00" y="223.49" font-size="6.7" font-weight="bold" text-anchor="end" fill="#000">300</text>
<line x1="368.90" y1="200.04" x2="371.70" y2="200.04" stroke="#000" stroke-width="1.0"/>
<text x="369.00" y="202.45" font-size="6.7" font-weight="bold" text-anchor="end" fill="#000">400</text>
<line x1="368.90" y1="179.00" x2="371.70" y2="179.00" stroke="#000" stroke-width="1.0"/>
<text x="369.00" y="181.41" font-size="6.7" font-weight="bold" text-anchor="end" fill="#000">500</text>
<line x1="371.10" y1="284.20" x2="422.60" y2="284.20" stroke="#000" stroke-width="1.3"/>
<line x1="423.60" y1="284.20" x2="510.20" y2="284.20" stroke="#000" stroke-width="1.3"/>
<line x1="423.60" y1="282.40" x2="423.60" y2="284.80" stroke="#000" stroke-width="1.0"/>
<line x1="378.85" y1="284.20" x2="378.85" y2="286.20" stroke="#000" stroke-width="0.9"/>
<line x1="384.80" y1="284.20" x2="384.80" y2="287.00" stroke="#000" stroke-width="1.0"/>
<text x="384.80" y="293.00" font-size="6.9" font-weight="bold" text-anchor="middle" fill="#000">0</text>
<line x1="390.75" y1="284.20" x2="390.75" y2="286.20" stroke="#000" stroke-width="0.9"/>
<line x1="396.70" y1="284.20" x2="396.70" y2="286.20" stroke="#000" stroke-width="0.9"/>
<line x1="402.65" y1="284.20" x2="402.65" y2="286.20" stroke="#000" stroke-width="0.9"/>
<line x1="408.60" y1="284.20" x2="408.60" y2="287.00" stroke="#000" stroke-width="1.0"/>
<text x="408.60" y="293.00" font-size="6.9" font-weight="bold" text-anchor="middle" fill="#000">1</text>
<line x1="414.55" y1="284.20" x2="414.55" y2="286.20" stroke="#000" stroke-width="0.9"/>
<line x1="420.50" y1="284.20" x2="420.50" y2="286.20" stroke="#000" stroke-width="0.9"/>
<line x1="425.60" y1="284.20" x2="425.60" y2="287.00" stroke="#000" stroke-width="1.0"/>
<text x="425.60" y="293.00" font-size="6.9" font-weight="bold" text-anchor="middle" fill="#000">0</text>
<line x1="430.83" y1="284.20" x2="430.83" y2="286.20" stroke="#000" stroke-width="0.9"/>
<line x1="436.06" y1="284.20" x2="436.06" y2="286.20" stroke="#000" stroke-width="0.9"/>
<line x1="441.30" y1="284.20" x2="441.30" y2="286.20" stroke="#000" stroke-width="0.9"/>
<line x1="446.53" y1="284.20" x2="446.53" y2="287.00" stroke="#000" stroke-width="1.0"/>
<text x="446.53" y="293.00" font-size="6.9" font-weight="bold" text-anchor="middle" fill="#000">1</text>
<line x1="451.76" y1="284.20" x2="451.76" y2="286.20" stroke="#000" stroke-width="0.9"/>
<line x1="457.00" y1="284.20" x2="457.00" y2="286.20" stroke="#000" stroke-width="0.9"/>
<line x1="462.23" y1="284.20" x2="462.23" y2="286.20" stroke="#000" stroke-width="0.9"/>
<line x1="467.46" y1="284.20" x2="467.46" y2="287.00" stroke="#000" stroke-width="1.0"/>
<text x="467.46" y="293.00" font-size="6.9" font-weight="bold" text-anchor="middle" fill="#000">2</text>
<line x1="472.69" y1="284.20" x2="472.69" y2="286.20" stroke="#000" stroke-width="0.9"/>
<line x1="477.93" y1="284.20" x2="477.93" y2="286.20" stroke="#000" stroke-width="0.9"/>
<line x1="483.16" y1="284.20" x2="483.16" y2="286.20" stroke="#000" stroke-width="0.9"/>
<line x1="488.39" y1="284.20" x2="488.39" y2="287.00" stroke="#000" stroke-width="1.0"/>
<text x="488.39" y="293.00" font-size="6.9" font-weight="bold" text-anchor="middle" fill="#000">3</text>
<line x1="493.62" y1="284.20" x2="493.62" y2="286.20" stroke="#000" stroke-width="0.9"/>
<line x1="498.86" y1="284.20" x2="498.86" y2="286.20" stroke="#000" stroke-width="0.9"/>
<line x1="504.09" y1="284.20" x2="504.09" y2="286.20" stroke="#000" stroke-width="0.9"/>
<line x1="509.32" y1="284.20" x2="509.32" y2="287.00" stroke="#000" stroke-width="1.0"/>
<text x="509.32" y="293.00" font-size="6.9" font-weight="bold" text-anchor="middle" fill="#000">4</text>
<text x="397.75" y="301.10" font-size="7.4" font-weight="bold" text-anchor="middle" fill="#000">Haemorrhage</text>
<text x="398.05" y="309.60" font-size="7.5" font-weight="bold" text-anchor="middle" fill="#000">(hours)</text>
<text x="468.60" y="301.10" font-size="7.4" font-weight="bold" text-anchor="middle" fill="#000">Resuscitation</text>
<text x="468.90" y="309.60" font-size="7.5" font-weight="bold" text-anchor="middle" fill="#000">(hours)</text>
<text x="356.60" y="227.60" font-size="8.0" font-weight="bold" text-anchor="middle" transform="rotate(-90 356.60 227.60)">PaO<tspan font-size="5" dy="1.8">2</tspan><tspan dy="-1.8">/FiO</tspan><tspan font-size="5" dy="1.8">2</tspan><tspan dy="-1.8"> ratio</tspan></text>
<line x1="390.90" y1="266.00" x2="390.90" y2="263.80" stroke="#3a9a3a" stroke-width="1.0"/>
<line x1="390.90" y1="266.00" x2="392.99" y2="265.32" stroke="#3a9a3a" stroke-width="1.0"/>
<line x1="390.90" y1="266.00" x2="392.19" y2="267.78" stroke="#3a9a3a" stroke-width="1.0"/>
<line x1="390.90" y1="266.00" x2="389.61" y2="267.78" stroke="#3a9a3a" stroke-width="1.0"/>
<line x1="390.90" y1="266.00" x2="388.81" y2="265.32" stroke="#3a9a3a" stroke-width="1.0"/>
<line x1="403.30" y1="266.00" x2="403.30" y2="263.80" stroke="#3a9a3a" stroke-width="1.0"/>
<line x1="403.30" y1="266.00" x2="405.39" y2="265.32" stroke="#3a9a3a" stroke-width="1.0"/>
<line x1="403.30" y1="266.00" x2="404.59" y2="267.78" stroke="#3a9a3a" stroke-width="1.0"/>
<line x1="403.30" y1="266.00" x2="402.01" y2="267.78" stroke="#3a9a3a" stroke-width="1.0"/>
<line x1="403.30" y1="266.00" x2="401.21" y2="265.32" stroke="#3a9a3a" stroke-width="1.0"/>
<line x1="426.10" y1="266.00" x2="426.10" y2="263.80" stroke="#3a9a3a" stroke-width="1.0"/>
<line x1="426.10" y1="266.00" x2="428.19" y2="265.32" stroke="#3a9a3a" stroke-width="1.0"/>
<line x1="426.10" y1="266.00" x2="427.39" y2="267.78" stroke="#3a9a3a" stroke-width="1.0"/>
<line x1="426.10" y1="266.00" x2="424.81" y2="267.78" stroke="#3a9a3a" stroke-width="1.0"/>
<line x1="426.10" y1="266.00" x2="424.01" y2="265.32" stroke="#3a9a3a" stroke-width="1.0"/>
<line x1="446.20" y1="266.00" x2="446.20" y2="263.80" stroke="#3a9a3a" stroke-width="1.0"/>
<line x1="446.20" y1="266.00" x2="448.29" y2="265.32" stroke="#3a9a3a" stroke-width="1.0"/>
<line x1="446.20" y1="266.00" x2="447.49" y2="267.78" stroke="#3a9a3a" stroke-width="1.0"/>
<line x1="446.20" y1="266.00" x2="444.91" y2="267.78" stroke="#3a9a3a" stroke-width="1.0"/>
<line x1="446.20" y1="266.00" x2="444.11" y2="265.32" stroke="#3a9a3a" stroke-width="1.0"/>
<line x1="446.20" y1="270.30" x2="446.20" y2="268.10" stroke="#3a9a3a" stroke-width="1.0"/>
<line x1="446.20" y1="270.30" x2="448.29" y2="269.62" stroke="#3a9a3a" stroke-width="1.0"/>
<line x1="446.20" y1="270.30" x2="447.49" y2="272.08" stroke="#3a9a3a" stroke-width="1.0"/>
<line x1="446.20" y1="270.30" x2="444.91" y2="272.08" stroke="#3a9a3a" stroke-width="1.0"/>
<line x1="446.20" y1="270.30" x2="444.11" y2="269.62" stroke="#3a9a3a" stroke-width="1.0"/>
<line x1="468.30" y1="266.00" x2="468.30" y2="263.80" stroke="#3a9a3a" stroke-width="1.0"/>
<line x1="468.30" y1="266.00" x2="470.39" y2="265.32" stroke="#3a9a3a" stroke-width="1.0"/>
<line x1="468.30" y1="266.00" x2="469.59" y2="267.78" stroke="#3a9a3a" stroke-width="1.0"/>
<line x1="468.30" y1="266.00" x2="467.01" y2="267.78" stroke="#3a9a3a" stroke-width="1.0"/>
<line x1="468.30" y1="266.00" x2="466.21" y2="265.32" stroke="#3a9a3a" stroke-width="1.0"/>
<line x1="508.80" y1="266.00" x2="508.80" y2="263.80" stroke="#3a9a3a" stroke-width="1.0"/>
<line x1="508.80" y1="266.00" x2="510.89" y2="265.32" stroke="#3a9a3a" stroke-width="1.0"/>
<line x1="508.80" y1="266.00" x2="510.09" y2="267.78" stroke="#3a9a3a" stroke-width="1.0"/>
<line x1="508.80" y1="266.00" x2="507.51" y2="267.78" stroke="#3a9a3a" stroke-width="1.0"/>
<line x1="508.80" y1="266.00" x2="506.71" y2="265.32" stroke="#3a9a3a" stroke-width="1.0"/>
<text x="523.80" y="173.10" font-size="15.3" font-weight="bold" text-anchor="start" fill="#000">H</text>
<rect x="544.40" y="232.79" width="138.10" height="51.41" fill="#d6d6d6"/>
<g stroke="#3f9a3f" stroke-width="1.15" opacity="0.9">
<line x1="550.50" y1="210.56" x2="550.50" y2="237.21" stroke="#3f9a3f" stroke-width="1.15"/>
<line x1="548.70" y1="210.56" x2="552.30" y2="210.56" stroke="#3f9a3f" stroke-width="1.2"/>
<line x1="548.70" y1="237.21" x2="552.30" y2="237.21" stroke="#3f9a3f" stroke-width="1.2"/>
</g>
<g stroke="#3f9a3f" stroke-width="1.15" opacity="0.9">
<line x1="556.50" y1="200.04" x2="556.50" y2="216.87" stroke="#3f9a3f" stroke-width="1.15"/>
<line x1="554.70" y1="200.04" x2="558.30" y2="200.04" stroke="#3f9a3f" stroke-width="1.2"/>
<line x1="554.70" y1="216.87" x2="558.30" y2="216.87" stroke="#3f9a3f" stroke-width="1.2"/>
</g>
<g stroke="#3f9a3f" stroke-width="1.15" opacity="0.9">
<line x1="561.50" y1="207.40" x2="561.50" y2="229.85" stroke="#3f9a3f" stroke-width="1.15"/>
<line x1="559.70" y1="207.40" x2="563.30" y2="207.40" stroke="#3f9a3f" stroke-width="1.2"/>
<line x1="559.70" y1="229.85" x2="563.30" y2="229.85" stroke="#3f9a3f" stroke-width="1.2"/>
</g>
<g stroke="#3f9a3f" stroke-width="1.15" opacity="0.9">
<line x1="567.50" y1="215.47" x2="567.50" y2="232.30" stroke="#3f9a3f" stroke-width="1.15"/>
<line x1="565.70" y1="215.47" x2="569.30" y2="215.47" stroke="#3f9a3f" stroke-width="1.2"/>
<line x1="565.70" y1="232.30" x2="569.30" y2="232.30" stroke="#3f9a3f" stroke-width="1.2"/>
</g>
<g stroke="#3f9a3f" stroke-width="1.15" opacity="0.9">
<line x1="573.50" y1="215.82" x2="573.50" y2="234.05" stroke="#3f9a3f" stroke-width="1.15"/>
<line x1="571.70" y1="215.82" x2="575.30" y2="215.82" stroke="#3f9a3f" stroke-width="1.2"/>
<line x1="571.70" y1="234.05" x2="575.30" y2="234.05" stroke="#3f9a3f" stroke-width="1.2"/>
</g>
<g stroke="#3f9a3f" stroke-width="1.15" opacity="0.9">
<line x1="579.50" y1="217.57" x2="579.50" y2="234.41" stroke="#3f9a3f" stroke-width="1.15"/>
<line x1="577.70" y1="217.57" x2="581.30" y2="217.57" stroke="#3f9a3f" stroke-width="1.2"/>
<line x1="577.70" y1="234.41" x2="581.30" y2="234.41" stroke="#3f9a3f" stroke-width="1.2"/>
</g>
<g stroke="#3f9a3f" stroke-width="1.15" opacity="0.9">
<line x1="585.50" y1="217.57" x2="585.50" y2="234.41" stroke="#3f9a3f" stroke-width="1.15"/>
<line x1="583.70" y1="217.57" x2="587.30" y2="217.57" stroke="#3f9a3f" stroke-width="1.2"/>
<line x1="583.70" y1="234.41" x2="587.30" y2="234.41" stroke="#3f9a3f" stroke-width="1.2"/>
</g>
<g stroke="#3f9a3f" stroke-width="1.15" opacity="0.9">
<line x1="597.50" y1="217.99" x2="597.50" y2="234.83" stroke="#3f9a3f" stroke-width="1.15"/>
<line x1="595.70" y1="217.99" x2="599.30" y2="217.99" stroke="#3f9a3f" stroke-width="1.2"/>
<line x1="595.70" y1="234.83" x2="599.30" y2="234.83" stroke="#3f9a3f" stroke-width="1.2"/>
</g>
<g stroke="#3f9a3f" stroke-width="1.15" opacity="0.9">
<line x1="600.50" y1="229.64" x2="600.50" y2="243.66" stroke="#3f9a3f" stroke-width="1.15"/>
<line x1="598.70" y1="229.64" x2="602.30" y2="229.64" stroke="#3f9a3f" stroke-width="1.2"/>
<line x1="598.70" y1="243.66" x2="602.30" y2="243.66" stroke="#3f9a3f" stroke-width="1.2"/>
</g>
<g stroke="#3f9a3f" stroke-width="1.15" opacity="0.9">
<line x1="607.50" y1="233.00" x2="607.50" y2="247.03" stroke="#3f9a3f" stroke-width="1.15"/>
<line x1="605.70" y1="233.00" x2="609.30" y2="233.00" stroke="#3f9a3f" stroke-width="1.2"/>
<line x1="605.70" y1="247.03" x2="609.30" y2="247.03" stroke="#3f9a3f" stroke-width="1.2"/>
</g>
<g stroke="#3f9a3f" stroke-width="1.15" opacity="0.9">
<line x1="612.50" y1="233.00" x2="612.50" y2="247.03" stroke="#3f9a3f" stroke-width="1.15"/>
<line x1="610.70" y1="233.00" x2="614.30" y2="233.00" stroke="#3f9a3f" stroke-width="1.2"/>
<line x1="610.70" y1="247.03" x2="614.30" y2="247.03" stroke="#3f9a3f" stroke-width="1.2"/>
</g>
<g stroke="#3f9a3f" stroke-width="1.15" opacity="0.9">
<line x1="617.50" y1="231.60" x2="617.50" y2="245.63" stroke="#3f9a3f" stroke-width="1.15"/>
<line x1="615.70" y1="231.60" x2="619.30" y2="231.60" stroke="#3f9a3f" stroke-width="1.2"/>
<line x1="615.70" y1="245.63" x2="619.30" y2="245.63" stroke="#3f9a3f" stroke-width="1.2"/>
</g>
<g stroke="#3f9a3f" stroke-width="1.15" opacity="0.9">
<line x1="638.50" y1="233.70" x2="638.50" y2="246.33" stroke="#3f9a3f" stroke-width="1.15"/>
<line x1="636.70" y1="233.70" x2="640.30" y2="233.70" stroke="#3f9a3f" stroke-width="1.2"/>
<line x1="636.70" y1="246.33" x2="640.30" y2="246.33" stroke="#3f9a3f" stroke-width="1.2"/>
</g>
<g stroke="#3f9a3f" stroke-width="1.15" opacity="0.9">
<line x1="659.50" y1="233.70" x2="659.50" y2="246.33" stroke="#3f9a3f" stroke-width="1.15"/>
<line x1="657.70" y1="233.70" x2="661.30" y2="233.70" stroke="#3f9a3f" stroke-width="1.2"/>
<line x1="657.70" y1="246.33" x2="661.30" y2="246.33" stroke="#3f9a3f" stroke-width="1.2"/>
</g>
<g stroke="#3f9a3f" stroke-width="1.15" opacity="0.9">
<line x1="681.50" y1="234.27" x2="681.50" y2="246.89" stroke="#3f9a3f" stroke-width="1.15"/>
<line x1="679.70" y1="234.27" x2="683.30" y2="234.27" stroke="#3f9a3f" stroke-width="1.2"/>
<line x1="679.70" y1="246.89" x2="683.30" y2="246.89" stroke="#3f9a3f" stroke-width="1.2"/>
</g>
<g stroke="#f02020" stroke-width="1.15" opacity="0.9">
<line x1="550.50" y1="207.97" x2="550.50" y2="224.80" stroke="#f02020" stroke-width="1.15"/>
<line x1="548.70" y1="207.97" x2="552.30" y2="207.97" stroke="#f02020" stroke-width="1.2"/>
<line x1="548.70" y1="224.80" x2="552.30" y2="224.80" stroke="#f02020" stroke-width="1.2"/>
</g>
<g stroke="#f02020" stroke-width="1.15" opacity="0.9">
<line x1="556.50" y1="185.59" x2="556.50" y2="206.63" stroke="#f02020" stroke-width="1.15"/>
<line x1="554.70" y1="185.59" x2="558.30" y2="185.59" stroke="#f02020" stroke-width="1.2"/>
<line x1="554.70" y1="206.63" x2="558.30" y2="206.63" stroke="#f02020" stroke-width="1.2"/>
</g>
<g stroke="#f02020" stroke-width="1.15" opacity="0.9">
<line x1="562.50" y1="198.22" x2="562.50" y2="217.85" stroke="#f02020" stroke-width="1.15"/>
<line x1="560.70" y1="198.22" x2="564.30" y2="198.22" stroke="#f02020" stroke-width="1.2"/>
<line x1="560.70" y1="217.85" x2="564.30" y2="217.85" stroke="#f02020" stroke-width="1.2"/>
</g>
<g stroke="#f02020" stroke-width="1.15" opacity="0.9">
<line x1="568.50" y1="202.56" x2="568.50" y2="223.60" stroke="#f02020" stroke-width="1.15"/>
<line x1="566.70" y1="202.56" x2="570.30" y2="202.56" stroke="#f02020" stroke-width="1.2"/>
<line x1="566.70" y1="223.60" x2="570.30" y2="223.60" stroke="#f02020" stroke-width="1.2"/>
</g>
<g stroke="#f02020" stroke-width="1.15" opacity="0.9">
<line x1="574.50" y1="204.04" x2="574.50" y2="225.08" stroke="#f02020" stroke-width="1.15"/>
<line x1="572.70" y1="204.04" x2="576.30" y2="204.04" stroke="#f02020" stroke-width="1.2"/>
<line x1="572.70" y1="225.08" x2="576.30" y2="225.08" stroke="#f02020" stroke-width="1.2"/>
</g>
<g stroke="#f02020" stroke-width="1.15" opacity="0.9">
<line x1="580.50" y1="204.04" x2="580.50" y2="225.08" stroke="#f02020" stroke-width="1.15"/>
<line x1="578.70" y1="204.04" x2="582.30" y2="204.04" stroke="#f02020" stroke-width="1.2"/>
<line x1="578.70" y1="225.08" x2="582.30" y2="225.08" stroke="#f02020" stroke-width="1.2"/>
</g>
<g stroke="#f02020" stroke-width="1.15" opacity="0.9">
<line x1="586.50" y1="200.81" x2="586.50" y2="226.06" stroke="#f02020" stroke-width="1.15"/>
<line x1="584.70" y1="200.81" x2="588.30" y2="200.81" stroke="#f02020" stroke-width="1.2"/>
<line x1="584.70" y1="226.06" x2="588.30" y2="226.06" stroke="#f02020" stroke-width="1.2"/>
</g>
<g stroke="#f02020" stroke-width="1.15" opacity="0.9">
<line x1="598.50" y1="201.51" x2="598.50" y2="226.76" stroke="#f02020" stroke-width="1.15"/>
<line x1="596.70" y1="201.51" x2="600.30" y2="201.51" stroke="#f02020" stroke-width="1.2"/>
<line x1="596.70" y1="226.76" x2="600.30" y2="226.76" stroke="#f02020" stroke-width="1.2"/>
</g>
<g stroke="#f02020" stroke-width="1.15" opacity="0.9">
<line x1="601.50" y1="198.15" x2="601.50" y2="223.39" stroke="#f02020" stroke-width="1.15"/>
<line x1="599.70" y1="198.15" x2="603.30" y2="198.15" stroke="#f02020" stroke-width="1.2"/>
<line x1="599.70" y1="223.39" x2="603.30" y2="223.39" stroke="#f02020" stroke-width="1.2"/>
</g>
<g stroke="#f02020" stroke-width="1.15" opacity="0.9">
<line x1="608.50" y1="199.13" x2="608.50" y2="218.77" stroke="#f02020" stroke-width="1.15"/>
<line x1="606.70" y1="199.13" x2="610.30" y2="199.13" stroke="#f02020" stroke-width="1.2"/>
<line x1="606.70" y1="218.77" x2="610.30" y2="218.77" stroke="#f02020" stroke-width="1.2"/>
</g>
<g stroke="#f02020" stroke-width="1.15" opacity="0.9">
<line x1="613.50" y1="199.34" x2="613.50" y2="218.98" stroke="#f02020" stroke-width="1.15"/>
<line x1="611.70" y1="199.34" x2="615.30" y2="199.34" stroke="#f02020" stroke-width="1.2"/>
<line x1="611.70" y1="218.98" x2="615.30" y2="218.98" stroke="#f02020" stroke-width="1.2"/>
</g>
<g stroke="#f02020" stroke-width="1.15" opacity="0.9">
<line x1="618.50" y1="200.53" x2="618.50" y2="218.77" stroke="#f02020" stroke-width="1.15"/>
<line x1="616.70" y1="200.53" x2="620.30" y2="200.53" stroke="#f02020" stroke-width="1.2"/>
<line x1="616.70" y1="218.77" x2="620.30" y2="218.77" stroke="#f02020" stroke-width="1.2"/>
</g>
<g stroke="#f02020" stroke-width="1.15" opacity="0.9">
<line x1="639.50" y1="205.44" x2="639.50" y2="223.67" stroke="#f02020" stroke-width="1.15"/>
<line x1="637.70" y1="205.44" x2="641.30" y2="205.44" stroke="#f02020" stroke-width="1.2"/>
<line x1="637.70" y1="223.67" x2="641.30" y2="223.67" stroke="#f02020" stroke-width="1.2"/>
</g>
<g stroke="#f02020" stroke-width="1.15" opacity="0.9">
<line x1="660.50" y1="210.98" x2="660.50" y2="225.01" stroke="#f02020" stroke-width="1.15"/>
<line x1="658.70" y1="210.98" x2="662.30" y2="210.98" stroke="#f02020" stroke-width="1.2"/>
<line x1="658.70" y1="225.01" x2="662.30" y2="225.01" stroke="#f02020" stroke-width="1.2"/>
</g>
<g stroke="#f02020" stroke-width="1.15" opacity="0.9">
<line x1="681.50" y1="215.05" x2="681.50" y2="229.08" stroke="#f02020" stroke-width="1.15"/>
<line x1="679.70" y1="215.05" x2="683.30" y2="215.05" stroke="#f02020" stroke-width="1.2"/>
<line x1="679.70" y1="229.08" x2="683.30" y2="229.08" stroke="#f02020" stroke-width="1.2"/>
</g>
<g stroke="#0000d0" stroke-width="1.15" opacity="1.0">
<line x1="551.50" y1="208.46" x2="551.50" y2="222.48" stroke="#0000d0" stroke-width="1.15"/>
<line x1="549.70" y1="208.46" x2="553.30" y2="208.46" stroke="#0000d0" stroke-width="1.2"/>
<line x1="549.70" y1="222.48" x2="553.30" y2="222.48" stroke="#0000d0" stroke-width="1.2"/>
</g>
<g stroke="#0000d0" stroke-width="1.15" opacity="1.0">
<line x1="557.50" y1="188.12" x2="557.50" y2="210.56" stroke="#0000d0" stroke-width="1.15"/>
<line x1="555.70" y1="188.12" x2="559.30" y2="188.12" stroke="#0000d0" stroke-width="1.2"/>
<line x1="555.70" y1="210.56" x2="559.30" y2="210.56" stroke="#0000d0" stroke-width="1.2"/>
</g>
<g stroke="#0000d0" stroke-width="1.15" opacity="1.0">
<line x1="563.50" y1="206.42" x2="563.50" y2="223.25" stroke="#0000d0" stroke-width="1.15"/>
<line x1="561.70" y1="206.42" x2="565.30" y2="206.42" stroke="#0000d0" stroke-width="1.2"/>
<line x1="561.70" y1="223.25" x2="565.30" y2="223.25" stroke="#0000d0" stroke-width="1.2"/>
</g>
<g stroke="#0000d0" stroke-width="1.15" opacity="1.0">
<line x1="569.50" y1="212.80" x2="569.50" y2="226.83" stroke="#0000d0" stroke-width="1.15"/>
<line x1="567.70" y1="212.80" x2="571.30" y2="212.80" stroke="#0000d0" stroke-width="1.2"/>
<line x1="567.70" y1="226.83" x2="571.30" y2="226.83" stroke="#0000d0" stroke-width="1.2"/>
</g>
<g stroke="#0000d0" stroke-width="1.15" opacity="1.0">
<line x1="575.50" y1="208.81" x2="575.50" y2="229.85" stroke="#0000d0" stroke-width="1.15"/>
<line x1="573.70" y1="208.81" x2="577.30" y2="208.81" stroke="#0000d0" stroke-width="1.2"/>
<line x1="573.70" y1="229.85" x2="577.30" y2="229.85" stroke="#0000d0" stroke-width="1.2"/>
</g>
<g stroke="#0000d0" stroke-width="1.15" opacity="1.0">
<line x1="581.50" y1="208.18" x2="581.50" y2="229.22" stroke="#0000d0" stroke-width="1.15"/>
<line x1="579.70" y1="208.18" x2="583.30" y2="208.18" stroke="#0000d0" stroke-width="1.2"/>
<line x1="579.70" y1="229.22" x2="583.30" y2="229.22" stroke="#0000d0" stroke-width="1.2"/>
</g>
<g stroke="#0000d0" stroke-width="1.15" opacity="1.0">
<line x1="587.50" y1="210.28" x2="587.50" y2="227.11" stroke="#0000d0" stroke-width="1.15"/>
<line x1="585.70" y1="210.28" x2="589.30" y2="210.28" stroke="#0000d0" stroke-width="1.2"/>
<line x1="585.70" y1="227.11" x2="589.30" y2="227.11" stroke="#0000d0" stroke-width="1.2"/>
</g>
<g stroke="#0000d0" stroke-width="1.15" opacity="1.0">
<line x1="599.50" y1="210.00" x2="599.50" y2="231.04" stroke="#0000d0" stroke-width="1.15"/>
<line x1="597.70" y1="210.00" x2="601.30" y2="210.00" stroke="#0000d0" stroke-width="1.2"/>
<line x1="597.70" y1="231.04" x2="601.30" y2="231.04" stroke="#0000d0" stroke-width="1.2"/>
</g>
<g stroke="#0000d0" stroke-width="1.15" opacity="1.0">
<line x1="601.50" y1="226.90" x2="601.50" y2="246.54" stroke="#0000d0" stroke-width="1.15"/>
<line x1="599.70" y1="226.90" x2="603.30" y2="226.90" stroke="#0000d0" stroke-width="1.2"/>
<line x1="599.70" y1="246.54" x2="603.30" y2="246.54" stroke="#0000d0" stroke-width="1.2"/>
</g>
<g stroke="#0000d0" stroke-width="1.15" opacity="1.0">
<line x1="608.50" y1="229.85" x2="608.50" y2="249.48" stroke="#0000d0" stroke-width="1.15"/>
<line x1="606.70" y1="229.85" x2="610.30" y2="229.85" stroke="#0000d0" stroke-width="1.2"/>
<line x1="606.70" y1="249.48" x2="610.30" y2="249.48" stroke="#0000d0" stroke-width="1.2"/>
</g>
<g stroke="#0000d0" stroke-width="1.15" opacity="1.0">
<line x1="613.50" y1="231.32" x2="613.50" y2="250.96" stroke="#0000d0" stroke-width="1.15"/>
<line x1="611.70" y1="231.32" x2="615.30" y2="231.32" stroke="#0000d0" stroke-width="1.2"/>
<line x1="611.70" y1="250.96" x2="615.30" y2="250.96" stroke="#0000d0" stroke-width="1.2"/>
</g>
<g stroke="#0000d0" stroke-width="1.15" opacity="1.0">
<line x1="619.50" y1="233.98" x2="619.50" y2="250.82" stroke="#0000d0" stroke-width="1.15"/>
<line x1="617.70" y1="233.98" x2="621.30" y2="233.98" stroke="#0000d0" stroke-width="1.2"/>
<line x1="617.70" y1="250.82" x2="621.30" y2="250.82" stroke="#0000d0" stroke-width="1.2"/>
</g>
<g stroke="#0000d0" stroke-width="1.15" opacity="1.0">
<line x1="640.50" y1="235.95" x2="640.50" y2="249.97" stroke="#0000d0" stroke-width="1.15"/>
<line x1="638.70" y1="235.95" x2="642.30" y2="235.95" stroke="#0000d0" stroke-width="1.2"/>
<line x1="638.70" y1="249.97" x2="642.30" y2="249.97" stroke="#0000d0" stroke-width="1.2"/>
</g>
<g stroke="#0000d0" stroke-width="1.15" opacity="1.0">
<line x1="661.50" y1="240.58" x2="661.50" y2="251.80" stroke="#0000d0" stroke-width="1.15"/>
<line x1="659.70" y1="240.58" x2="663.30" y2="240.58" stroke="#0000d0" stroke-width="1.2"/>
<line x1="659.70" y1="251.80" x2="663.30" y2="251.80" stroke="#0000d0" stroke-width="1.2"/>
</g>
<g stroke="#0000d0" stroke-width="1.15" opacity="1.0">
<line x1="682.50" y1="242.33" x2="682.50" y2="253.55" stroke="#0000d0" stroke-width="1.15"/>
<line x1="680.70" y1="242.33" x2="684.30" y2="242.33" stroke="#0000d0" stroke-width="1.2"/>
<line x1="680.70" y1="253.55" x2="684.30" y2="253.55" stroke="#0000d0" stroke-width="1.2"/>
</g>
<polyline points="550.05,223.89 556.00,208.46 561.95,218.63 567.90,223.89 573.85,224.94 579.80,225.99 585.75,225.99 597.95,226.41 600.48,236.65 607.41,240.02 612.67,240.02 617.93,238.61 638.96,240.02 659.99,240.02 681.02,240.58" fill="none" stroke="#0a7a0a" stroke-width="1.05"/>
<circle cx="550.05" cy="223.89" r="1.85" fill="#0a7a0a"/>
<circle cx="556.00" cy="208.46" r="1.85" fill="#0a7a0a"/>
<circle cx="561.95" cy="218.63" r="1.85" fill="#0a7a0a"/>
<circle cx="567.90" cy="223.89" r="1.85" fill="#0a7a0a"/>
<circle cx="573.85" cy="224.94" r="1.85" fill="#0a7a0a"/>
<circle cx="579.80" cy="225.99" r="1.85" fill="#0a7a0a"/>
<circle cx="585.75" cy="225.99" r="1.85" fill="#0a7a0a"/>
<circle cx="597.95" cy="226.41" r="1.85" fill="#0a7a0a"/>
<circle cx="600.48" cy="236.65" r="1.85" fill="#0a7a0a"/>
<circle cx="607.41" cy="240.02" r="1.85" fill="#0a7a0a"/>
<circle cx="612.67" cy="240.02" r="1.85" fill="#0a7a0a"/>
<circle cx="617.93" cy="238.61" r="1.85" fill="#0a7a0a"/>
<circle cx="638.96" cy="240.02" r="1.85" fill="#0a7a0a"/>
<circle cx="659.99" cy="240.02" r="1.85" fill="#0a7a0a"/>
<circle cx="681.02" cy="240.58" r="1.85" fill="#0a7a0a"/>
<polyline points="550.75,216.38 556.70,196.11 562.65,208.04 568.60,213.08 574.55,214.56 580.50,214.56 586.45,213.44 598.65,214.14 601.18,210.77 608.12,208.95 613.37,209.16 618.63,209.65 639.66,214.56 660.69,217.99 681.72,222.06" fill="none" stroke="#ff0a0a" stroke-width="1.05"/>
<rect x="548.90" y="214.53" width="3.70" height="3.70" fill="#ff0a0a"/>
<rect x="554.85" y="194.26" width="3.70" height="3.70" fill="#ff0a0a"/>
<rect x="560.80" y="206.19" width="3.70" height="3.70" fill="#ff0a0a"/>
<rect x="566.75" y="211.23" width="3.70" height="3.70" fill="#ff0a0a"/>
<rect x="572.70" y="212.71" width="3.70" height="3.70" fill="#ff0a0a"/>
<rect x="578.65" y="212.71" width="3.70" height="3.70" fill="#ff0a0a"/>
<rect x="584.60" y="211.59" width="3.70" height="3.70" fill="#ff0a0a"/>
<rect x="596.80" y="212.29" width="3.70" height="3.70" fill="#ff0a0a"/>
<rect x="599.33" y="208.92" width="3.70" height="3.70" fill="#ff0a0a"/>
<rect x="606.26" y="207.10" width="3.70" height="3.70" fill="#ff0a0a"/>
<rect x="611.52" y="207.31" width="3.70" height="3.70" fill="#ff0a0a"/>
<rect x="616.78" y="207.80" width="3.70" height="3.70" fill="#ff0a0a"/>
<rect x="637.81" y="212.71" width="3.70" height="3.70" fill="#ff0a0a"/>
<rect x="658.84" y="216.14" width="3.70" height="3.70" fill="#ff0a0a"/>
<rect x="679.87" y="220.21" width="3.70" height="3.70" fill="#ff0a0a"/>
<polyline points="551.35,215.47 557.30,199.34 563.25,214.84 569.20,219.82 575.15,219.33 581.10,218.70 587.05,218.70 599.25,220.52 601.78,236.72 608.72,239.67 613.97,241.14 619.23,242.40 640.26,242.96 661.29,246.19 682.32,247.94" fill="none" stroke="#0000d8" stroke-width="1.05"/>
<polygon points="551.35,213.13 549.22,217.20 553.48,217.20" fill="#0000d8"/>
<polygon points="557.30,197.00 555.17,201.07 559.43,201.07" fill="#0000d8"/>
<polygon points="563.25,212.50 561.12,216.57 565.38,216.57" fill="#0000d8"/>
<polygon points="569.20,217.48 567.07,221.55 571.33,221.55" fill="#0000d8"/>
<polygon points="575.15,216.99 573.02,221.06 577.28,221.06" fill="#0000d8"/>
<polygon points="581.10,216.36 578.97,220.43 583.23,220.43" fill="#0000d8"/>
<polygon points="587.05,216.36 584.92,220.43 589.18,220.43" fill="#0000d8"/>
<polygon points="599.25,218.18 597.12,222.25 601.38,222.25" fill="#0000d8"/>
<polygon points="601.78,234.38 599.65,238.45 603.90,238.45" fill="#0000d8"/>
<polygon points="608.72,237.33 606.59,241.40 610.84,241.40" fill="#0000d8"/>
<polygon points="613.97,238.80 611.85,242.87 616.10,242.87" fill="#0000d8"/>
<polygon points="619.23,240.06 617.10,244.13 621.36,244.13" fill="#0000d8"/>
<polygon points="640.26,240.62 638.13,244.69 642.39,244.69" fill="#0000d8"/>
<polygon points="661.29,243.85 659.16,247.92 663.42,247.92" fill="#0000d8"/>
<polygon points="682.32,245.60 680.19,249.67 684.45,249.67" fill="#0000d8"/>
<line x1="544.40" y1="179.00" x2="544.40" y2="284.80" stroke="#000" stroke-width="1.3"/>
<line x1="542.40" y1="266.67" x2="544.40" y2="266.67" stroke="#000" stroke-width="0.9"/>
<line x1="542.40" y1="231.60" x2="544.40" y2="231.60" stroke="#000" stroke-width="0.9"/>
<line x1="542.40" y1="196.53" x2="544.40" y2="196.53" stroke="#000" stroke-width="0.9"/>
<line x1="541.60" y1="284.20" x2="544.40" y2="284.20" stroke="#000" stroke-width="1.0"/>
<text x="541.70" y="286.54" font-size="6.5" font-weight="bold" text-anchor="end" fill="#000">0</text>
<line x1="541.60" y1="249.13" x2="544.40" y2="249.13" stroke="#000" stroke-width="1.0"/>
<text x="541.70" y="251.47" font-size="6.5" font-weight="bold" text-anchor="end" fill="#000">50</text>
<line x1="541.60" y1="214.07" x2="544.40" y2="214.07" stroke="#000" stroke-width="1.0"/>
<text x="541.70" y="216.41" font-size="6.5" font-weight="bold" text-anchor="end" fill="#000">100</text>
<line x1="541.60" y1="179.00" x2="544.40" y2="179.00" stroke="#000" stroke-width="1.0"/>
<text x="541.70" y="181.34" font-size="6.5" font-weight="bold" text-anchor="end" fill="#000">150</text>
<line x1="543.80" y1="284.20" x2="594.60" y2="284.20" stroke="#000" stroke-width="1.3"/>
<line x1="595.60" y1="284.20" x2="682.50" y2="284.20" stroke="#000" stroke-width="1.3"/>
<line x1="595.60" y1="282.40" x2="595.60" y2="284.80" stroke="#000" stroke-width="1.0"/>
<line x1="550.75" y1="284.20" x2="550.75" y2="286.20" stroke="#000" stroke-width="0.9"/>
<line x1="556.70" y1="284.20" x2="556.70" y2="287.00" stroke="#000" stroke-width="1.0"/>
<text x="556.70" y="293.00" font-size="6.9" font-weight="bold" text-anchor="middle" fill="#000">0</text>
<line x1="562.65" y1="284.20" x2="562.65" y2="286.20" stroke="#000" stroke-width="0.9"/>
<line x1="568.60" y1="284.20" x2="568.60" y2="286.20" stroke="#000" stroke-width="0.9"/>
<line x1="574.55" y1="284.20" x2="574.55" y2="286.20" stroke="#000" stroke-width="0.9"/>
<line x1="580.50" y1="284.20" x2="580.50" y2="287.00" stroke="#000" stroke-width="1.0"/>
<text x="580.50" y="293.00" font-size="6.9" font-weight="bold" text-anchor="middle" fill="#000">1</text>
<line x1="586.45" y1="284.20" x2="586.45" y2="286.20" stroke="#000" stroke-width="0.9"/>
<line x1="592.40" y1="284.20" x2="592.40" y2="286.20" stroke="#000" stroke-width="0.9"/>
<line x1="597.60" y1="284.20" x2="597.60" y2="287.00" stroke="#000" stroke-width="1.0"/>
<text x="597.60" y="293.00" font-size="6.9" font-weight="bold" text-anchor="middle" fill="#000">0</text>
<line x1="602.86" y1="284.20" x2="602.86" y2="286.20" stroke="#000" stroke-width="0.9"/>
<line x1="608.12" y1="284.20" x2="608.12" y2="286.20" stroke="#000" stroke-width="0.9"/>
<line x1="613.37" y1="284.20" x2="613.37" y2="286.20" stroke="#000" stroke-width="0.9"/>
<line x1="618.63" y1="284.20" x2="618.63" y2="287.00" stroke="#000" stroke-width="1.0"/>
<text x="618.63" y="293.00" font-size="6.9" font-weight="bold" text-anchor="middle" fill="#000">1</text>
<line x1="623.89" y1="284.20" x2="623.89" y2="286.20" stroke="#000" stroke-width="0.9"/>
<line x1="629.14" y1="284.20" x2="629.14" y2="286.20" stroke="#000" stroke-width="0.9"/>
<line x1="634.40" y1="284.20" x2="634.40" y2="286.20" stroke="#000" stroke-width="0.9"/>
<line x1="639.66" y1="284.20" x2="639.66" y2="287.00" stroke="#000" stroke-width="1.0"/>
<text x="639.66" y="293.00" font-size="6.9" font-weight="bold" text-anchor="middle" fill="#000">2</text>
<line x1="644.92" y1="284.20" x2="644.92" y2="286.20" stroke="#000" stroke-width="0.9"/>
<line x1="650.18" y1="284.20" x2="650.18" y2="286.20" stroke="#000" stroke-width="0.9"/>
<line x1="655.43" y1="284.20" x2="655.43" y2="286.20" stroke="#000" stroke-width="0.9"/>
<line x1="660.69" y1="284.20" x2="660.69" y2="287.00" stroke="#000" stroke-width="1.0"/>
<text x="660.69" y="293.00" font-size="6.9" font-weight="bold" text-anchor="middle" fill="#000">3</text>
<line x1="665.95" y1="284.20" x2="665.95" y2="286.20" stroke="#000" stroke-width="0.9"/>
<line x1="671.21" y1="284.20" x2="671.21" y2="286.20" stroke="#000" stroke-width="0.9"/>
<line x1="676.46" y1="284.20" x2="676.46" y2="286.20" stroke="#000" stroke-width="0.9"/>
<line x1="681.72" y1="284.20" x2="681.72" y2="287.00" stroke="#000" stroke-width="1.0"/>
<text x="681.72" y="293.00" font-size="6.9" font-weight="bold" text-anchor="middle" fill="#000">4</text>
<text x="570.10" y="301.10" font-size="7.4" font-weight="bold" text-anchor="middle" fill="#000">Haemorrhage</text>
<text x="570.40" y="309.60" font-size="7.5" font-weight="bold" text-anchor="middle" fill="#000">(hours)</text>
<text x="640.75" y="301.10" font-size="7.4" font-weight="bold" text-anchor="middle" fill="#000">Resuscitation</text>
<text x="641.05" y="309.60" font-size="7.5" font-weight="bold" text-anchor="middle" fill="#000">(hours)</text>
<text x="526.40" y="228.90" font-size="7.5" font-weight="bold" text-anchor="middle" transform="rotate(-90 526.40 228.90)">haemoglobin (g/l)</text>
<line x1="598.00" y1="187.20" x2="598.00" y2="185.50" stroke="#ff4a4a" stroke-width="0.85"/>
<line x1="598.00" y1="187.20" x2="599.62" y2="186.67" stroke="#ff4a4a" stroke-width="0.85"/>
<line x1="598.00" y1="187.20" x2="599.00" y2="188.58" stroke="#ff4a4a" stroke-width="0.85"/>
<line x1="598.00" y1="187.20" x2="597.00" y2="188.58" stroke="#ff4a4a" stroke-width="0.85"/>
<line x1="598.00" y1="187.20" x2="596.38" y2="186.67" stroke="#ff4a4a" stroke-width="0.85"/>
<line x1="603.20" y1="187.20" x2="603.20" y2="185.50" stroke="#ff4a4a" stroke-width="0.85"/>
<line x1="603.20" y1="187.20" x2="604.82" y2="186.67" stroke="#ff4a4a" stroke-width="0.85"/>
<line x1="603.20" y1="187.20" x2="604.20" y2="188.58" stroke="#ff4a4a" stroke-width="0.85"/>
<line x1="603.20" y1="187.20" x2="602.20" y2="188.58" stroke="#ff4a4a" stroke-width="0.85"/>
<line x1="603.20" y1="187.20" x2="601.58" y2="186.67" stroke="#ff4a4a" stroke-width="0.85"/>
<line x1="600.60" y1="190.70" x2="600.60" y2="189.00" stroke="#ff4a4a" stroke-width="0.85"/>
<line x1="600.60" y1="190.70" x2="602.22" y2="190.17" stroke="#ff4a4a" stroke-width="0.85"/>
<line x1="600.60" y1="190.70" x2="601.60" y2="192.08" stroke="#ff4a4a" stroke-width="0.85"/>
<line x1="600.60" y1="190.70" x2="599.60" y2="192.08" stroke="#ff4a4a" stroke-width="0.85"/>
<line x1="600.60" y1="190.70" x2="598.98" y2="190.17" stroke="#ff4a4a" stroke-width="0.85"/>
<line x1="616.40" y1="187.20" x2="616.40" y2="185.50" stroke="#ff4a4a" stroke-width="0.85"/>
<line x1="616.40" y1="187.20" x2="618.02" y2="186.67" stroke="#ff4a4a" stroke-width="0.85"/>
<line x1="616.40" y1="187.20" x2="617.40" y2="188.58" stroke="#ff4a4a" stroke-width="0.85"/>
<line x1="616.40" y1="187.20" x2="615.40" y2="188.58" stroke="#ff4a4a" stroke-width="0.85"/>
<line x1="616.40" y1="187.20" x2="614.78" y2="186.67" stroke="#ff4a4a" stroke-width="0.85"/>
<line x1="621.60" y1="187.20" x2="621.60" y2="185.50" stroke="#ff4a4a" stroke-width="0.85"/>
<line x1="621.60" y1="187.20" x2="623.22" y2="186.67" stroke="#ff4a4a" stroke-width="0.85"/>
<line x1="621.60" y1="187.20" x2="622.60" y2="188.58" stroke="#ff4a4a" stroke-width="0.85"/>
<line x1="621.60" y1="187.20" x2="620.60" y2="188.58" stroke="#ff4a4a" stroke-width="0.85"/>
<line x1="621.60" y1="187.20" x2="619.98" y2="186.67" stroke="#ff4a4a" stroke-width="0.85"/>
<line x1="619.00" y1="190.70" x2="619.00" y2="189.00" stroke="#ff4a4a" stroke-width="0.85"/>
<line x1="619.00" y1="190.70" x2="620.62" y2="190.17" stroke="#ff4a4a" stroke-width="0.85"/>
<line x1="619.00" y1="190.70" x2="620.00" y2="192.08" stroke="#ff4a4a" stroke-width="0.85"/>
<line x1="619.00" y1="190.70" x2="618.00" y2="192.08" stroke="#ff4a4a" stroke-width="0.85"/>
<line x1="619.00" y1="190.70" x2="617.38" y2="190.17" stroke="#ff4a4a" stroke-width="0.85"/>
<line x1="636.40" y1="187.20" x2="636.40" y2="185.50" stroke="#ff4a4a" stroke-width="0.85"/>
<line x1="636.40" y1="187.20" x2="638.02" y2="186.67" stroke="#ff4a4a" stroke-width="0.85"/>
<line x1="636.40" y1="187.20" x2="637.40" y2="188.58" stroke="#ff4a4a" stroke-width="0.85"/>
<line x1="636.40" y1="187.20" x2="635.40" y2="188.58" stroke="#ff4a4a" stroke-width="0.85"/>
<line x1="636.40" y1="187.20" x2="634.78" y2="186.67" stroke="#ff4a4a" stroke-width="0.85"/>
<line x1="641.60" y1="187.20" x2="641.60" y2="185.50" stroke="#ff4a4a" stroke-width="0.85"/>
<line x1="641.60" y1="187.20" x2="643.22" y2="186.67" stroke="#ff4a4a" stroke-width="0.85"/>
<line x1="641.60" y1="187.20" x2="642.60" y2="188.58" stroke="#ff4a4a" stroke-width="0.85"/>
<line x1="641.60" y1="187.20" x2="640.60" y2="188.58" stroke="#ff4a4a" stroke-width="0.85"/>
<line x1="641.60" y1="187.20" x2="639.98" y2="186.67" stroke="#ff4a4a" stroke-width="0.85"/>
<line x1="639.00" y1="190.70" x2="639.00" y2="189.00" stroke="#ff4a4a" stroke-width="0.85"/>
<line x1="639.00" y1="190.70" x2="640.62" y2="190.17" stroke="#ff4a4a" stroke-width="0.85"/>
<line x1="639.00" y1="190.70" x2="640.00" y2="192.08" stroke="#ff4a4a" stroke-width="0.85"/>
<line x1="639.00" y1="190.70" x2="638.00" y2="192.08" stroke="#ff4a4a" stroke-width="0.85"/>
<line x1="639.00" y1="190.70" x2="637.38" y2="190.17" stroke="#ff4a4a" stroke-width="0.85"/>
<line x1="657.80" y1="187.20" x2="657.80" y2="185.50" stroke="#ff4a4a" stroke-width="0.85"/>
<line x1="657.80" y1="187.20" x2="659.42" y2="186.67" stroke="#ff4a4a" stroke-width="0.85"/>
<line x1="657.80" y1="187.20" x2="658.80" y2="188.58" stroke="#ff4a4a" stroke-width="0.85"/>
<line x1="657.80" y1="187.20" x2="656.80" y2="188.58" stroke="#ff4a4a" stroke-width="0.85"/>
<line x1="657.80" y1="187.20" x2="656.18" y2="186.67" stroke="#ff4a4a" stroke-width="0.85"/>
<line x1="663.00" y1="187.20" x2="663.00" y2="185.50" stroke="#ff4a4a" stroke-width="0.85"/>
<line x1="663.00" y1="187.20" x2="664.62" y2="186.67" stroke="#ff4a4a" stroke-width="0.85"/>
<line x1="663.00" y1="187.20" x2="664.00" y2="188.58" stroke="#ff4a4a" stroke-width="0.85"/>
<line x1="663.00" y1="187.20" x2="662.00" y2="188.58" stroke="#ff4a4a" stroke-width="0.85"/>
<line x1="663.00" y1="187.20" x2="661.38" y2="186.67" stroke="#ff4a4a" stroke-width="0.85"/>
<line x1="660.40" y1="190.70" x2="660.40" y2="189.00" stroke="#ff4a4a" stroke-width="0.85"/>
<line x1="660.40" y1="190.70" x2="662.02" y2="190.17" stroke="#ff4a4a" stroke-width="0.85"/>
<line x1="660.40" y1="190.70" x2="661.40" y2="192.08" stroke="#ff4a4a" stroke-width="0.85"/>
<line x1="660.40" y1="190.70" x2="659.40" y2="192.08" stroke="#ff4a4a" stroke-width="0.85"/>
<line x1="660.40" y1="190.70" x2="658.78" y2="190.17" stroke="#ff4a4a" stroke-width="0.85"/>
<line x1="678.10" y1="187.20" x2="678.10" y2="185.50" stroke="#ff4a4a" stroke-width="0.85"/>
<line x1="678.10" y1="187.20" x2="679.72" y2="186.67" stroke="#ff4a4a" stroke-width="0.85"/>
<line x1="678.10" y1="187.20" x2="679.10" y2="188.58" stroke="#ff4a4a" stroke-width="0.85"/>
<line x1="678.10" y1="187.20" x2="677.10" y2="188.58" stroke="#ff4a4a" stroke-width="0.85"/>
<line x1="678.10" y1="187.20" x2="676.48" y2="186.67" stroke="#ff4a4a" stroke-width="0.85"/>
<line x1="683.30" y1="187.20" x2="683.30" y2="185.50" stroke="#ff4a4a" stroke-width="0.85"/>
<line x1="683.30" y1="187.20" x2="684.92" y2="186.67" stroke="#ff4a4a" stroke-width="0.85"/>
<line x1="683.30" y1="187.20" x2="684.30" y2="188.58" stroke="#ff4a4a" stroke-width="0.85"/>
<line x1="683.30" y1="187.20" x2="682.30" y2="188.58" stroke="#ff4a4a" stroke-width="0.85"/>
<line x1="683.30" y1="187.20" x2="681.68" y2="186.67" stroke="#ff4a4a" stroke-width="0.85"/>
<line x1="680.70" y1="190.70" x2="680.70" y2="189.00" stroke="#ff4a4a" stroke-width="0.85"/>
<line x1="680.70" y1="190.70" x2="682.32" y2="190.17" stroke="#ff4a4a" stroke-width="0.85"/>
<line x1="680.70" y1="190.70" x2="681.70" y2="192.08" stroke="#ff4a4a" stroke-width="0.85"/>
<line x1="680.70" y1="190.70" x2="679.70" y2="192.08" stroke="#ff4a4a" stroke-width="0.85"/>
<line x1="680.70" y1="190.70" x2="679.08" y2="190.17" stroke="#ff4a4a" stroke-width="0.85"/>
</svg>
</body></html>
